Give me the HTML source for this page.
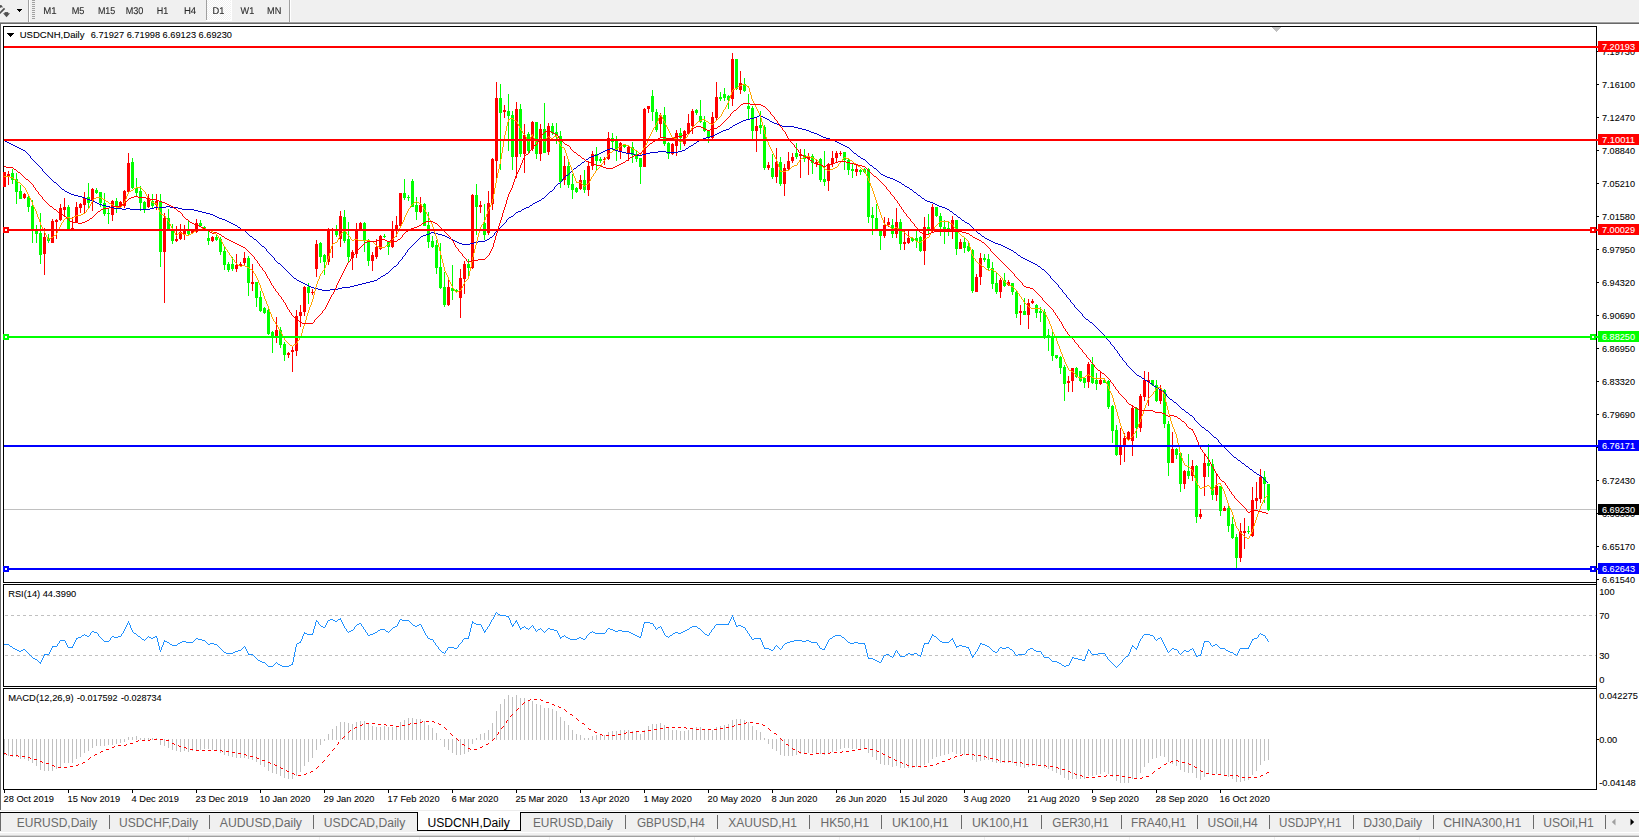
<!DOCTYPE html>
<html><head><meta charset="utf-8"><title>USDCNH,Daily</title>
<style>
html,body{margin:0;padding:0;background:#fff;}
body{width:1639px;height:840px;overflow:hidden;}
svg{display:block;font-family:"Liberation Sans",sans-serif;}
svg text{white-space:pre;}
#tbl{position:absolute;left:0;top:0;width:300px;height:22px;will-change:transform;font:9.9px/12px "Liberation Sans",sans-serif;color:#2c2c2c;-webkit-text-stroke:0.07px #2c2c2c;}
#tbl span{position:absolute;top:5.5px;margin-left:0.3px;transform-origin:0 0;white-space:pre;}
</style></head><body>
<svg width="1639" height="840" viewBox="0 0 1639 840">
<rect x="0" y="0" width="1639" height="840" fill="#ffffff"/>
<g id="toolbar">
<rect x="0" y="0" width="1639" height="22" fill="#f0f0f0"/>
<rect x="0" y="21" width="1639" height="1" fill="#f5f5f5"/>
<rect x="0" y="22" width="1639" height="1" fill="#a0a0a0"/>
<rect x="0" y="23" width="1639" height="1" fill="#696969"/>
<rect x="28" y="0" width="1" height="22" fill="#a0a0a0"/>
<rect x="29" y="0" width="1" height="22" fill="#ffffff"/>
<rect x="32" y="0" width="3" height="1" fill="#a0a0a0"/>
<rect x="32" y="2" width="3" height="1" fill="#a0a0a0"/>
<rect x="32" y="4" width="3" height="1" fill="#a0a0a0"/>
<rect x="32" y="6" width="3" height="1" fill="#a0a0a0"/>
<rect x="32" y="8" width="3" height="1" fill="#a0a0a0"/>
<rect x="32" y="10" width="3" height="1" fill="#a0a0a0"/>
<rect x="32" y="12" width="3" height="1" fill="#a0a0a0"/>
<rect x="32" y="14" width="3" height="1" fill="#a0a0a0"/>
<rect x="32" y="16" width="3" height="1" fill="#a0a0a0"/>
<rect x="32" y="18" width="3" height="1" fill="#a0a0a0"/>
<rect x="17" y="9" width="5" height="1" fill="#000"/>
<rect x="18" y="10" width="3" height="1" fill="#000"/>
<rect x="19" y="11" width="1" height="1" fill="#000"/>
<path d="M0 5 L1.6 5.2 L3 7.4 L1.5 7.2 L0 8 Z" fill="#505050"/>
<path d="M-0.5 13.4 L4.6 8.4" stroke="#505050" stroke-width="1.8" fill="none"/>
<path d="M3 13.2 L10 13.2 L6.5 17.2 Z" fill="#505050"/><path d="M4.6 12.1 L8.2 12.1 L8.2 14 L4.6 14 Z" fill="#505050"/>
<defs><pattern id="chk" x="207" y="0" width="2" height="2" patternUnits="userSpaceOnUse"><rect width="2" height="2" fill="#f0f0f0"/><rect width="1" height="1" fill="#fff"/><rect x="1" y="1" width="1" height="1" fill="#fff"/></pattern></defs>
<rect x="206" y="0" width="1" height="20" fill="#a0a0a0"/>
<rect x="207" y="0" width="24" height="20" fill="url(#chk)" shape-rendering="crispEdges"/>
<rect x="231" y="0" width="1" height="21" fill="#fff"/>
<rect x="206" y="20" width="26" height="1" fill="#fff"/>
<rect x="289" y="0" width="1" height="22" fill="#a0a0a0"/>
<rect x="290" y="0" width="1" height="22" fill="#ffffff"/>
</g>
<rect x="0" y="23" width="1" height="787" fill="#696969"/>
<g id="frames" fill="#000">
<rect x="3" y="26" width="1594" height="1" fill="#000"/>
<rect x="3" y="582" width="1594" height="1" fill="#000"/>
<rect x="3" y="26" width="1" height="557" fill="#000"/>
<rect x="3" y="584" width="1594" height="1" fill="#000"/>
<rect x="3" y="686" width="1594" height="1" fill="#000"/>
<rect x="3" y="584" width="1" height="103" fill="#000"/>
<rect x="3" y="688" width="1594" height="1" fill="#000"/>
<rect x="3" y="789" width="1594" height="1" fill="#000"/>
<rect x="3" y="688" width="1" height="102" fill="#000"/>
<rect x="1596" y="26" width="1" height="764" fill="#000"/>
</g>
<rect x="1272" y="27" width="9" height="1" fill="#c0c0c0"/>
<rect x="1273" y="28" width="7" height="1" fill="#c0c0c0"/>
<rect x="1274" y="29" width="5" height="1" fill="#c0c0c0"/>
<rect x="1275" y="30" width="3" height="1" fill="#c0c0c0"/>
<rect x="1276" y="31" width="1" height="1" fill="#c0c0c0"/>
<rect x="4" y="509" width="1592" height="1" fill="#c0c0c0"/>
<g id="candles" shape-rendering="crispEdges">
<rect x="4" y="172" width="1" height="15" fill="#ff0000"/>
<rect x="3" y="172" width="3" height="15" fill="#ff0000"/>
<rect x="8" y="171" width="1" height="14" fill="#ff0000"/>
<rect x="7" y="174" width="3" height="2" fill="#ff0000"/>
<rect x="12" y="169" width="1" height="15" fill="#00ff00"/>
<rect x="11" y="173" width="3" height="7" fill="#00ff00"/>
<rect x="16" y="173" width="1" height="31" fill="#00ff00"/>
<rect x="15" y="179" width="3" height="13" fill="#00ff00"/>
<rect x="20" y="185" width="1" height="14" fill="#00ff00"/>
<rect x="19" y="191" width="3" height="8" fill="#00ff00"/>
<rect x="24" y="193" width="1" height="6" fill="#ff0000"/>
<rect x="23" y="194" width="3" height="4" fill="#ff0000"/>
<rect x="28" y="196" width="1" height="16" fill="#00ff00"/>
<rect x="27" y="197" width="3" height="10" fill="#00ff00"/>
<rect x="32" y="200" width="1" height="43" fill="#00ff00"/>
<rect x="31" y="206" width="3" height="24" fill="#00ff00"/>
<rect x="36" y="225" width="1" height="18" fill="#00ff00"/>
<rect x="35" y="230" width="3" height="4" fill="#00ff00"/>
<rect x="40" y="213" width="1" height="51" fill="#00ff00"/>
<rect x="39" y="233" width="3" height="22" fill="#00ff00"/>
<rect x="44" y="228" width="1" height="47" fill="#ff0000"/>
<rect x="43" y="237" width="3" height="17" fill="#ff0000"/>
<rect x="48" y="234" width="1" height="9" fill="#00ff00"/>
<rect x="47" y="238" width="3" height="3" fill="#00ff00"/>
<rect x="52" y="219" width="1" height="24" fill="#ff0000"/>
<rect x="51" y="221" width="3" height="22" fill="#ff0000"/>
<rect x="56" y="219" width="1" height="20" fill="#ff0000"/>
<rect x="55" y="220" width="3" height="2" fill="#ff0000"/>
<rect x="60" y="204" width="1" height="17" fill="#ff0000"/>
<rect x="59" y="208" width="3" height="12" fill="#ff0000"/>
<rect x="64" y="198" width="1" height="19" fill="#ff0000"/>
<rect x="63" y="207" width="3" height="3" fill="#ff0000"/>
<rect x="68" y="205" width="1" height="24" fill="#00ff00"/>
<rect x="67" y="207" width="3" height="22" fill="#00ff00"/>
<rect x="72" y="217" width="1" height="12" fill="#ff0000"/>
<rect x="71" y="228" width="3" height="1" fill="#ff0000"/>
<rect x="76" y="202" width="1" height="21" fill="#ff0000"/>
<rect x="75" y="207" width="3" height="16" fill="#ff0000"/>
<rect x="80" y="203" width="1" height="10" fill="#ff0000"/>
<rect x="79" y="204" width="3" height="4" fill="#ff0000"/>
<rect x="84" y="192" width="1" height="21" fill="#ff0000"/>
<rect x="83" y="198" width="3" height="7" fill="#ff0000"/>
<rect x="88" y="183" width="1" height="25" fill="#00ff00"/>
<rect x="87" y="197" width="3" height="6" fill="#00ff00"/>
<rect x="92" y="188" width="1" height="23" fill="#ff0000"/>
<rect x="91" y="189" width="3" height="12" fill="#ff0000"/>
<rect x="96" y="188" width="1" height="6" fill="#00ff00"/>
<rect x="95" y="190" width="3" height="3" fill="#00ff00"/>
<rect x="100" y="192" width="1" height="15" fill="#00ff00"/>
<rect x="99" y="192" width="3" height="11" fill="#00ff00"/>
<rect x="104" y="193" width="1" height="23" fill="#00ff00"/>
<rect x="103" y="203" width="3" height="11" fill="#00ff00"/>
<rect x="108" y="209" width="1" height="15" fill="#00ff00"/>
<rect x="107" y="213" width="3" height="1" fill="#00ff00"/>
<rect x="112" y="200" width="1" height="21" fill="#ff0000"/>
<rect x="111" y="201" width="3" height="14" fill="#ff0000"/>
<rect x="116" y="198" width="1" height="15" fill="#00ff00"/>
<rect x="115" y="201" width="3" height="5" fill="#00ff00"/>
<rect x="120" y="201" width="1" height="6" fill="#ff0000"/>
<rect x="119" y="202" width="3" height="4" fill="#ff0000"/>
<rect x="124" y="190" width="1" height="18" fill="#ff0000"/>
<rect x="123" y="191" width="3" height="15" fill="#ff0000"/>
<rect x="128" y="153" width="1" height="39" fill="#ff0000"/>
<rect x="127" y="163" width="3" height="29" fill="#ff0000"/>
<rect x="132" y="158" width="1" height="31" fill="#00ff00"/>
<rect x="131" y="162" width="3" height="26" fill="#00ff00"/>
<rect x="136" y="178" width="1" height="19" fill="#00ff00"/>
<rect x="135" y="188" width="3" height="5" fill="#00ff00"/>
<rect x="140" y="186" width="1" height="25" fill="#00ff00"/>
<rect x="139" y="191" width="3" height="12" fill="#00ff00"/>
<rect x="144" y="201" width="1" height="12" fill="#00ff00"/>
<rect x="143" y="202" width="3" height="8" fill="#00ff00"/>
<rect x="148" y="194" width="1" height="14" fill="#ff0000"/>
<rect x="147" y="199" width="3" height="8" fill="#ff0000"/>
<rect x="152" y="194" width="1" height="14" fill="#00ff00"/>
<rect x="151" y="201" width="3" height="5" fill="#00ff00"/>
<rect x="156" y="194" width="1" height="16" fill="#ff0000"/>
<rect x="155" y="201" width="3" height="4" fill="#ff0000"/>
<rect x="160" y="194" width="1" height="73" fill="#00ff00"/>
<rect x="159" y="201" width="3" height="51" fill="#00ff00"/>
<rect x="164" y="213" width="1" height="90" fill="#ff0000"/>
<rect x="163" y="218" width="3" height="34" fill="#ff0000"/>
<rect x="168" y="209" width="1" height="21" fill="#00ff00"/>
<rect x="167" y="218" width="3" height="11" fill="#00ff00"/>
<rect x="172" y="224" width="1" height="20" fill="#00ff00"/>
<rect x="171" y="231" width="3" height="10" fill="#00ff00"/>
<rect x="176" y="226" width="1" height="16" fill="#ff0000"/>
<rect x="175" y="239" width="3" height="2" fill="#ff0000"/>
<rect x="180" y="224" width="1" height="16" fill="#ff0000"/>
<rect x="179" y="232" width="3" height="7" fill="#ff0000"/>
<rect x="184" y="225" width="1" height="15" fill="#ff0000"/>
<rect x="183" y="231" width="3" height="3" fill="#ff0000"/>
<rect x="188" y="221" width="1" height="15" fill="#00ff00"/>
<rect x="187" y="230" width="3" height="4" fill="#00ff00"/>
<rect x="192" y="230" width="1" height="4" fill="#ff0000"/>
<rect x="191" y="231" width="3" height="2" fill="#ff0000"/>
<rect x="196" y="219" width="1" height="14" fill="#ff0000"/>
<rect x="195" y="223" width="3" height="9" fill="#ff0000"/>
<rect x="200" y="220" width="1" height="7" fill="#00ff00"/>
<rect x="199" y="223" width="3" height="3" fill="#00ff00"/>
<rect x="204" y="226" width="1" height="5" fill="#00ff00"/>
<rect x="203" y="227" width="3" height="3" fill="#00ff00"/>
<rect x="208" y="231" width="1" height="14" fill="#00ff00"/>
<rect x="207" y="238" width="3" height="3" fill="#00ff00"/>
<rect x="212" y="236" width="1" height="6" fill="#ff0000"/>
<rect x="211" y="237" width="3" height="4" fill="#ff0000"/>
<rect x="216" y="235" width="1" height="6" fill="#00ff00"/>
<rect x="215" y="237" width="3" height="3" fill="#00ff00"/>
<rect x="220" y="237" width="1" height="18" fill="#00ff00"/>
<rect x="219" y="239" width="3" height="13" fill="#00ff00"/>
<rect x="224" y="246" width="1" height="24" fill="#00ff00"/>
<rect x="223" y="251" width="3" height="14" fill="#00ff00"/>
<rect x="228" y="262" width="1" height="10" fill="#00ff00"/>
<rect x="227" y="264" width="3" height="6" fill="#00ff00"/>
<rect x="232" y="257" width="1" height="14" fill="#00ff00"/>
<rect x="231" y="264" width="3" height="5" fill="#00ff00"/>
<rect x="236" y="254" width="1" height="18" fill="#ff0000"/>
<rect x="235" y="265" width="3" height="4" fill="#ff0000"/>
<rect x="240" y="262" width="1" height="5" fill="#ff0000"/>
<rect x="239" y="264" width="3" height="2" fill="#ff0000"/>
<rect x="244" y="252" width="1" height="13" fill="#ff0000"/>
<rect x="243" y="258" width="3" height="5" fill="#ff0000"/>
<rect x="248" y="256" width="1" height="40" fill="#00ff00"/>
<rect x="247" y="258" width="3" height="25" fill="#00ff00"/>
<rect x="252" y="264" width="1" height="27" fill="#ff0000"/>
<rect x="251" y="282" width="3" height="2" fill="#ff0000"/>
<rect x="256" y="282" width="1" height="25" fill="#00ff00"/>
<rect x="255" y="282" width="3" height="16" fill="#00ff00"/>
<rect x="260" y="291" width="1" height="21" fill="#00ff00"/>
<rect x="259" y="297" width="3" height="14" fill="#00ff00"/>
<rect x="264" y="307" width="1" height="7" fill="#00ff00"/>
<rect x="263" y="308" width="3" height="5" fill="#00ff00"/>
<rect x="268" y="309" width="1" height="26" fill="#00ff00"/>
<rect x="267" y="310" width="3" height="24" fill="#00ff00"/>
<rect x="272" y="331" width="1" height="22" fill="#00ff00"/>
<rect x="271" y="332" width="3" height="5" fill="#00ff00"/>
<rect x="276" y="317" width="1" height="26" fill="#ff0000"/>
<rect x="275" y="330" width="3" height="6" fill="#ff0000"/>
<rect x="280" y="327" width="1" height="21" fill="#00ff00"/>
<rect x="279" y="330" width="3" height="15" fill="#00ff00"/>
<rect x="284" y="342" width="1" height="19" fill="#00ff00"/>
<rect x="283" y="344" width="3" height="11" fill="#00ff00"/>
<rect x="288" y="352" width="1" height="6" fill="#ff0000"/>
<rect x="287" y="353" width="3" height="2" fill="#ff0000"/>
<rect x="292" y="347" width="1" height="25" fill="#ff0000"/>
<rect x="291" y="350" width="3" height="2" fill="#ff0000"/>
<rect x="296" y="310" width="1" height="46" fill="#ff0000"/>
<rect x="295" y="316" width="3" height="35" fill="#ff0000"/>
<rect x="300" y="305" width="1" height="22" fill="#ff0000"/>
<rect x="299" y="312" width="3" height="4" fill="#ff0000"/>
<rect x="304" y="286" width="1" height="30" fill="#ff0000"/>
<rect x="303" y="287" width="3" height="25" fill="#ff0000"/>
<rect x="308" y="283" width="1" height="21" fill="#00ff00"/>
<rect x="307" y="287" width="3" height="6" fill="#00ff00"/>
<rect x="312" y="289" width="1" height="6" fill="#ff0000"/>
<rect x="311" y="292" width="3" height="1" fill="#ff0000"/>
<rect x="316" y="240" width="1" height="37" fill="#ff0000"/>
<rect x="315" y="244" width="3" height="25" fill="#ff0000"/>
<rect x="320" y="242" width="1" height="21" fill="#00ff00"/>
<rect x="319" y="243" width="3" height="14" fill="#00ff00"/>
<rect x="324" y="254" width="1" height="21" fill="#00ff00"/>
<rect x="323" y="255" width="3" height="7" fill="#00ff00"/>
<rect x="328" y="228" width="1" height="37" fill="#ff0000"/>
<rect x="327" y="230" width="3" height="32" fill="#ff0000"/>
<rect x="332" y="228" width="1" height="30" fill="#ff0000"/>
<rect x="331" y="229" width="3" height="2" fill="#ff0000"/>
<rect x="336" y="225" width="1" height="12" fill="#00ff00"/>
<rect x="335" y="230" width="3" height="5" fill="#00ff00"/>
<rect x="340" y="211" width="1" height="36" fill="#ff0000"/>
<rect x="339" y="216" width="3" height="23" fill="#ff0000"/>
<rect x="344" y="210" width="1" height="33" fill="#00ff00"/>
<rect x="343" y="217" width="3" height="24" fill="#00ff00"/>
<rect x="348" y="222" width="1" height="40" fill="#00ff00"/>
<rect x="347" y="239" width="3" height="18" fill="#00ff00"/>
<rect x="352" y="250" width="1" height="20" fill="#ff0000"/>
<rect x="351" y="252" width="3" height="6" fill="#ff0000"/>
<rect x="356" y="223" width="1" height="35" fill="#ff0000"/>
<rect x="355" y="229" width="3" height="25" fill="#ff0000"/>
<rect x="360" y="222" width="1" height="8" fill="#ff0000"/>
<rect x="359" y="223" width="3" height="7" fill="#ff0000"/>
<rect x="364" y="222" width="1" height="30" fill="#00ff00"/>
<rect x="363" y="223" width="3" height="17" fill="#00ff00"/>
<rect x="368" y="239" width="1" height="27" fill="#00ff00"/>
<rect x="367" y="240" width="3" height="21" fill="#00ff00"/>
<rect x="372" y="252" width="1" height="19" fill="#ff0000"/>
<rect x="371" y="255" width="3" height="6" fill="#ff0000"/>
<rect x="376" y="239" width="1" height="20" fill="#ff0000"/>
<rect x="375" y="247" width="3" height="10" fill="#ff0000"/>
<rect x="380" y="235" width="1" height="15" fill="#ff0000"/>
<rect x="379" y="236" width="3" height="13" fill="#ff0000"/>
<rect x="384" y="234" width="1" height="4" fill="#00ff00"/>
<rect x="383" y="236" width="3" height="1" fill="#00ff00"/>
<rect x="388" y="242" width="1" height="13" fill="#00ff00"/>
<rect x="387" y="242" width="3" height="5" fill="#00ff00"/>
<rect x="392" y="221" width="1" height="27" fill="#ff0000"/>
<rect x="391" y="231" width="3" height="16" fill="#ff0000"/>
<rect x="396" y="216" width="1" height="21" fill="#ff0000"/>
<rect x="395" y="225" width="3" height="6" fill="#ff0000"/>
<rect x="400" y="193" width="1" height="33" fill="#ff0000"/>
<rect x="399" y="193" width="3" height="33" fill="#ff0000"/>
<rect x="404" y="179" width="1" height="21" fill="#00ff00"/>
<rect x="403" y="193" width="3" height="5" fill="#00ff00"/>
<rect x="408" y="195" width="1" height="6" fill="#00ff00"/>
<rect x="407" y="197" width="3" height="1" fill="#00ff00"/>
<rect x="412" y="179" width="1" height="28" fill="#00ff00"/>
<rect x="411" y="181" width="3" height="26" fill="#00ff00"/>
<rect x="416" y="197" width="1" height="23" fill="#00ff00"/>
<rect x="415" y="205" width="3" height="7" fill="#00ff00"/>
<rect x="420" y="197" width="1" height="16" fill="#ff0000"/>
<rect x="419" y="205" width="3" height="7" fill="#ff0000"/>
<rect x="424" y="203" width="1" height="23" fill="#00ff00"/>
<rect x="423" y="204" width="3" height="22" fill="#00ff00"/>
<rect x="428" y="212" width="1" height="36" fill="#00ff00"/>
<rect x="427" y="225" width="3" height="17" fill="#00ff00"/>
<rect x="432" y="236" width="1" height="12" fill="#00ff00"/>
<rect x="431" y="241" width="3" height="6" fill="#00ff00"/>
<rect x="436" y="240" width="1" height="34" fill="#00ff00"/>
<rect x="435" y="245" width="3" height="23" fill="#00ff00"/>
<rect x="440" y="243" width="1" height="46" fill="#00ff00"/>
<rect x="439" y="267" width="3" height="21" fill="#00ff00"/>
<rect x="444" y="272" width="1" height="35" fill="#00ff00"/>
<rect x="443" y="287" width="3" height="18" fill="#00ff00"/>
<rect x="448" y="280" width="1" height="26" fill="#ff0000"/>
<rect x="447" y="287" width="3" height="18" fill="#ff0000"/>
<rect x="452" y="265" width="1" height="35" fill="#00ff00"/>
<rect x="451" y="288" width="3" height="3" fill="#00ff00"/>
<rect x="456" y="289" width="1" height="3" fill="#00ff00"/>
<rect x="455" y="290" width="3" height="2" fill="#00ff00"/>
<rect x="460" y="269" width="1" height="49" fill="#ff0000"/>
<rect x="459" y="278" width="3" height="20" fill="#ff0000"/>
<rect x="464" y="261" width="1" height="33" fill="#ff0000"/>
<rect x="463" y="264" width="3" height="15" fill="#ff0000"/>
<rect x="468" y="259" width="1" height="17" fill="#00ff00"/>
<rect x="467" y="264" width="3" height="4" fill="#00ff00"/>
<rect x="472" y="194" width="1" height="75" fill="#ff0000"/>
<rect x="471" y="195" width="3" height="73" fill="#ff0000"/>
<rect x="476" y="184" width="1" height="51" fill="#00ff00"/>
<rect x="475" y="195" width="3" height="12" fill="#00ff00"/>
<rect x="480" y="201" width="1" height="12" fill="#ff0000"/>
<rect x="479" y="205" width="3" height="2" fill="#ff0000"/>
<rect x="484" y="204" width="1" height="36" fill="#00ff00"/>
<rect x="483" y="223" width="3" height="12" fill="#00ff00"/>
<rect x="488" y="191" width="1" height="44" fill="#ff0000"/>
<rect x="487" y="203" width="3" height="30" fill="#ff0000"/>
<rect x="492" y="158" width="1" height="52" fill="#ff0000"/>
<rect x="491" y="159" width="3" height="45" fill="#ff0000"/>
<rect x="496" y="82" width="1" height="96" fill="#ff0000"/>
<rect x="495" y="98" width="3" height="63" fill="#ff0000"/>
<rect x="500" y="84" width="1" height="86" fill="#00ff00"/>
<rect x="499" y="98" width="3" height="15" fill="#00ff00"/>
<rect x="504" y="105" width="1" height="13" fill="#ff0000"/>
<rect x="503" y="110" width="3" height="2" fill="#ff0000"/>
<rect x="508" y="94" width="1" height="57" fill="#00ff00"/>
<rect x="507" y="111" width="3" height="5" fill="#00ff00"/>
<rect x="512" y="111" width="1" height="59" fill="#00ff00"/>
<rect x="511" y="115" width="3" height="42" fill="#00ff00"/>
<rect x="516" y="102" width="1" height="76" fill="#ff0000"/>
<rect x="515" y="109" width="3" height="48" fill="#ff0000"/>
<rect x="520" y="104" width="1" height="53" fill="#00ff00"/>
<rect x="519" y="109" width="3" height="45" fill="#00ff00"/>
<rect x="524" y="124" width="1" height="49" fill="#ff0000"/>
<rect x="523" y="135" width="3" height="19" fill="#ff0000"/>
<rect x="528" y="132" width="1" height="22" fill="#00ff00"/>
<rect x="527" y="134" width="3" height="17" fill="#00ff00"/>
<rect x="532" y="121" width="1" height="30" fill="#ff0000"/>
<rect x="531" y="122" width="3" height="27" fill="#ff0000"/>
<rect x="536" y="122" width="1" height="37" fill="#00ff00"/>
<rect x="535" y="122" width="3" height="32" fill="#00ff00"/>
<rect x="540" y="124" width="1" height="37" fill="#ff0000"/>
<rect x="539" y="129" width="3" height="25" fill="#ff0000"/>
<rect x="544" y="103" width="1" height="50" fill="#00ff00"/>
<rect x="543" y="129" width="3" height="24" fill="#00ff00"/>
<rect x="548" y="123" width="1" height="32" fill="#ff0000"/>
<rect x="547" y="126" width="3" height="26" fill="#ff0000"/>
<rect x="552" y="123" width="1" height="12" fill="#00ff00"/>
<rect x="551" y="126" width="3" height="7" fill="#00ff00"/>
<rect x="556" y="123" width="1" height="21" fill="#00ff00"/>
<rect x="555" y="132" width="3" height="4" fill="#00ff00"/>
<rect x="560" y="131" width="1" height="57" fill="#00ff00"/>
<rect x="559" y="136" width="3" height="46" fill="#00ff00"/>
<rect x="564" y="156" width="1" height="29" fill="#ff0000"/>
<rect x="563" y="166" width="3" height="14" fill="#ff0000"/>
<rect x="568" y="162" width="1" height="26" fill="#00ff00"/>
<rect x="567" y="166" width="3" height="19" fill="#00ff00"/>
<rect x="572" y="174" width="1" height="25" fill="#00ff00"/>
<rect x="571" y="184" width="3" height="6" fill="#00ff00"/>
<rect x="576" y="187" width="1" height="6" fill="#00ff00"/>
<rect x="575" y="188" width="3" height="4" fill="#00ff00"/>
<rect x="580" y="175" width="1" height="15" fill="#ff0000"/>
<rect x="579" y="180" width="3" height="9" fill="#ff0000"/>
<rect x="584" y="170" width="1" height="23" fill="#00ff00"/>
<rect x="583" y="180" width="3" height="10" fill="#00ff00"/>
<rect x="588" y="161" width="1" height="35" fill="#ff0000"/>
<rect x="587" y="166" width="3" height="24" fill="#ff0000"/>
<rect x="592" y="151" width="1" height="19" fill="#ff0000"/>
<rect x="591" y="154" width="3" height="12" fill="#ff0000"/>
<rect x="596" y="147" width="1" height="23" fill="#00ff00"/>
<rect x="595" y="154" width="3" height="7" fill="#00ff00"/>
<rect x="600" y="157" width="1" height="6" fill="#00ff00"/>
<rect x="599" y="159" width="3" height="2" fill="#00ff00"/>
<rect x="604" y="157" width="1" height="8" fill="#ff0000"/>
<rect x="603" y="159" width="3" height="1" fill="#ff0000"/>
<rect x="608" y="132" width="1" height="28" fill="#ff0000"/>
<rect x="607" y="138" width="3" height="21" fill="#ff0000"/>
<rect x="612" y="133" width="1" height="17" fill="#00ff00"/>
<rect x="611" y="138" width="3" height="4" fill="#00ff00"/>
<rect x="616" y="136" width="1" height="25" fill="#00ff00"/>
<rect x="615" y="141" width="3" height="10" fill="#00ff00"/>
<rect x="620" y="142" width="1" height="17" fill="#ff0000"/>
<rect x="619" y="143" width="3" height="8" fill="#ff0000"/>
<rect x="624" y="144" width="1" height="4" fill="#00ff00"/>
<rect x="623" y="145" width="3" height="2" fill="#00ff00"/>
<rect x="628" y="146" width="1" height="15" fill="#ff0000"/>
<rect x="627" y="147" width="3" height="6" fill="#ff0000"/>
<rect x="632" y="142" width="1" height="21" fill="#00ff00"/>
<rect x="631" y="147" width="3" height="8" fill="#00ff00"/>
<rect x="636" y="150" width="1" height="12" fill="#00ff00"/>
<rect x="635" y="154" width="3" height="5" fill="#00ff00"/>
<rect x="640" y="158" width="1" height="26" fill="#00ff00"/>
<rect x="639" y="158" width="3" height="9" fill="#00ff00"/>
<rect x="644" y="108" width="1" height="59" fill="#ff0000"/>
<rect x="643" y="109" width="3" height="58" fill="#ff0000"/>
<rect x="648" y="106" width="1" height="7" fill="#ff0000"/>
<rect x="647" y="106" width="3" height="3" fill="#ff0000"/>
<rect x="652" y="90" width="1" height="31" fill="#00ff00"/>
<rect x="651" y="96" width="3" height="16" fill="#00ff00"/>
<rect x="656" y="109" width="1" height="23" fill="#00ff00"/>
<rect x="655" y="112" width="3" height="18" fill="#00ff00"/>
<rect x="660" y="113" width="1" height="25" fill="#ff0000"/>
<rect x="659" y="115" width="3" height="9" fill="#ff0000"/>
<rect x="664" y="107" width="1" height="39" fill="#00ff00"/>
<rect x="663" y="115" width="3" height="29" fill="#00ff00"/>
<rect x="668" y="142" width="1" height="17" fill="#00ff00"/>
<rect x="667" y="143" width="3" height="11" fill="#00ff00"/>
<rect x="672" y="143" width="1" height="12" fill="#ff0000"/>
<rect x="671" y="144" width="3" height="10" fill="#ff0000"/>
<rect x="676" y="130" width="1" height="26" fill="#ff0000"/>
<rect x="675" y="133" width="3" height="13" fill="#ff0000"/>
<rect x="680" y="128" width="1" height="22" fill="#00ff00"/>
<rect x="679" y="133" width="3" height="5" fill="#00ff00"/>
<rect x="684" y="130" width="1" height="16" fill="#ff0000"/>
<rect x="683" y="131" width="3" height="13" fill="#ff0000"/>
<rect x="688" y="114" width="1" height="21" fill="#ff0000"/>
<rect x="687" y="123" width="3" height="11" fill="#ff0000"/>
<rect x="692" y="109" width="1" height="25" fill="#ff0000"/>
<rect x="691" y="111" width="3" height="15" fill="#ff0000"/>
<rect x="696" y="109" width="1" height="6" fill="#00ff00"/>
<rect x="695" y="110" width="3" height="3" fill="#00ff00"/>
<rect x="700" y="100" width="1" height="23" fill="#00ff00"/>
<rect x="699" y="116" width="3" height="6" fill="#00ff00"/>
<rect x="704" y="116" width="1" height="16" fill="#00ff00"/>
<rect x="703" y="122" width="3" height="9" fill="#00ff00"/>
<rect x="708" y="130" width="1" height="13" fill="#00ff00"/>
<rect x="707" y="131" width="3" height="7" fill="#00ff00"/>
<rect x="712" y="112" width="1" height="29" fill="#ff0000"/>
<rect x="711" y="117" width="3" height="21" fill="#ff0000"/>
<rect x="716" y="82" width="1" height="38" fill="#ff0000"/>
<rect x="715" y="97" width="3" height="21" fill="#ff0000"/>
<rect x="720" y="92" width="1" height="9" fill="#00ff00"/>
<rect x="719" y="97" width="3" height="2" fill="#00ff00"/>
<rect x="724" y="88" width="1" height="13" fill="#00ff00"/>
<rect x="723" y="94" width="3" height="4" fill="#00ff00"/>
<rect x="728" y="95" width="1" height="14" fill="#00ff00"/>
<rect x="727" y="96" width="3" height="4" fill="#00ff00"/>
<rect x="732" y="53" width="1" height="53" fill="#ff0000"/>
<rect x="731" y="59" width="3" height="40" fill="#ff0000"/>
<rect x="736" y="59" width="1" height="31" fill="#00ff00"/>
<rect x="735" y="59" width="3" height="30" fill="#00ff00"/>
<rect x="740" y="71" width="1" height="23" fill="#ff0000"/>
<rect x="739" y="83" width="3" height="7" fill="#ff0000"/>
<rect x="744" y="78" width="1" height="14" fill="#00ff00"/>
<rect x="743" y="84" width="3" height="7" fill="#00ff00"/>
<rect x="748" y="94" width="1" height="25" fill="#00ff00"/>
<rect x="747" y="106" width="3" height="3" fill="#00ff00"/>
<rect x="752" y="106" width="1" height="33" fill="#00ff00"/>
<rect x="751" y="108" width="3" height="23" fill="#00ff00"/>
<rect x="756" y="117" width="1" height="35" fill="#ff0000"/>
<rect x="755" y="126" width="3" height="5" fill="#ff0000"/>
<rect x="760" y="111" width="1" height="23" fill="#00ff00"/>
<rect x="759" y="125" width="3" height="3" fill="#00ff00"/>
<rect x="764" y="125" width="1" height="45" fill="#00ff00"/>
<rect x="763" y="127" width="3" height="41" fill="#00ff00"/>
<rect x="768" y="162" width="1" height="8" fill="#ff0000"/>
<rect x="767" y="165" width="3" height="3" fill="#ff0000"/>
<rect x="772" y="154" width="1" height="25" fill="#00ff00"/>
<rect x="771" y="168" width="3" height="9" fill="#00ff00"/>
<rect x="776" y="148" width="1" height="35" fill="#ff0000"/>
<rect x="775" y="162" width="3" height="15" fill="#ff0000"/>
<rect x="780" y="157" width="1" height="29" fill="#00ff00"/>
<rect x="779" y="162" width="3" height="22" fill="#00ff00"/>
<rect x="784" y="164" width="1" height="32" fill="#ff0000"/>
<rect x="783" y="168" width="3" height="16" fill="#ff0000"/>
<rect x="788" y="152" width="1" height="19" fill="#ff0000"/>
<rect x="787" y="161" width="3" height="8" fill="#ff0000"/>
<rect x="792" y="153" width="1" height="10" fill="#ff0000"/>
<rect x="791" y="157" width="3" height="4" fill="#ff0000"/>
<rect x="796" y="143" width="1" height="16" fill="#00ff00"/>
<rect x="795" y="153" width="3" height="4" fill="#00ff00"/>
<rect x="800" y="149" width="1" height="29" fill="#ff0000"/>
<rect x="799" y="154" width="3" height="2" fill="#ff0000"/>
<rect x="804" y="149" width="1" height="13" fill="#00ff00"/>
<rect x="803" y="155" width="3" height="4" fill="#00ff00"/>
<rect x="808" y="153" width="1" height="22" fill="#ff0000"/>
<rect x="807" y="157" width="3" height="2" fill="#ff0000"/>
<rect x="812" y="154" width="1" height="20" fill="#00ff00"/>
<rect x="811" y="156" width="3" height="7" fill="#00ff00"/>
<rect x="816" y="160" width="1" height="7" fill="#ff0000"/>
<rect x="815" y="162" width="3" height="2" fill="#ff0000"/>
<rect x="820" y="158" width="1" height="24" fill="#00ff00"/>
<rect x="819" y="159" width="3" height="21" fill="#00ff00"/>
<rect x="824" y="151" width="1" height="35" fill="#00ff00"/>
<rect x="823" y="179" width="3" height="3" fill="#00ff00"/>
<rect x="828" y="163" width="1" height="28" fill="#ff0000"/>
<rect x="827" y="164" width="3" height="17" fill="#ff0000"/>
<rect x="832" y="151" width="1" height="16" fill="#ff0000"/>
<rect x="831" y="158" width="3" height="6" fill="#ff0000"/>
<rect x="836" y="151" width="1" height="11" fill="#ff0000"/>
<rect x="835" y="153" width="3" height="5" fill="#ff0000"/>
<rect x="840" y="151" width="1" height="5" fill="#ff0000"/>
<rect x="839" y="153" width="3" height="1" fill="#ff0000"/>
<rect x="844" y="152" width="1" height="18" fill="#00ff00"/>
<rect x="843" y="152" width="3" height="8" fill="#00ff00"/>
<rect x="848" y="159" width="1" height="16" fill="#00ff00"/>
<rect x="847" y="160" width="3" height="10" fill="#00ff00"/>
<rect x="852" y="164" width="1" height="14" fill="#00ff00"/>
<rect x="851" y="169" width="3" height="2" fill="#00ff00"/>
<rect x="856" y="164" width="1" height="12" fill="#ff0000"/>
<rect x="855" y="169" width="3" height="3" fill="#ff0000"/>
<rect x="860" y="169" width="1" height="6" fill="#00ff00"/>
<rect x="859" y="170" width="3" height="2" fill="#00ff00"/>
<rect x="864" y="168" width="1" height="5" fill="#00ff00"/>
<rect x="863" y="169" width="3" height="3" fill="#00ff00"/>
<rect x="868" y="168" width="1" height="55" fill="#00ff00"/>
<rect x="867" y="169" width="3" height="48" fill="#00ff00"/>
<rect x="872" y="207" width="1" height="28" fill="#00ff00"/>
<rect x="871" y="215" width="3" height="3" fill="#00ff00"/>
<rect x="876" y="204" width="1" height="26" fill="#00ff00"/>
<rect x="875" y="218" width="3" height="12" fill="#00ff00"/>
<rect x="880" y="229" width="1" height="21" fill="#00ff00"/>
<rect x="879" y="230" width="3" height="6" fill="#00ff00"/>
<rect x="884" y="217" width="1" height="21" fill="#ff0000"/>
<rect x="883" y="225" width="3" height="11" fill="#ff0000"/>
<rect x="888" y="218" width="1" height="9" fill="#ff0000"/>
<rect x="887" y="222" width="3" height="3" fill="#ff0000"/>
<rect x="892" y="219" width="1" height="19" fill="#00ff00"/>
<rect x="891" y="225" width="3" height="9" fill="#00ff00"/>
<rect x="896" y="208" width="1" height="30" fill="#ff0000"/>
<rect x="895" y="222" width="3" height="12" fill="#ff0000"/>
<rect x="900" y="219" width="1" height="31" fill="#00ff00"/>
<rect x="899" y="222" width="3" height="22" fill="#00ff00"/>
<rect x="904" y="231" width="1" height="19" fill="#ff0000"/>
<rect x="903" y="242" width="3" height="2" fill="#ff0000"/>
<rect x="908" y="229" width="1" height="15" fill="#ff0000"/>
<rect x="907" y="238" width="3" height="5" fill="#ff0000"/>
<rect x="912" y="237" width="1" height="5" fill="#00ff00"/>
<rect x="911" y="238" width="3" height="3" fill="#00ff00"/>
<rect x="916" y="231" width="1" height="17" fill="#00ff00"/>
<rect x="915" y="238" width="3" height="3" fill="#00ff00"/>
<rect x="920" y="236" width="1" height="16" fill="#00ff00"/>
<rect x="919" y="237" width="3" height="14" fill="#00ff00"/>
<rect x="924" y="217" width="1" height="48" fill="#ff0000"/>
<rect x="923" y="227" width="3" height="24" fill="#ff0000"/>
<rect x="928" y="214" width="1" height="21" fill="#00ff00"/>
<rect x="927" y="227" width="3" height="2" fill="#00ff00"/>
<rect x="932" y="204" width="1" height="28" fill="#ff0000"/>
<rect x="931" y="207" width="3" height="22" fill="#ff0000"/>
<rect x="936" y="207" width="1" height="10" fill="#00ff00"/>
<rect x="935" y="207" width="3" height="9" fill="#00ff00"/>
<rect x="940" y="213" width="1" height="23" fill="#00ff00"/>
<rect x="939" y="216" width="3" height="11" fill="#00ff00"/>
<rect x="944" y="220" width="1" height="24" fill="#00ff00"/>
<rect x="943" y="227" width="3" height="3" fill="#00ff00"/>
<rect x="948" y="222" width="1" height="14" fill="#00ff00"/>
<rect x="947" y="228" width="3" height="2" fill="#00ff00"/>
<rect x="952" y="216" width="1" height="23" fill="#ff0000"/>
<rect x="951" y="220" width="3" height="9" fill="#ff0000"/>
<rect x="956" y="220" width="1" height="35" fill="#00ff00"/>
<rect x="955" y="220" width="3" height="29" fill="#00ff00"/>
<rect x="960" y="239" width="1" height="10" fill="#ff0000"/>
<rect x="959" y="242" width="3" height="7" fill="#ff0000"/>
<rect x="964" y="238" width="1" height="15" fill="#00ff00"/>
<rect x="963" y="242" width="3" height="6" fill="#00ff00"/>
<rect x="968" y="242" width="1" height="10" fill="#00ff00"/>
<rect x="967" y="246" width="3" height="5" fill="#00ff00"/>
<rect x="972" y="249" width="1" height="44" fill="#00ff00"/>
<rect x="971" y="250" width="3" height="41" fill="#00ff00"/>
<rect x="976" y="274" width="1" height="18" fill="#ff0000"/>
<rect x="975" y="277" width="3" height="15" fill="#ff0000"/>
<rect x="980" y="253" width="1" height="32" fill="#ff0000"/>
<rect x="979" y="258" width="3" height="19" fill="#ff0000"/>
<rect x="984" y="254" width="1" height="8" fill="#00ff00"/>
<rect x="983" y="258" width="3" height="2" fill="#00ff00"/>
<rect x="988" y="254" width="1" height="16" fill="#00ff00"/>
<rect x="987" y="259" width="3" height="9" fill="#00ff00"/>
<rect x="992" y="262" width="1" height="27" fill="#00ff00"/>
<rect x="991" y="268" width="3" height="16" fill="#00ff00"/>
<rect x="996" y="272" width="1" height="22" fill="#00ff00"/>
<rect x="995" y="283" width="3" height="9" fill="#00ff00"/>
<rect x="1000" y="278" width="1" height="20" fill="#ff0000"/>
<rect x="999" y="280" width="3" height="12" fill="#ff0000"/>
<rect x="1004" y="273" width="1" height="14" fill="#00ff00"/>
<rect x="1003" y="280" width="3" height="6" fill="#00ff00"/>
<rect x="1008" y="280" width="1" height="6" fill="#ff0000"/>
<rect x="1007" y="282" width="3" height="3" fill="#ff0000"/>
<rect x="1012" y="283" width="1" height="12" fill="#00ff00"/>
<rect x="1011" y="283" width="3" height="9" fill="#00ff00"/>
<rect x="1016" y="291" width="1" height="27" fill="#00ff00"/>
<rect x="1015" y="292" width="3" height="22" fill="#00ff00"/>
<rect x="1020" y="305" width="1" height="20" fill="#ff0000"/>
<rect x="1019" y="311" width="3" height="2" fill="#ff0000"/>
<rect x="1024" y="298" width="1" height="17" fill="#00ff00"/>
<rect x="1023" y="311" width="3" height="4" fill="#00ff00"/>
<rect x="1028" y="299" width="1" height="30" fill="#ff0000"/>
<rect x="1027" y="303" width="3" height="12" fill="#ff0000"/>
<rect x="1032" y="299" width="1" height="5" fill="#ff0000"/>
<rect x="1031" y="301" width="3" height="2" fill="#ff0000"/>
<rect x="1036" y="304" width="1" height="14" fill="#00ff00"/>
<rect x="1035" y="305" width="3" height="8" fill="#00ff00"/>
<rect x="1040" y="307" width="1" height="15" fill="#00ff00"/>
<rect x="1039" y="311" width="3" height="2" fill="#00ff00"/>
<rect x="1044" y="309" width="1" height="30" fill="#00ff00"/>
<rect x="1043" y="312" width="3" height="24" fill="#00ff00"/>
<rect x="1048" y="329" width="1" height="22" fill="#00ff00"/>
<rect x="1047" y="335" width="3" height="3" fill="#00ff00"/>
<rect x="1052" y="331" width="1" height="30" fill="#00ff00"/>
<rect x="1051" y="337" width="3" height="19" fill="#00ff00"/>
<rect x="1056" y="355" width="1" height="4" fill="#00ff00"/>
<rect x="1055" y="355" width="3" height="3" fill="#00ff00"/>
<rect x="1060" y="356" width="1" height="18" fill="#00ff00"/>
<rect x="1059" y="357" width="3" height="11" fill="#00ff00"/>
<rect x="1064" y="365" width="1" height="36" fill="#00ff00"/>
<rect x="1063" y="367" width="3" height="17" fill="#00ff00"/>
<rect x="1068" y="376" width="1" height="16" fill="#ff0000"/>
<rect x="1067" y="381" width="3" height="2" fill="#ff0000"/>
<rect x="1072" y="368" width="1" height="24" fill="#ff0000"/>
<rect x="1071" y="368" width="3" height="13" fill="#ff0000"/>
<rect x="1076" y="367" width="1" height="11" fill="#00ff00"/>
<rect x="1075" y="368" width="3" height="9" fill="#00ff00"/>
<rect x="1080" y="371" width="1" height="11" fill="#00ff00"/>
<rect x="1079" y="371" width="3" height="10" fill="#00ff00"/>
<rect x="1084" y="377" width="1" height="11" fill="#00ff00"/>
<rect x="1083" y="378" width="3" height="5" fill="#00ff00"/>
<rect x="1088" y="362" width="1" height="26" fill="#ff0000"/>
<rect x="1087" y="364" width="3" height="18" fill="#ff0000"/>
<rect x="1092" y="357" width="1" height="27" fill="#00ff00"/>
<rect x="1091" y="364" width="3" height="19" fill="#00ff00"/>
<rect x="1096" y="373" width="1" height="17" fill="#00ff00"/>
<rect x="1095" y="380" width="3" height="4" fill="#00ff00"/>
<rect x="1100" y="371" width="1" height="14" fill="#ff0000"/>
<rect x="1099" y="380" width="3" height="4" fill="#ff0000"/>
<rect x="1104" y="380" width="1" height="3" fill="#00ff00"/>
<rect x="1103" y="380" width="3" height="3" fill="#00ff00"/>
<rect x="1108" y="380" width="1" height="29" fill="#00ff00"/>
<rect x="1107" y="381" width="3" height="26" fill="#00ff00"/>
<rect x="1112" y="405" width="1" height="38" fill="#00ff00"/>
<rect x="1111" y="406" width="3" height="25" fill="#00ff00"/>
<rect x="1116" y="425" width="1" height="31" fill="#00ff00"/>
<rect x="1115" y="430" width="3" height="25" fill="#00ff00"/>
<rect x="1120" y="428" width="1" height="37" fill="#ff0000"/>
<rect x="1119" y="447" width="3" height="8" fill="#ff0000"/>
<rect x="1124" y="433" width="1" height="29" fill="#ff0000"/>
<rect x="1123" y="438" width="3" height="9" fill="#ff0000"/>
<rect x="1128" y="431" width="1" height="10" fill="#ff0000"/>
<rect x="1127" y="432" width="3" height="7" fill="#ff0000"/>
<rect x="1132" y="406" width="1" height="50" fill="#ff0000"/>
<rect x="1131" y="408" width="3" height="33" fill="#ff0000"/>
<rect x="1136" y="407" width="1" height="31" fill="#00ff00"/>
<rect x="1135" y="408" width="3" height="20" fill="#00ff00"/>
<rect x="1140" y="394" width="1" height="38" fill="#ff0000"/>
<rect x="1139" y="396" width="3" height="32" fill="#ff0000"/>
<rect x="1144" y="371" width="1" height="30" fill="#ff0000"/>
<rect x="1143" y="380" width="3" height="17" fill="#ff0000"/>
<rect x="1148" y="372" width="1" height="34" fill="#ff0000"/>
<rect x="1147" y="380" width="3" height="2" fill="#ff0000"/>
<rect x="1152" y="380" width="1" height="6" fill="#00ff00"/>
<rect x="1151" y="380" width="3" height="5" fill="#00ff00"/>
<rect x="1156" y="380" width="1" height="22" fill="#00ff00"/>
<rect x="1155" y="385" width="3" height="16" fill="#00ff00"/>
<rect x="1160" y="385" width="1" height="19" fill="#ff0000"/>
<rect x="1159" y="390" width="3" height="11" fill="#ff0000"/>
<rect x="1164" y="389" width="1" height="39" fill="#00ff00"/>
<rect x="1163" y="390" width="3" height="34" fill="#00ff00"/>
<rect x="1168" y="421" width="1" height="55" fill="#00ff00"/>
<rect x="1167" y="424" width="3" height="39" fill="#00ff00"/>
<rect x="1172" y="432" width="1" height="31" fill="#ff0000"/>
<rect x="1171" y="449" width="3" height="14" fill="#ff0000"/>
<rect x="1176" y="448" width="1" height="11" fill="#00ff00"/>
<rect x="1175" y="449" width="3" height="6" fill="#00ff00"/>
<rect x="1180" y="452" width="1" height="40" fill="#00ff00"/>
<rect x="1179" y="453" width="3" height="31" fill="#00ff00"/>
<rect x="1184" y="470" width="1" height="19" fill="#ff0000"/>
<rect x="1183" y="471" width="3" height="13" fill="#ff0000"/>
<rect x="1188" y="454" width="1" height="25" fill="#00ff00"/>
<rect x="1187" y="471" width="3" height="5" fill="#00ff00"/>
<rect x="1192" y="460" width="1" height="21" fill="#ff0000"/>
<rect x="1191" y="466" width="3" height="10" fill="#ff0000"/>
<rect x="1196" y="465" width="1" height="58" fill="#00ff00"/>
<rect x="1195" y="466" width="3" height="51" fill="#00ff00"/>
<rect x="1200" y="509" width="1" height="10" fill="#ff0000"/>
<rect x="1199" y="514" width="3" height="3" fill="#ff0000"/>
<rect x="1204" y="453" width="1" height="43" fill="#ff0000"/>
<rect x="1203" y="463" width="3" height="14" fill="#ff0000"/>
<rect x="1208" y="444" width="1" height="33" fill="#00ff00"/>
<rect x="1207" y="463" width="3" height="3" fill="#00ff00"/>
<rect x="1212" y="459" width="1" height="41" fill="#00ff00"/>
<rect x="1211" y="464" width="3" height="31" fill="#00ff00"/>
<rect x="1216" y="474" width="1" height="27" fill="#ff0000"/>
<rect x="1215" y="486" width="3" height="9" fill="#ff0000"/>
<rect x="1220" y="486" width="1" height="30" fill="#00ff00"/>
<rect x="1219" y="486" width="3" height="25" fill="#00ff00"/>
<rect x="1224" y="506" width="1" height="5" fill="#ff0000"/>
<rect x="1223" y="508" width="3" height="3" fill="#ff0000"/>
<rect x="1228" y="503" width="1" height="29" fill="#00ff00"/>
<rect x="1227" y="508" width="3" height="18" fill="#00ff00"/>
<rect x="1232" y="517" width="1" height="22" fill="#00ff00"/>
<rect x="1231" y="524" width="3" height="14" fill="#00ff00"/>
<rect x="1236" y="534" width="1" height="34" fill="#00ff00"/>
<rect x="1235" y="537" width="3" height="21" fill="#00ff00"/>
<rect x="1240" y="523" width="1" height="39" fill="#ff0000"/>
<rect x="1239" y="531" width="3" height="27" fill="#ff0000"/>
<rect x="1244" y="518" width="1" height="31" fill="#ff0000"/>
<rect x="1243" y="531" width="3" height="2" fill="#ff0000"/>
<rect x="1248" y="526" width="1" height="8" fill="#00ff00"/>
<rect x="1247" y="531" width="3" height="1" fill="#00ff00"/>
<rect x="1252" y="487" width="1" height="50" fill="#ff0000"/>
<rect x="1251" y="500" width="3" height="36" fill="#ff0000"/>
<rect x="1256" y="482" width="1" height="27" fill="#ff0000"/>
<rect x="1255" y="498" width="3" height="3" fill="#ff0000"/>
<rect x="1260" y="469" width="1" height="34" fill="#ff0000"/>
<rect x="1259" y="477" width="3" height="22" fill="#ff0000"/>
<rect x="1264" y="471" width="1" height="32" fill="#00ff00"/>
<rect x="1263" y="477" width="3" height="7" fill="#00ff00"/>
<rect x="1268" y="484" width="1" height="27" fill="#00ff00"/>
<rect x="1267" y="484" width="3" height="26" fill="#00ff00"/>
</g>
<g id="mas" fill="none" stroke-width="1" shape-rendering="crispEdges">
<path d="M4.5 140V141M5.5 141V142M6.5 141V142M7.5 142V143M8.5 142V143M9.5 143V144M10.5 143V144M11.5 144V145M12.5 144V145M13.5 145V146M14.5 145V146M15.5 146V147M16.5 146V147M17.5 147V148M18.5 147V148M19.5 148V149M20.5 148V149M21.5 149V150M22.5 149V150M23.5 150V151M24.5 150V151M25.5 151V152M26.5 152V153M27.5 153V154M28.5 154V155M29.5 155V156M30.5 156V158M31.5 158V159M32.5 159V160M33.5 160V161M34.5 161V162M35.5 162V163M36.5 163V164M37.5 164V165M38.5 165V166M39.5 166V167M40.5 167V168M41.5 168V169M42.5 169V171M43.5 171V172M44.5 172V173M45.5 173V174M46.5 174V175M47.5 175V176M48.5 176V177M49.5 177V178M50.5 178V179M51.5 179V180M52.5 180V181M53.5 181V182M54.5 182V183M55.5 182V183M56.5 183V184M57.5 184V185M58.5 185V186M59.5 186V187M60.5 187V188M61.5 188V189M62.5 189V190M63.5 189V190M64.5 190V191M65.5 191V192M66.5 191V192M67.5 192V193M68.5 192V193M69.5 193V194M70.5 193V194M71.5 194V195M72.5 194V195M73.5 194V195M74.5 195V196M75.5 195V196M76.5 195V196M77.5 195V196M78.5 196V197M79.5 196V197M80.5 196V197M81.5 196V197M82.5 197V198M83.5 197V198M84.5 197V198M85.5 198V199M86.5 198V199M87.5 199V200M88.5 199V200M89.5 199V200M90.5 200V201M91.5 200V201M92.5 200V201M93.5 201V202M94.5 201V202M95.5 202V203M96.5 202V203M97.5 203V204M98.5 203V204M99.5 204V205M100.5 204V205M101.5 204V205M102.5 205V206M103.5 205V206M104.5 205V206M105.5 205V206M106.5 206V207M107.5 206V207M108.5 206V207M109.5 206V207M110.5 207V208M111.5 207V208M112.5 207V208M113.5 207V208M114.5 208V209M115.5 208V209M116.5 208V209M117.5 208V209M118.5 208V209M119.5 208V209M120.5 208V209M121.5 208V209M122.5 209V210M123.5 209V210M124.5 209V210M125.5 209V210M126.5 208V209M127.5 208V209M128.5 208V209M129.5 208V209M130.5 209V210M131.5 209V210M132.5 209V210M133.5 209V210M134.5 209V210M135.5 209V210M136.5 209V210M137.5 209V210M138.5 209V210M139.5 209V210M140.5 209V210M141.5 209V210M142.5 209V210M143.5 209V210M144.5 209V210M145.5 209V210M146.5 209V210M147.5 209V210M148.5 209V210M149.5 209V210M150.5 208V209M151.5 208V209M152.5 208V209M153.5 208V209M154.5 207V208M155.5 207V208M156.5 207V208M157.5 207V208M158.5 207V208M159.5 207V208M160.5 207V208M161.5 207V208M162.5 207V208M163.5 207V208M164.5 207V208M165.5 207V208M166.5 206V207M167.5 206V207M168.5 206V207M169.5 206V207M170.5 207V208M171.5 207V208M172.5 207V208M173.5 207V208M174.5 207V208M175.5 207V208M176.5 207V208M177.5 207V208M178.5 208V209M179.5 208V209M180.5 208V209M181.5 208V209M182.5 209V210M183.5 209V210M184.5 209V210M185.5 209V210M186.5 209V210M187.5 209V210M188.5 209V210M189.5 209V210M190.5 209V210M191.5 209V210M192.5 209V210M193.5 209V210M194.5 210V211M195.5 210V211M196.5 210V211M197.5 210V211M198.5 211V212M199.5 211V212M200.5 211V212M201.5 211V212M202.5 212V213M203.5 212V213M204.5 212V213M205.5 212V213M206.5 213V214M207.5 213V214M208.5 213V214M209.5 213V214M210.5 214V215M211.5 214V215M212.5 214V215M213.5 215V216M214.5 215V216M215.5 216V217M216.5 216V217M217.5 217V218M218.5 217V218M219.5 218V219M220.5 218V219M221.5 218V219M222.5 219V220M223.5 219V220M224.5 219V220M225.5 220V221M226.5 220V221M227.5 221V222M228.5 221V222M229.5 222V223M230.5 222V223M231.5 223V224M232.5 223V224M233.5 224V225M234.5 224V225M235.5 225V226M236.5 225V226M237.5 226V227M238.5 227V228M239.5 227V228M240.5 228V229M241.5 229V230M242.5 229V230M243.5 230V231M244.5 230V231M245.5 231V232M246.5 232V233M247.5 233V234M248.5 234V235M249.5 235V236M250.5 236V237M251.5 236V237M252.5 237V238M253.5 238V239M254.5 239V240M255.5 239V240M256.5 240V241M257.5 241V242M258.5 242V243M259.5 243V244M260.5 244V245M261.5 245V246M262.5 246V247M263.5 246V247M264.5 247V248M265.5 248V249M266.5 249V251M267.5 251V252M268.5 252V253M269.5 253V254M270.5 254V255M271.5 255V256M272.5 256V257M273.5 257V258M274.5 258V260M275.5 260V261M276.5 261V262M277.5 262V263M278.5 263V264M279.5 263V264M280.5 264V265M281.5 265V266M282.5 266V267M283.5 267V268M284.5 268V269M285.5 269V270M286.5 270V271M287.5 271V272M288.5 272V273M289.5 273V274M290.5 274V275M291.5 275V276M292.5 276V277M293.5 277V278M294.5 278V279M295.5 278V279M296.5 279V280M297.5 280V281M298.5 280V281M299.5 281V282M300.5 281V282M301.5 282V283M302.5 282V283M303.5 283V284M304.5 283V284M305.5 284V285M306.5 284V285M307.5 285V286M308.5 285V286M309.5 286V287M310.5 286V287M311.5 287V288M312.5 287V288M313.5 287V288M314.5 288V289M315.5 288V289M316.5 288V289M317.5 288V289M318.5 289V290M319.5 289V290M320.5 289V290M321.5 289V290M322.5 290V291M323.5 290V291M324.5 290V291M325.5 290V291M326.5 290V291M327.5 290V291M328.5 290V291M329.5 290V291M330.5 289V290M331.5 289V290M332.5 289V290M333.5 289V290M334.5 289V290M335.5 289V290M336.5 289V290M337.5 289V290M338.5 288V289M339.5 288V289M340.5 288V289M341.5 288V289M342.5 287V288M343.5 287V288M344.5 287V288M345.5 287V288M346.5 287V288M347.5 287V288M348.5 287V288M349.5 287V288M350.5 286V287M351.5 286V287M352.5 286V287M353.5 286V287M354.5 285V286M355.5 285V286M356.5 285V286M357.5 285V286M358.5 284V285M359.5 284V285M360.5 284V285M361.5 284V285M362.5 283V284M363.5 283V284M364.5 283V284M365.5 283V284M366.5 282V283M367.5 282V283M368.5 282V283M369.5 282V283M370.5 281V282M371.5 281V282M372.5 281V282M373.5 281V282M374.5 280V281M375.5 280V281M376.5 280V281M377.5 279V280M378.5 278V279M379.5 278V279M380.5 277V278M381.5 276V277M382.5 276V277M383.5 275V276M384.5 275V276M385.5 274V275M386.5 273V274M387.5 273V274M388.5 272V273M389.5 271V272M390.5 270V271M391.5 269V270M392.5 268V269M393.5 267V268M394.5 266V267M395.5 266V267M396.5 265V266M397.5 264V265M398.5 262V264M399.5 261V262M400.5 260V261M401.5 259V260M402.5 257V259M403.5 256V257M404.5 255V256M405.5 253V255M406.5 252V253M407.5 250V252M408.5 249V250M409.5 248V249M410.5 247V248M411.5 246V247M412.5 245V246M413.5 244V245M414.5 243V244M415.5 242V243M416.5 241V242M417.5 240V241M418.5 239V240M419.5 238V239M420.5 237V238M421.5 236V237M422.5 236V237M423.5 235V236M424.5 235V236M425.5 235V236M426.5 234V235M427.5 234V235M428.5 234V235M429.5 233V234M430.5 233V234M431.5 232V233M432.5 232V233M433.5 232V233M434.5 233V234M435.5 233V234M436.5 233V234M437.5 233V234M438.5 234V235M439.5 234V235M440.5 234V235M441.5 234V235M442.5 235V236M443.5 235V236M444.5 235V236M445.5 236V237M446.5 236V237M447.5 237V238M448.5 237V238M449.5 238V239M450.5 238V239M451.5 239V240M452.5 239V240M453.5 240V241M454.5 240V241M455.5 241V242M456.5 241V242M457.5 242V243M458.5 242V243M459.5 243V244M460.5 243V244M461.5 243V244M462.5 244V245M463.5 244V245M464.5 244V245M465.5 244V245M466.5 244V245M467.5 244V245M468.5 244V245M469.5 244V245M470.5 243V244M471.5 243V244M472.5 243V244M473.5 243V244M474.5 242V243M475.5 242V243M476.5 242V243M477.5 242V243M478.5 241V242M479.5 241V242M480.5 241V242M481.5 241V242M482.5 241V242M483.5 241V242M484.5 241V242M485.5 240V241M486.5 240V241M487.5 239V240M488.5 239V240M489.5 238V239M490.5 237V238M491.5 237V238M492.5 236V237M493.5 235V236M494.5 233V235M495.5 232V233M496.5 231V232M497.5 230V231M498.5 229V230M499.5 228V229M500.5 227V228M501.5 226V227M502.5 225V226M503.5 224V225M504.5 223V224M505.5 222V223M506.5 220V222M507.5 219V220M508.5 218V219M509.5 217V218M510.5 217V218M511.5 216V217M512.5 216V217M513.5 215V216M514.5 214V215M515.5 213V214M516.5 212V213M517.5 212V213M518.5 211V212M519.5 211V212M520.5 211V212M521.5 210V211M522.5 209V210M523.5 209V210M524.5 208V209M525.5 208V209M526.5 207V208M527.5 207V208M528.5 207V208M529.5 206V207M530.5 205V206M531.5 205V206M532.5 204V205M533.5 203V204M534.5 203V204M535.5 202V203M536.5 202V203M537.5 201V202M538.5 201V202M539.5 200V201M540.5 200V201M541.5 199V200M542.5 198V199M543.5 198V199M544.5 197V198M545.5 196V197M546.5 195V196M547.5 194V195M548.5 193V194M549.5 192V193M550.5 191V192M551.5 191V192M552.5 190V191M553.5 189V190M554.5 187V189M555.5 186V187M556.5 185V186M557.5 184V185M558.5 183V184M559.5 183V184M560.5 182V183M561.5 181V182M562.5 179V181M563.5 178V179M564.5 177V178M565.5 176V177M566.5 175V176M567.5 175V176M568.5 174V175M569.5 173V174M570.5 172V173M571.5 171V172M572.5 170V171M573.5 169V170M574.5 168V169M575.5 168V169M576.5 167V168M577.5 166V167M578.5 165V166M579.5 165V166M580.5 164V165M581.5 163V164M582.5 162V163M583.5 162V163M584.5 161V162M585.5 160V161M586.5 159V160M587.5 159V160M588.5 158V159M589.5 157V158M590.5 157V158M591.5 156V157M592.5 156V157M593.5 156V157M594.5 155V156M595.5 155V156M596.5 155V156M597.5 154V155M598.5 154V155M599.5 153V154M600.5 153V154M601.5 152V153M602.5 152V153M603.5 151V152M604.5 151V152M605.5 150V151M606.5 150V151M607.5 149V150M608.5 149V150M609.5 149V150M610.5 148V149M611.5 148V149M612.5 148V149M613.5 149V150M614.5 149V150M615.5 150V151M616.5 150V151M617.5 150V151M618.5 151V152M619.5 151V152M620.5 151V152M621.5 151V152M622.5 152V153M623.5 152V153M624.5 152V153M625.5 152V153M626.5 153V154M627.5 153V154M628.5 153V154M629.5 153V154M630.5 153V154M631.5 153V154M632.5 153V154M633.5 154V155M634.5 154V155M635.5 155V156M636.5 155V156M637.5 155V156M638.5 155V156M639.5 155V156M640.5 155V156M641.5 155V156M642.5 154V155M643.5 154V155M644.5 154V155M645.5 154V155M646.5 153V154M647.5 153V154M648.5 153V154M649.5 153V154M650.5 152V153M651.5 152V153M652.5 152V153M653.5 152V153M654.5 152V153M655.5 152V153M656.5 152V153M657.5 152V153M658.5 151V152M659.5 151V152M660.5 151V152M661.5 151V152M662.5 151V152M663.5 151V152M664.5 151V152M665.5 151V152M666.5 152V153M667.5 152V153M668.5 152V153M669.5 152V153M670.5 152V153M671.5 152V153M672.5 152V153M673.5 152V153M674.5 152V153M675.5 152V153M676.5 152V153M677.5 152V153M678.5 151V152M679.5 151V152M680.5 151V152M681.5 151V152M682.5 150V151M683.5 150V151M684.5 150V151M685.5 149V150M686.5 148V149M687.5 148V149M688.5 147V148M689.5 146V147M690.5 146V147M691.5 145V146M692.5 145V146M693.5 144V145M694.5 143V144M695.5 143V144M696.5 142V143M697.5 141V142M698.5 141V142M699.5 140V141M700.5 140V141M701.5 139V140M702.5 139V140M703.5 138V139M704.5 138V139M705.5 138V139M706.5 137V138M707.5 137V138M708.5 137V138M709.5 137V138M710.5 136V137M711.5 136V137M712.5 136V137M713.5 135V136M714.5 135V136M715.5 134V135M716.5 134V135M717.5 133V134M718.5 133V134M719.5 132V133M720.5 132V133M721.5 131V132M722.5 131V132M723.5 130V131M724.5 130V131M725.5 130V131M726.5 129V130M727.5 129V130M728.5 129V130M729.5 128V129M730.5 127V128M731.5 127V128M732.5 126V127M733.5 125V126M734.5 125V126M735.5 124V125M736.5 124V125M737.5 123V124M738.5 123V124M739.5 122V123M740.5 122V123M741.5 121V122M742.5 121V122M743.5 120V121M744.5 120V121M745.5 120V121M746.5 119V120M747.5 119V120M748.5 119V120M749.5 119V120M750.5 118V119M751.5 118V119M752.5 118V119M753.5 118V119M754.5 117V118M755.5 117V118M756.5 117V118M757.5 116V117M758.5 116V117M759.5 115V116M760.5 115V116M761.5 116V117M762.5 116V117M763.5 117V118M764.5 117V118M765.5 118V119M766.5 118V119M767.5 119V120M768.5 119V120M769.5 120V121M770.5 121V122M771.5 121V122M772.5 122V123M773.5 122V123M774.5 123V124M775.5 123V124M776.5 123V124M777.5 124V125M778.5 124V125M779.5 125V126M780.5 125V126M781.5 125V126M782.5 126V127M783.5 126V127M784.5 126V127M785.5 126V127M786.5 126V127M787.5 126V127M788.5 126V127M789.5 126V127M790.5 126V127M791.5 126V127M792.5 126V127M793.5 126V127M794.5 127V128M795.5 127V128M796.5 127V128M797.5 127V128M798.5 128V129M799.5 128V129M800.5 128V129M801.5 128V129M802.5 129V130M803.5 129V130M804.5 129V130M805.5 129V130M806.5 130V131M807.5 130V131M808.5 130V131M809.5 131V132M810.5 131V132M811.5 132V133M812.5 132V133M813.5 132V133M814.5 133V134M815.5 133V134M816.5 133V134M817.5 134V135M818.5 134V135M819.5 135V136M820.5 135V136M821.5 136V137M822.5 136V137M823.5 137V138M824.5 137V138M825.5 137V138M826.5 138V139M827.5 138V139M828.5 138V139M829.5 138V139M830.5 139V140M831.5 139V140M832.5 139V140M833.5 140V141M834.5 140V141M835.5 141V142M836.5 141V142M837.5 142V143M838.5 142V143M839.5 143V144M840.5 143V144M841.5 144V145M842.5 144V145M843.5 145V146M844.5 145V146M845.5 146V147M846.5 146V147M847.5 147V148M848.5 147V148M849.5 148V149M850.5 149V150M851.5 150V151M852.5 151V152M853.5 152V153M854.5 153V154M855.5 153V154M856.5 154V155M857.5 155V156M858.5 156V157M859.5 156V157M860.5 157V158M861.5 158V159M862.5 158V159M863.5 159V160M864.5 159V160M865.5 160V161M866.5 161V162M867.5 162V163M868.5 163V164M869.5 164V165M870.5 165V166M871.5 165V166M872.5 166V167M873.5 167V168M874.5 168V169M875.5 168V169M876.5 169V170M877.5 170V171M878.5 171V172M879.5 172V173M880.5 173V174M881.5 174V175M882.5 174V175M883.5 175V176M884.5 175V176M885.5 176V177M886.5 176V177M887.5 177V178M888.5 177V178M889.5 177V178M890.5 178V179M891.5 178V179M892.5 178V179M893.5 179V180M894.5 179V180M895.5 180V181M896.5 180V181M897.5 181V182M898.5 181V182M899.5 182V183M900.5 182V183M901.5 183V184M902.5 184V185M903.5 184V185M904.5 185V186M905.5 186V187M906.5 186V187M907.5 187V188M908.5 187V188M909.5 188V189M910.5 189V190M911.5 189V190M912.5 190V191M913.5 191V192M914.5 192V193M915.5 192V193M916.5 193V194M917.5 194V195M918.5 195V196M919.5 195V196M920.5 196V197M921.5 197V198M922.5 198V199M923.5 198V199M924.5 199V200M925.5 200V201M926.5 200V201M927.5 201V202M928.5 201V202M929.5 201V202M930.5 202V203M931.5 202V203M932.5 202V203M933.5 203V204M934.5 203V204M935.5 204V205M936.5 204V205M937.5 205V206M938.5 205V206M939.5 206V207M940.5 206V207M941.5 206V207M942.5 207V208M943.5 207V208M944.5 207V208M945.5 208V209M946.5 208V209M947.5 209V210M948.5 209V210M949.5 210V211M950.5 211V212M951.5 211V212M952.5 212V213M953.5 213V214M954.5 214V215M955.5 214V215M956.5 215V216M957.5 216V217M958.5 217V218M959.5 217V218M960.5 218V219M961.5 219V220M962.5 220V221M963.5 220V221M964.5 221V222M965.5 222V223M966.5 222V223M967.5 223V224M968.5 223V224M969.5 224V225M970.5 225V226M971.5 226V227M972.5 227V228M973.5 228V229M974.5 229V230M975.5 230V231M976.5 231V232M977.5 232V233M978.5 233V234M979.5 233V234M980.5 234V235M981.5 235V236M982.5 236V237M983.5 236V237M984.5 237V238M985.5 238V239M986.5 238V239M987.5 239V240M988.5 239V240M989.5 240V241M990.5 240V241M991.5 241V242M992.5 241V242M993.5 242V243M994.5 242V243M995.5 243V244M996.5 243V244M997.5 243V244M998.5 244V245M999.5 244V245M1000.5 244V245M1001.5 245V246M1002.5 245V246M1003.5 246V247M1004.5 246V247M1005.5 247V248M1006.5 247V248M1007.5 248V249M1008.5 248V249M1009.5 249V250M1010.5 249V250M1011.5 250V251M1012.5 250V251M1013.5 251V252M1014.5 252V253M1015.5 252V253M1016.5 253V254M1017.5 254V255M1018.5 255V256M1019.5 255V256M1020.5 256V257M1021.5 257V258M1022.5 257V258M1023.5 258V259M1024.5 258V259M1025.5 259V260M1026.5 259V260M1027.5 260V261M1028.5 260V261M1029.5 261V262M1030.5 261V262M1031.5 262V263M1032.5 262V263M1033.5 263V264M1034.5 263V264M1035.5 264V265M1036.5 264V265M1037.5 265V266M1038.5 266V267M1039.5 266V267M1040.5 267V268M1041.5 268V269M1042.5 269V270M1043.5 269V270M1044.5 270V271M1045.5 271V272M1046.5 272V273M1047.5 273V274M1048.5 274V275M1049.5 275V276M1050.5 276V278M1051.5 278V279M1052.5 279V280M1053.5 280V281M1054.5 281V282M1055.5 282V283M1056.5 283V284M1057.5 284V285M1058.5 285V287M1059.5 287V288M1060.5 288V289M1061.5 289V290M1062.5 290V292M1063.5 292V293M1064.5 293V294M1065.5 294V295M1066.5 295V297M1067.5 297V298M1068.5 298V299M1069.5 299V300M1070.5 300V302M1071.5 302V303M1072.5 303V304M1073.5 304V305M1074.5 305V307M1075.5 307V308M1076.5 308V309M1077.5 309V310M1078.5 310V311M1079.5 311V312M1080.5 312V313M1081.5 313V314M1082.5 314V316M1083.5 316V317M1084.5 317V318M1085.5 318V319M1086.5 319V320M1087.5 319V320M1088.5 320V321M1089.5 321V322M1090.5 322V323M1091.5 322V323M1092.5 323V324M1093.5 324V325M1094.5 325V326M1095.5 326V327M1096.5 327V328M1097.5 328V329M1098.5 329V330M1099.5 330V331M1100.5 331V332M1101.5 332V333M1102.5 333V334M1103.5 334V335M1104.5 335V336M1105.5 336V337M1106.5 337V339M1107.5 339V340M1108.5 340V341M1109.5 341V342M1110.5 342V344M1111.5 344V345M1112.5 345V346M1113.5 346V347M1114.5 347V349M1115.5 349V350M1116.5 350V351M1117.5 351V353M1118.5 353V354M1119.5 354V356M1120.5 356V357M1121.5 357V358M1122.5 358V360M1123.5 360V361M1124.5 361V362M1125.5 362V363M1126.5 363V365M1127.5 365V366M1128.5 366V367M1129.5 367V368M1130.5 368V369M1131.5 369V370M1132.5 370V371M1133.5 371V372M1134.5 372V373M1135.5 373V374M1136.5 374V375M1137.5 375V376M1138.5 375V376M1139.5 376V377M1140.5 376V377M1141.5 377V378M1142.5 378V379M1143.5 378V379M1144.5 379V380M1145.5 380V381M1146.5 380V381M1147.5 381V382M1148.5 381V382M1149.5 382V383M1150.5 383V384M1151.5 383V384M1152.5 384V385M1153.5 385V386M1154.5 386V387M1155.5 386V387M1156.5 387V388M1157.5 388V389M1158.5 388V389M1159.5 389V390M1160.5 389V390M1161.5 390V391M1162.5 391V392M1163.5 391V392M1164.5 392V393M1165.5 393V394M1166.5 394V396M1167.5 396V397M1168.5 397V398M1169.5 398V399M1170.5 399V400M1171.5 399V400M1172.5 400V401M1173.5 401V402M1174.5 402V403M1175.5 402V403M1176.5 403V404M1177.5 404V405M1178.5 405V406M1179.5 406V407M1180.5 407V408M1181.5 408V409M1182.5 409V410M1183.5 409V410M1184.5 410V411M1185.5 411V412M1186.5 412V413M1187.5 412V413M1188.5 413V414M1189.5 414V415M1190.5 415V416M1191.5 415V416M1192.5 416V417M1193.5 417V418M1194.5 418V420M1195.5 420V421M1196.5 421V422M1197.5 422V423M1198.5 423V424M1199.5 424V425M1200.5 425V426M1201.5 426V427M1202.5 427V428M1203.5 427V428M1204.5 428V429M1205.5 429V430M1206.5 430V431M1207.5 430V431M1208.5 431V432M1209.5 432V433M1210.5 433V434M1211.5 434V435M1212.5 435V436M1213.5 436V437M1214.5 437V438M1215.5 437V438M1216.5 438V439M1217.5 439V440M1218.5 440V442M1219.5 442V443M1220.5 443V444M1221.5 444V445M1222.5 445V446M1223.5 446V447M1224.5 447V448M1225.5 448V449M1226.5 449V450M1227.5 450V451M1228.5 451V452M1229.5 452V453M1230.5 453V454M1231.5 454V455M1232.5 455V456M1233.5 456V457M1234.5 457V458M1235.5 457V458M1236.5 458V459M1237.5 459V460M1238.5 460V461M1239.5 460V461M1240.5 461V462M1241.5 462V463M1242.5 463V464M1243.5 463V464M1244.5 464V465M1245.5 465V466M1246.5 466V467M1247.5 466V467M1248.5 467V468M1249.5 468V469M1250.5 469V470M1251.5 469V470M1252.5 470V471M1253.5 471V472M1254.5 472V473M1255.5 472V473M1256.5 473V474M1257.5 474V475M1258.5 474V475M1259.5 475V476M1260.5 475V476M1261.5 476V477M1262.5 477V478M1263.5 478V479M1264.5 479V480M1265.5 480V481M1266.5 481V482M1267.5 482V483" stroke="#0000cd"/>
<path d="M4.5 176V177M5.5 176V177M6.5 176V177M7.5 176V177M8.5 176V177M9.5 176V177M10.5 177V178M11.5 177V178M12.5 177V178M13.5 178V179M14.5 179V180M15.5 179V180M16.5 180V181M17.5 181V182M18.5 182V183M19.5 182V183M20.5 183V184M21.5 184V185M22.5 185V186M23.5 186V187M24.5 187V188M25.5 188V190M26.5 190V192M27.5 192V194M28.5 194V196M29.5 196V198M30.5 198V200M31.5 200V202M32.5 202V205M33.5 205V207M34.5 207V209M35.5 209V211M36.5 211V214M37.5 214V217M38.5 217V219M39.5 219V222M40.5 222V225M41.5 225V227M42.5 227V229M43.5 229V231M44.5 231V233M45.5 233V235M46.5 235V237M47.5 237V239M48.5 239V240M49.5 238V239M50.5 238V239M51.5 237V238M52.5 237V238M53.5 236V237M54.5 235V236M55.5 235V236M56.5 233V235M57.5 231V233M58.5 229V231M59.5 227V229M60.5 225V227M61.5 223V225M62.5 222V223M63.5 220V222M64.5 219V220M65.5 218V219M66.5 218V219M67.5 217V218M68.5 217V218M69.5 217V218M70.5 218V219M71.5 218V219M72.5 218V219M73.5 217V218M74.5 216V217M75.5 216V217M76.5 215V216M77.5 215V216M78.5 215V216M79.5 215V216M80.5 215V216M81.5 214V215M82.5 214V215M83.5 213V214M84.5 213V214M85.5 212V213M86.5 210V212M87.5 209V210M88.5 208V209M89.5 206V208M90.5 204V206M91.5 202V204M92.5 200V202M93.5 199V200M94.5 198V199M95.5 198V199M96.5 197V198M97.5 197V198M98.5 197V198M99.5 197V198M100.5 197V198M101.5 198V199M102.5 198V199M103.5 199V200M104.5 199V200M105.5 200V201M106.5 201V202M107.5 201V202M108.5 202V203M109.5 203V204M110.5 203V204M111.5 204V205M112.5 204V205M113.5 205V206M114.5 206V207M115.5 206V207M116.5 207V208M117.5 207V208M118.5 207V208M119.5 207V208M120.5 207V208M121.5 206V207M122.5 204V206M123.5 203V204M124.5 201V203M125.5 199V201M126.5 196V199M127.5 194V196M128.5 192V194M129.5 191V192M130.5 191V192M131.5 190V191M132.5 190V191M133.5 189V190M134.5 188V189M135.5 188V189M136.5 187V188M137.5 187V188M138.5 187V188M139.5 187V188M140.5 187V188M141.5 188V189M142.5 189V190M143.5 190V191M144.5 191V192M145.5 192V194M146.5 194V196M147.5 196V198M148.5 198V199M149.5 199V200M150.5 200V201M151.5 201V202M152.5 202V203M153.5 202V203M154.5 203V204M155.5 203V204M156.5 203V205M157.5 205V207M158.5 207V210M159.5 210V212M160.5 212V214M161.5 214V215M162.5 214V215M163.5 215V216M164.5 215V216M165.5 216V218M166.5 218V219M167.5 219V221M168.5 221V222M169.5 222V224M170.5 224V226M171.5 226V228M172.5 228V229M173.5 229V231M174.5 231V233M175.5 233V235M176.5 235V236M177.5 234V235M178.5 233V234M179.5 233V234M180.5 232V233M181.5 233V234M182.5 233V234M183.5 234V235M184.5 234V235M185.5 234V235M186.5 235V236M187.5 235V236M188.5 235V236M189.5 234V235M190.5 234V235M191.5 233V234M192.5 233V234M193.5 232V233M194.5 231V232M195.5 231V232M196.5 230V231M197.5 230V231M198.5 229V230M199.5 229V230M200.5 229V230M201.5 229V230M202.5 228V229M203.5 228V229M204.5 228V229M205.5 228V229M206.5 229V230M207.5 229V230M208.5 229V230M209.5 230V231M210.5 230V231M211.5 231V232M212.5 231V232M213.5 232V233M214.5 233V234M215.5 233V234M216.5 234V235M217.5 235V236M218.5 236V238M219.5 238V239M220.5 239V240M221.5 240V242M222.5 242V244M223.5 244V246M224.5 246V247M225.5 247V249M226.5 249V250M227.5 250V252M228.5 252V253M229.5 253V255M230.5 255V256M231.5 256V258M232.5 258V259M233.5 259V260M234.5 260V262M235.5 262V263M236.5 263V264M237.5 264V265M238.5 265V266M239.5 265V266M240.5 266V267M241.5 266V267M242.5 265V266M243.5 265V266M244.5 265V266M245.5 266V267M246.5 266V267M247.5 267V268M248.5 267V268M249.5 268V269M250.5 269V270M251.5 269V270M252.5 270V271M253.5 271V273M254.5 273V274M255.5 274V276M256.5 276V278M257.5 278V280M258.5 280V283M259.5 283V285M260.5 285V288M261.5 288V291M262.5 291V293M263.5 293V296M264.5 296V299M265.5 299V301M266.5 301V304M267.5 304V306M268.5 306V309M269.5 309V312M270.5 312V314M271.5 314V317M272.5 317V319M273.5 319V321M274.5 321V322M275.5 322V324M276.5 324V325M277.5 325V327M278.5 327V329M279.5 329V331M280.5 331V332M281.5 332V334M282.5 334V336M283.5 336V338M284.5 338V340M285.5 340V341M286.5 341V342M287.5 342V343M288.5 343V344M289.5 344V345M290.5 345V346M291.5 345V346M292.5 346V347M293.5 345V346M294.5 344V345M295.5 344V345M296.5 343V344M297.5 341V343M298.5 340V341M299.5 338V340M300.5 336V338M301.5 333V336M302.5 329V333M303.5 326V329M304.5 323V326M305.5 320V323M306.5 316V320M307.5 313V316M308.5 310V313M309.5 307V310M310.5 305V307M311.5 302V305M312.5 299V302M313.5 295V299M314.5 291V295M315.5 287V291M316.5 284V287M317.5 281V284M318.5 279V281M319.5 276V279M320.5 274V276M321.5 273V274M322.5 271V273M323.5 270V271M324.5 268V270M325.5 265V268M326.5 262V265M327.5 259V262M328.5 256V259M329.5 253V256M330.5 249V253M331.5 246V249M332.5 244V246M333.5 243V244M334.5 243V244M335.5 242V243M336.5 242V243M337.5 240V242M338.5 238V240M339.5 236V238M340.5 234V236M341.5 233V234M342.5 232V233M343.5 231V232M344.5 230V231M345.5 231V232M346.5 232V234M347.5 234V235M348.5 235V236M349.5 236V237M350.5 237V239M351.5 239V240M352.5 240V241M353.5 240V241M354.5 239V240M355.5 239V240M356.5 239V240M357.5 239V240M358.5 240V241M359.5 240V241M360.5 240V241M361.5 240V241M362.5 240V241M363.5 240V241M364.5 240V241M365.5 240V241M366.5 240V241M367.5 240V241M368.5 240V241M369.5 240V241M370.5 241V242M371.5 241V242M372.5 241V242M373.5 242V243M374.5 243V244M375.5 244V245M376.5 245V246M377.5 246V247M378.5 246V247M379.5 247V248M380.5 247V248M381.5 247V248M382.5 247V248M383.5 247V248M384.5 247V248M385.5 246V247M386.5 245V246M387.5 245V246M388.5 244V245M389.5 243V244M390.5 241V243M391.5 240V241M392.5 239V240M393.5 238V239M394.5 237V238M395.5 236V237M396.5 234V236M397.5 232V234M398.5 230V232M399.5 228V230M400.5 226V228M401.5 224V226M402.5 222V224M403.5 220V222M404.5 217V220M405.5 215V217M406.5 213V215M407.5 211V213M408.5 209V211M409.5 208V209M410.5 206V208M411.5 205V206M412.5 204V205M413.5 203V204M414.5 202V203M415.5 202V203M416.5 201V202M417.5 202V203M418.5 202V203M419.5 203V204M420.5 203V204M421.5 204V206M422.5 206V207M423.5 207V209M424.5 209V210M425.5 210V212M426.5 212V214M427.5 214V216M428.5 216V218M429.5 218V220M430.5 220V222M431.5 222V224M432.5 224V227M433.5 227V230M434.5 230V233M435.5 233V236M436.5 236V239M437.5 239V243M438.5 243V247M439.5 247V251M440.5 251V255M441.5 255V259M442.5 259V263M443.5 263V267M444.5 267V271M445.5 271V273M446.5 273V275M447.5 275V277M448.5 277V280M449.5 280V282M450.5 282V284M451.5 284V286M452.5 286V288M453.5 288V289M454.5 289V291M455.5 291V292M456.5 292V293M457.5 291V292M458.5 291V292M459.5 290V291M460.5 290V291M461.5 288V290M462.5 286V288M463.5 284V286M464.5 282V284M465.5 281V282M466.5 280V281M467.5 279V280M468.5 276V279M469.5 271V276M470.5 267V271M471.5 262V267M472.5 257V262M473.5 253V257M474.5 249V253M475.5 245V249M476.5 241V245M477.5 237V241M478.5 233V237M479.5 229V233M480.5 227V229M481.5 225V227M482.5 224V225M483.5 222V224M484.5 220V222M485.5 217V220M486.5 214V217M487.5 211V214M488.5 209V211M489.5 207V209M490.5 205V207M491.5 203V205M492.5 199V203M493.5 194V199M494.5 188V194M495.5 183V188M496.5 178V183M497.5 173V178M498.5 169V173M499.5 164V169M500.5 159V164M501.5 153V159M502.5 147V153M503.5 141V147M504.5 135V141M505.5 131V135M506.5 126V131M507.5 122V126M508.5 119V122M509.5 119V120M510.5 118V119M511.5 118V119M512.5 118V119M513.5 119V120M514.5 120V121M515.5 120V121M516.5 121V122M517.5 122V124M518.5 124V126M519.5 126V128M520.5 128V130M521.5 130V131M522.5 131V133M523.5 133V134M524.5 134V135M525.5 135V137M526.5 137V139M527.5 139V141M528.5 141V142M529.5 139V141M530.5 137V139M531.5 135V137M532.5 134V136M533.5 136V138M534.5 138V140M535.5 140V142M536.5 142V144M537.5 142V143M538.5 140V142M539.5 139V140M540.5 138V139M541.5 139V140M542.5 140V141M543.5 140V141M544.5 141V142M545.5 140V141M546.5 138V140M547.5 137V138M548.5 136V137M549.5 137V138M550.5 137V138M551.5 138V139M552.5 138V139M553.5 137V138M554.5 136V137M555.5 136V137M556.5 135V137M557.5 137V139M558.5 139V142M559.5 142V144M560.5 144V146M561.5 146V147M562.5 147V148M563.5 147V148M564.5 148V150M565.5 150V153M566.5 153V156M567.5 156V159M568.5 159V162M569.5 162V165M570.5 165V167M571.5 167V170M572.5 170V173M573.5 173V176M574.5 176V178M575.5 178V181M576.5 181V183M577.5 182V183M578.5 182V183M579.5 182V183M580.5 182V183M581.5 183V184M582.5 184V185M583.5 185V186M584.5 186V187M585.5 185V186M586.5 184V185M587.5 184V185M588.5 183V184M589.5 181V183M590.5 179V181M591.5 177V179M592.5 176V177M593.5 174V176M594.5 173V174M595.5 171V173M596.5 170V171M597.5 169V170M598.5 168V169M599.5 167V168M600.5 166V167M601.5 164V166M602.5 163V164M603.5 161V163M604.5 160V161M605.5 158V160M606.5 157V158M607.5 155V157M608.5 154V155M609.5 153V154M610.5 152V153M611.5 152V153M612.5 151V152M613.5 150V151M614.5 150V151M615.5 149V150M616.5 149V150M617.5 148V149M618.5 147V148M619.5 147V148M620.5 146V147M621.5 145V146M622.5 145V146M623.5 144V145M624.5 144V145M625.5 144V145M626.5 145V146M627.5 145V146M628.5 145V146M629.5 146V147M630.5 147V148M631.5 147V148M632.5 148V149M633.5 149V150M634.5 149V150M635.5 150V151M636.5 150V151M637.5 151V152M638.5 152V153M639.5 153V154M640.5 154V155M641.5 152V154M642.5 150V152M643.5 148V150M644.5 147V148M645.5 145V147M646.5 143V145M647.5 141V143M648.5 138V141M649.5 136V138M650.5 134V136M651.5 132V134M652.5 130V132M653.5 128V130M654.5 127V128M655.5 125V127M656.5 123V125M657.5 121V123M658.5 118V121M659.5 116V118M660.5 114V116M661.5 115V117M662.5 117V119M663.5 119V121M664.5 121V123M665.5 123V125M666.5 125V127M667.5 127V129M668.5 129V131M669.5 131V133M670.5 133V135M671.5 135V137M672.5 137V138M673.5 137V138M674.5 138V139M675.5 138V139M676.5 138V139M677.5 139V140M678.5 140V141M679.5 141V142M680.5 142V143M681.5 141V142M682.5 141V142M683.5 140V141M684.5 140V141M685.5 138V140M686.5 137V138M687.5 135V137M688.5 134V135M689.5 132V134M690.5 130V132M691.5 128V130M692.5 127V128M693.5 126V127M694.5 125V126M695.5 124V125M696.5 123V124M697.5 122V123M698.5 121V122M699.5 121V122M700.5 120V121M701.5 120V121M702.5 119V120M703.5 119V120M704.5 119V120M705.5 120V121M706.5 121V122M707.5 121V122M708.5 122V123M709.5 123V124M710.5 123V124M711.5 124V125M712.5 124V125M713.5 123V124M714.5 122V123M715.5 121V122M716.5 120V121M717.5 119V120M718.5 118V119M719.5 117V118M720.5 116V117M721.5 114V116M722.5 112V114M723.5 110V112M724.5 109V110M725.5 107V109M726.5 105V107M727.5 103V105M728.5 101V103M729.5 98V101M730.5 95V98M731.5 92V95M732.5 90V92M733.5 89V90M734.5 89V90M735.5 88V89M736.5 88V89M737.5 87V88M738.5 86V87M739.5 86V87M740.5 85V86M741.5 85V86M742.5 84V85M743.5 84V85M744.5 84V85M745.5 85V86M746.5 85V86M747.5 86V87M748.5 86V88M749.5 88V92M750.5 92V95M751.5 95V99M752.5 99V101M753.5 101V103M754.5 103V105M755.5 105V107M756.5 107V109M757.5 109V111M758.5 111V113M759.5 113V115M760.5 115V118M761.5 118V122M762.5 122V126M763.5 126V130M764.5 130V134M765.5 134V137M766.5 137V139M767.5 139V142M768.5 142V145M769.5 145V147M770.5 147V149M771.5 149V151M772.5 151V153M773.5 153V155M774.5 155V157M775.5 157V159M776.5 159V161M777.5 161V164M778.5 164V167M779.5 167V170M780.5 170V172M781.5 171V172M782.5 171V172M783.5 171V172M784.5 171V172M785.5 171V172M786.5 170V171M787.5 170V171M788.5 170V171M789.5 169V170M790.5 168V169M791.5 167V168M792.5 166V167M793.5 166V167M794.5 165V166M795.5 165V166M796.5 165V166M797.5 163V165M798.5 162V163M799.5 160V162M800.5 159V160M801.5 158V159M802.5 158V159M803.5 157V158M804.5 157V158M805.5 157V158M806.5 156V157M807.5 156V157M808.5 156V157M809.5 156V157M810.5 157V158M811.5 157V158M812.5 157V158M813.5 158V159M814.5 158V159M815.5 159V160M816.5 159V160M817.5 160V161M818.5 161V163M819.5 163V164M820.5 164V165M821.5 165V166M822.5 166V167M823.5 167V168M824.5 168V169M825.5 169V170M826.5 169V170M827.5 170V171M828.5 170V171M829.5 170V171M830.5 169V170M831.5 169V170M832.5 169V170M833.5 168V169M834.5 168V169M835.5 167V168M836.5 167V168M837.5 166V167M838.5 164V166M839.5 163V164M840.5 162V163M841.5 161V162M842.5 159V161M843.5 158V159M844.5 157V158M845.5 157V158M846.5 158V159M847.5 158V159M848.5 158V159M849.5 159V160M850.5 160V161M851.5 160V161M852.5 161V162M853.5 162V163M854.5 163V164M855.5 163V164M856.5 164V165M857.5 165V166M858.5 166V167M859.5 166V167M860.5 167V168M861.5 168V169M862.5 169V170M863.5 169V170M864.5 170V172M865.5 172V174M866.5 174V176M867.5 176V178M868.5 178V181M869.5 181V183M870.5 183V186M871.5 186V188M872.5 188V191M873.5 191V194M874.5 194V197M875.5 197V200M876.5 200V203M877.5 203V206M878.5 206V209M879.5 209V212M880.5 212V215M881.5 215V218M882.5 218V220M883.5 220V223M884.5 223V225M885.5 224V225M886.5 225V226M887.5 225V226M888.5 225V226M889.5 226V227M890.5 227V228M891.5 228V229M892.5 229V230M893.5 228V229M894.5 228V229M895.5 227V228M896.5 227V228M897.5 228V229M898.5 228V229M899.5 229V230M900.5 229V230M901.5 230V231M902.5 231V232M903.5 231V232M904.5 232V233M905.5 233V234M906.5 234V235M907.5 235V236M908.5 236V237M909.5 236V237M910.5 237V238M911.5 237V238M912.5 237V238M913.5 238V239M914.5 239V240M915.5 240V241M916.5 241V242M917.5 241V242M918.5 242V243M919.5 242V243M920.5 242V243M921.5 241V242M922.5 240V241M923.5 240V241M924.5 239V240M925.5 238V239M926.5 238V239M927.5 237V238M928.5 237V238M929.5 235V237M930.5 233V235M931.5 231V233M932.5 230V231M933.5 229V230M934.5 227V229M935.5 226V227M936.5 225V226M937.5 224V225M938.5 223V224M939.5 222V223M940.5 221V222M941.5 221V222M942.5 221V222M943.5 221V222M944.5 221V222M945.5 221V222M946.5 221V222M947.5 221V222M948.5 221V222M949.5 222V223M950.5 223V224M951.5 223V224M952.5 224V225M953.5 225V227M954.5 227V228M955.5 228V230M956.5 230V231M957.5 231V232M958.5 232V233M959.5 233V234M960.5 234V235M961.5 235V236M962.5 236V237M963.5 236V237M964.5 237V238M965.5 238V239M966.5 239V240M967.5 240V241M968.5 241V243M969.5 243V247M970.5 247V250M971.5 250V254M972.5 254V256M973.5 256V258M974.5 258V259M975.5 259V261M976.5 261V262M977.5 262V263M978.5 263V264M979.5 263V264M980.5 264V265M981.5 265V266M982.5 266V267M983.5 266V267M984.5 267V268M985.5 268V269M986.5 269V270M987.5 269V270M988.5 270V271M989.5 270V271M990.5 269V270M991.5 269V270M992.5 269V270M993.5 270V271M994.5 271V272M995.5 271V272M996.5 272V273M997.5 273V274M998.5 274V275M999.5 275V276M1000.5 276V277M1001.5 277V278M1002.5 278V280M1003.5 280V281M1004.5 281V282M1005.5 282V283M1006.5 283V284M1007.5 283V284M1008.5 284V285M1009.5 285V286M1010.5 285V286M1011.5 286V287M1012.5 286V287M1013.5 287V288M1014.5 288V289M1015.5 289V290M1016.5 290V291M1017.5 291V293M1018.5 293V294M1019.5 294V296M1020.5 296V297M1021.5 297V299M1022.5 299V300M1023.5 300V302M1024.5 302V303M1025.5 303V304M1026.5 304V305M1027.5 305V306M1028.5 306V307M1029.5 307V308M1030.5 307V308M1031.5 308V309M1032.5 308V309M1033.5 308V309M1034.5 308V309M1035.5 308V309M1036.5 308V309M1037.5 308V309M1038.5 308V309M1039.5 308V309M1040.5 308V309M1041.5 309V310M1042.5 310V311M1043.5 311V312M1044.5 312V313M1045.5 313V315M1046.5 315V317M1047.5 317V319M1048.5 319V321M1049.5 321V324M1050.5 324V326M1051.5 326V329M1052.5 329V332M1053.5 332V334M1054.5 334V336M1055.5 336V338M1056.5 338V341M1057.5 341V344M1058.5 344V346M1059.5 346V349M1060.5 349V352M1061.5 352V354M1062.5 354V357M1063.5 357V359M1064.5 359V362M1065.5 362V364M1066.5 364V366M1067.5 366V368M1068.5 368V370M1069.5 370V371M1070.5 370V371M1071.5 371V372M1072.5 371V372M1073.5 372V373M1074.5 373V374M1075.5 374V375M1076.5 375V376M1077.5 376V377M1078.5 377V378M1079.5 377V378M1080.5 378V379M1081.5 378V379M1082.5 377V378M1083.5 377V378M1084.5 377V378M1085.5 376V377M1086.5 375V376M1087.5 375V376M1088.5 374V375M1089.5 375V376M1090.5 376V377M1091.5 376V377M1092.5 377V378M1093.5 377V378M1094.5 378V379M1095.5 378V379M1096.5 378V379M1097.5 378V379M1098.5 378V379M1099.5 378V379M1100.5 378V379M1101.5 378V379M1102.5 378V379M1103.5 378V379M1104.5 378V380M1105.5 380V382M1106.5 382V384M1107.5 384V386M1108.5 386V389M1109.5 389V391M1110.5 391V393M1111.5 393V395M1112.5 395V398M1113.5 398V402M1114.5 402V405M1115.5 405V409M1116.5 409V412M1117.5 412V416M1118.5 416V419M1119.5 419V423M1120.5 423V426M1121.5 426V429M1122.5 429V431M1123.5 431V434M1124.5 434V436M1125.5 436V437M1126.5 437V439M1127.5 439V440M1128.5 440V441M1129.5 439V440M1130.5 438V439M1131.5 437V438M1132.5 436V437M1133.5 434V436M1134.5 433V434M1135.5 431V433M1136.5 429V431M1137.5 427V429M1138.5 424V427M1139.5 422V424M1140.5 419V422M1141.5 416V419M1142.5 414V416M1143.5 411V414M1144.5 408V411M1145.5 405V408M1146.5 403V405M1147.5 400V403M1148.5 398V400M1149.5 397V398M1150.5 396V397M1151.5 395V396M1152.5 394V395M1153.5 392V394M1154.5 391V392M1155.5 389V391M1156.5 388V389M1157.5 388V389M1158.5 387V388M1159.5 387V388M1160.5 387V388M1161.5 388V390M1162.5 390V392M1163.5 392V394M1164.5 394V398M1165.5 398V402M1166.5 402V406M1167.5 406V410M1168.5 410V414M1169.5 414V417M1170.5 417V421M1171.5 421V424M1172.5 424V427M1173.5 427V429M1174.5 429V432M1175.5 432V434M1176.5 434V438M1177.5 438V443M1178.5 443V447M1179.5 447V452M1180.5 452V456M1181.5 456V458M1182.5 458V461M1183.5 461V463M1184.5 463V465M1185.5 465V466M1186.5 465V466M1187.5 466V467M1188.5 466V467M1189.5 467V468M1190.5 468V469M1191.5 469V470M1192.5 470V472M1193.5 472V475M1194.5 475V478M1195.5 478V481M1196.5 481V483M1197.5 483V485M1198.5 485V486M1199.5 486V488M1200.5 488V489M1201.5 488V489M1202.5 487V488M1203.5 487V488M1204.5 487V488M1205.5 486V487M1206.5 486V487M1207.5 485V486M1208.5 485V486M1209.5 486V487M1210.5 487V489M1211.5 489V490M1212.5 490V491M1213.5 488V490M1214.5 487V488M1215.5 485V487M1216.5 484V485M1217.5 484V485M1218.5 483V484M1219.5 483V484M1220.5 483V485M1221.5 485V487M1222.5 487V489M1223.5 489V491M1224.5 491V494M1225.5 494V497M1226.5 497V500M1227.5 500V503M1228.5 503V506M1229.5 506V508M1230.5 508V510M1231.5 510V512M1232.5 512V515M1233.5 515V519M1234.5 519V522M1235.5 522V526M1236.5 526V528M1237.5 528V529M1238.5 529V531M1239.5 531V532M1240.5 532V533M1241.5 533V534M1242.5 534V535M1243.5 535V536M1244.5 536V537M1245.5 537V538M1246.5 537V538M1247.5 538V539M1248.5 538V539M1249.5 536V538M1250.5 534V536M1251.5 532V534M1252.5 529V532M1253.5 526V529M1254.5 523V526M1255.5 520V523M1256.5 517V520M1257.5 514V517M1258.5 512V514M1259.5 509V512M1260.5 506V509M1261.5 504V506M1262.5 502V504M1263.5 500V502M1264.5 498V500M1265.5 497V498M1266.5 496V497M1267.5 495V496" stroke="#ffa500"/>
<path d="M4.5 166V167M5.5 166V167M6.5 167V168M7.5 167V168M8.5 167V168M9.5 167V168M10.5 167V168M11.5 167V168M12.5 167V168M13.5 168V169M14.5 169V170M15.5 169V170M16.5 170V171M17.5 171V172M18.5 172V173M19.5 172V173M20.5 173V174M21.5 174V175M22.5 175V176M23.5 176V177M24.5 177V178M25.5 178V179M26.5 179V180M27.5 179V180M28.5 180V181M29.5 181V182M30.5 182V183M31.5 183V184M32.5 184V185M33.5 185V187M34.5 187V188M35.5 188V190M36.5 190V191M37.5 191V192M38.5 192V194M39.5 194V195M40.5 195V196M41.5 196V197M42.5 197V199M43.5 199V200M44.5 200V201M45.5 201V202M46.5 202V203M47.5 203V204M48.5 204V205M49.5 205V206M50.5 206V207M51.5 206V207M52.5 207V208M53.5 208V209M54.5 209V210M55.5 209V210M56.5 210V211M57.5 211V212M58.5 212V213M59.5 212V213M60.5 213V214M61.5 214V215M62.5 214V215M63.5 215V216M64.5 215V216M65.5 216V217M66.5 217V218M67.5 218V219M68.5 219V220M69.5 220V221M70.5 221V222M71.5 221V222M72.5 222V223M73.5 222V223M74.5 222V223M75.5 222V223M76.5 222V223M77.5 222V223M78.5 223V224M79.5 223V224M80.5 223V224M81.5 223V224M82.5 222V223M83.5 222V223M84.5 222V223M85.5 221V222M86.5 221V222M87.5 220V221M88.5 220V221M89.5 219V220M90.5 218V219M91.5 218V219M92.5 217V218M93.5 216V217M94.5 215V216M95.5 214V215M96.5 213V214M97.5 212V213M98.5 211V212M99.5 211V212M100.5 210V211M101.5 209V210M102.5 209V210M103.5 208V209M104.5 208V209M105.5 208V209M106.5 208V209M107.5 208V209M108.5 208V209M109.5 207V208M110.5 207V208M111.5 206V207M112.5 206V207M113.5 206V207M114.5 206V207M115.5 206V207M116.5 206V207M117.5 206V207M118.5 206V207M119.5 206V207M120.5 206V207M121.5 205V206M122.5 204V205M123.5 204V205M124.5 203V204M125.5 202V203M126.5 201V202M127.5 200V201M128.5 199V200M129.5 198V199M130.5 198V199M131.5 197V198M132.5 197V198M133.5 197V198M134.5 196V197M135.5 196V197M136.5 196V197M137.5 196V197M138.5 197V198M139.5 197V198M140.5 197V198M141.5 197V198M142.5 197V198M143.5 197V198M144.5 197V198M145.5 197V198M146.5 198V199M147.5 198V199M148.5 198V199M149.5 198V199M150.5 199V200M151.5 199V200M152.5 199V200M153.5 199V200M154.5 199V200M155.5 199V200M156.5 199V200M157.5 200V201M158.5 200V201M159.5 201V202M160.5 201V202M161.5 201V202M162.5 202V203M163.5 202V203M164.5 202V203M165.5 203V204M166.5 203V204M167.5 204V205M168.5 204V205M169.5 205V206M170.5 205V206M171.5 206V207M172.5 206V207M173.5 207V208M174.5 208V209M175.5 208V209M176.5 209V210M177.5 210V211M178.5 211V212M179.5 211V212M180.5 212V213M181.5 213V214M182.5 214V216M183.5 216V217M184.5 217V218M185.5 218V219M186.5 219V220M187.5 219V220M188.5 220V221M189.5 221V222M190.5 222V223M191.5 222V223M192.5 223V224M193.5 223V224M194.5 224V225M195.5 224V225M196.5 224V225M197.5 225V226M198.5 225V226M199.5 226V227M200.5 226V227M201.5 227V228M202.5 227V228M203.5 228V229M204.5 228V229M205.5 229V230M206.5 229V230M207.5 230V231M208.5 230V231M209.5 231V232M210.5 232V233M211.5 232V233M212.5 233V234M213.5 233V234M214.5 232V233M215.5 232V233M216.5 232V233M217.5 233V234M218.5 233V234M219.5 234V235M220.5 234V235M221.5 235V236M222.5 236V237M223.5 236V237M224.5 237V238M225.5 238V239M226.5 238V239M227.5 239V240M228.5 239V240M229.5 240V241M230.5 240V241M231.5 241V242M232.5 241V242M233.5 242V243M234.5 242V243M235.5 243V244M236.5 243V244M237.5 244V245M238.5 244V245M239.5 245V246M240.5 245V246M241.5 246V247M242.5 246V247M243.5 247V248M244.5 247V248M245.5 248V249M246.5 249V250M247.5 250V251M248.5 251V252M249.5 252V253M250.5 253V254M251.5 254V255M252.5 255V256M253.5 256V257M254.5 257V259M255.5 259V260M256.5 260V261M257.5 261V263M258.5 263V264M259.5 264V266M260.5 266V267M261.5 267V268M262.5 268V270M263.5 270V271M264.5 271V272M265.5 272V274M266.5 274V276M267.5 276V278M268.5 278V279M269.5 279V281M270.5 281V283M271.5 283V285M272.5 285V286M273.5 286V288M274.5 288V289M275.5 289V291M276.5 291V292M277.5 292V293M278.5 293V295M279.5 295V296M280.5 296V297M281.5 297V299M282.5 299V300M283.5 300V302M284.5 302V303M285.5 303V305M286.5 305V307M287.5 307V309M288.5 309V310M289.5 310V312M290.5 312V313M291.5 313V315M292.5 315V316M293.5 316V317M294.5 317V318M295.5 317V318M296.5 318V319M297.5 319V320M298.5 320V321M299.5 321V322M300.5 322V323M301.5 322V323M302.5 323V324M303.5 323V324M304.5 323V324M305.5 323V324M306.5 323V324M307.5 323V324M308.5 323V324M309.5 323V324M310.5 323V324M311.5 323V324M312.5 323V324M313.5 322V323M314.5 320V322M315.5 319V320M316.5 318V319M317.5 317V318M318.5 316V317M319.5 315V316M320.5 314V315M321.5 313V314M322.5 311V313M323.5 310V311M324.5 309V310M325.5 307V309M326.5 305V307M327.5 303V305M328.5 301V303M329.5 299V301M330.5 297V299M331.5 295V297M332.5 294V295M333.5 292V294M334.5 290V292M335.5 288V290M336.5 285V288M337.5 283V285M338.5 281V283M339.5 279V281M340.5 277V279M341.5 275V277M342.5 273V275M343.5 271V273M344.5 269V271M345.5 267V269M346.5 265V267M347.5 263V265M348.5 262V263M349.5 261V262M350.5 259V261M351.5 258V259M352.5 257V258M353.5 255V257M354.5 254V255M355.5 252V254M356.5 251V252M357.5 250V251M358.5 249V250M359.5 248V249M360.5 247V248M361.5 246V247M362.5 245V246M363.5 244V245M364.5 243V244M365.5 242V243M366.5 242V243M367.5 241V242M368.5 241V242M369.5 241V242M370.5 241V242M371.5 241V242M372.5 241V242M373.5 241V242M374.5 241V242M375.5 241V242M376.5 241V242M377.5 240V241M378.5 240V241M379.5 239V240M380.5 239V240M381.5 239V240M382.5 239V240M383.5 239V240M384.5 239V240M385.5 240V241M386.5 240V241M387.5 241V242M388.5 241V242M389.5 241V242M390.5 240V241M391.5 240V241M392.5 240V241M393.5 240V241M394.5 241V242M395.5 241V242M396.5 241V242M397.5 240V241M398.5 239V240M399.5 239V240M400.5 238V239M401.5 237V238M402.5 235V237M403.5 234V235M404.5 233V234M405.5 232V233M406.5 231V232M407.5 231V232M408.5 230V231M409.5 229V230M410.5 229V230M411.5 228V229M412.5 228V229M413.5 228V229M414.5 227V228M415.5 227V228M416.5 227V228M417.5 226V227M418.5 226V227M419.5 225V226M420.5 225V226M421.5 224V225M422.5 223V224M423.5 223V224M424.5 222V223M425.5 222V223M426.5 221V222M427.5 221V222M428.5 221V222M429.5 221V222M430.5 221V222M431.5 221V222M432.5 221V222M433.5 222V223M434.5 222V223M435.5 223V224M436.5 223V224M437.5 224V225M438.5 225V226M439.5 226V227M440.5 227V228M441.5 228V229M442.5 229V230M443.5 230V231M444.5 231V232M445.5 232V233M446.5 233V234M447.5 234V235M448.5 235V236M449.5 236V237M450.5 237V239M451.5 239V240M452.5 240V241M453.5 241V243M454.5 243V245M455.5 245V247M456.5 247V248M457.5 248V249M458.5 249V251M459.5 251V252M460.5 252V253M461.5 253V254M462.5 254V256M463.5 256V257M464.5 257V258M465.5 258V259M466.5 259V261M467.5 261V262M468.5 262V263M469.5 261V262M470.5 261V262M471.5 260V261M472.5 260V261M473.5 260V261M474.5 260V261M475.5 260V261M476.5 260V261M477.5 260V261M478.5 259V260M479.5 259V260M480.5 259V260M481.5 259V260M482.5 259V260M483.5 259V260M484.5 259V260M485.5 258V259M486.5 257V258M487.5 256V257M488.5 255V256M489.5 253V255M490.5 251V253M491.5 249V251M492.5 247V249M493.5 243V247M494.5 240V243M495.5 236V240M496.5 233V236M497.5 230V233M498.5 226V230M499.5 223V226M500.5 220V223M501.5 217V220M502.5 213V217M503.5 210V213M504.5 207V210M505.5 204V207M506.5 200V204M507.5 197V200M508.5 194V197M509.5 192V194M510.5 190V192M511.5 188V190M512.5 185V188M513.5 182V185M514.5 179V182M515.5 176V179M516.5 174V176M517.5 172V174M518.5 170V172M519.5 168V170M520.5 165V168M521.5 163V165M522.5 160V163M523.5 158V160M524.5 156V158M525.5 155V156M526.5 154V155M527.5 154V155M528.5 153V154M529.5 151V153M530.5 150V151M531.5 148V150M532.5 147V148M533.5 146V147M534.5 145V146M535.5 145V146M536.5 144V145M537.5 142V144M538.5 140V142M539.5 138V140M540.5 136V138M541.5 135V136M542.5 134V135M543.5 133V134M544.5 132V133M545.5 131V132M546.5 131V132M547.5 130V131M548.5 130V131M549.5 131V132M550.5 131V132M551.5 132V133M552.5 132V133M553.5 133V134M554.5 133V134M555.5 134V135M556.5 134V135M557.5 135V136M558.5 136V138M559.5 138V139M560.5 139V140M561.5 140V141M562.5 141V142M563.5 142V143M564.5 143V144M565.5 144V145M566.5 144V145M567.5 145V146M568.5 145V146M569.5 146V147M570.5 147V149M571.5 149V150M572.5 150V151M573.5 151V152M574.5 152V153M575.5 152V153M576.5 153V154M577.5 154V155M578.5 155V156M579.5 155V156M580.5 156V157M581.5 157V158M582.5 158V159M583.5 158V159M584.5 159V160M585.5 160V161M586.5 161V162M587.5 161V162M588.5 162V163M589.5 162V163M590.5 162V163M591.5 162V163M592.5 162V163M593.5 163V164M594.5 164V165M595.5 164V165M596.5 165V166M597.5 165V166M598.5 165V166M599.5 165V166M600.5 165V166M601.5 166V167M602.5 166V167M603.5 167V168M604.5 167V168M605.5 167V168M606.5 168V169M607.5 168V169M608.5 168V169M609.5 168V169M610.5 168V169M611.5 168V169M612.5 168V169M613.5 167V168M614.5 167V168M615.5 166V167M616.5 166V167M617.5 165V166M618.5 165V166M619.5 164V165M620.5 164V165M621.5 163V164M622.5 163V164M623.5 162V163M624.5 162V163M625.5 161V162M626.5 160V161M627.5 160V161M628.5 159V160M629.5 158V159M630.5 157V158M631.5 157V158M632.5 156V157M633.5 156V157M634.5 155V156M635.5 155V156M636.5 155V156M637.5 154V155M638.5 154V155M639.5 153V154M640.5 153V154M641.5 152V153M642.5 151V152M643.5 150V151M644.5 149V150M645.5 148V149M646.5 147V148M647.5 146V147M648.5 145V146M649.5 144V145M650.5 143V144M651.5 143V144M652.5 142V143M653.5 141V142M654.5 141V142M655.5 140V141M656.5 140V141M657.5 139V140M658.5 138V139M659.5 138V139M660.5 137V138M661.5 137V138M662.5 137V138M663.5 137V138M664.5 137V138M665.5 137V138M666.5 138V139M667.5 138V139M668.5 138V139M669.5 138V139M670.5 138V139M671.5 138V139M672.5 138V139M673.5 138V139M674.5 137V138M675.5 137V138M676.5 137V138M677.5 137V138M678.5 136V137M679.5 136V137M680.5 136V137M681.5 136V137M682.5 135V136M683.5 135V136M684.5 135V136M685.5 134V135M686.5 134V135M687.5 133V134M688.5 133V134M689.5 132V133M690.5 131V132M691.5 130V131M692.5 129V130M693.5 128V129M694.5 127V128M695.5 127V128M696.5 126V127M697.5 126V127M698.5 126V127M699.5 126V127M700.5 126V127M701.5 127V128M702.5 127V128M703.5 128V129M704.5 128V129M705.5 129V130M706.5 129V130M707.5 130V131M708.5 130V131M709.5 130V131M710.5 129V130M711.5 129V130M712.5 129V130M713.5 129V130M714.5 128V129M715.5 128V129M716.5 128V129M717.5 127V128M718.5 126V127M719.5 126V127M720.5 125V126M721.5 124V125M722.5 123V124M723.5 122V123M724.5 121V122M725.5 120V121M726.5 119V120M727.5 118V119M728.5 117V118M729.5 116V117M730.5 114V116M731.5 113V114M732.5 112V113M733.5 111V112M734.5 110V111M735.5 110V111M736.5 109V110M737.5 108V109M738.5 107V108M739.5 106V107M740.5 105V106M741.5 104V105M742.5 104V105M743.5 103V104M744.5 103V104M745.5 103V104M746.5 103V104M747.5 103V104M748.5 103V104M749.5 103V104M750.5 104V105M751.5 104V105M752.5 104V105M753.5 104V105M754.5 104V105M755.5 104V105M756.5 104V105M757.5 104V105M758.5 104V105M759.5 104V105M760.5 104V105M761.5 105V106M762.5 105V106M763.5 106V107M764.5 106V107M765.5 107V108M766.5 108V109M767.5 109V110M768.5 110V111M769.5 111V112M770.5 112V114M771.5 114V115M772.5 115V116M773.5 116V117M774.5 117V119M775.5 119V120M776.5 120V121M777.5 121V123M778.5 123V124M779.5 124V126M780.5 126V127M781.5 127V128M782.5 128V130M783.5 130V131M784.5 131V132M785.5 132V134M786.5 134V136M787.5 136V138M788.5 138V139M789.5 139V140M790.5 140V142M791.5 142V143M792.5 143V144M793.5 144V145M794.5 145V147M795.5 147V148M796.5 148V149M797.5 149V150M798.5 150V152M799.5 152V153M800.5 153V154M801.5 154V155M802.5 155V156M803.5 155V156M804.5 156V157M805.5 157V158M806.5 157V158M807.5 158V159M808.5 158V159M809.5 159V160M810.5 160V161M811.5 160V161M812.5 161V162M813.5 162V163M814.5 163V164M815.5 163V164M816.5 164V165M817.5 164V165M818.5 164V165M819.5 164V165M820.5 164V165M821.5 165V166M822.5 165V166M823.5 166V167M824.5 166V167M825.5 166V167M826.5 165V166M827.5 165V166M828.5 165V166M829.5 165V166M830.5 164V165M831.5 164V165M832.5 164V165M833.5 163V164M834.5 163V164M835.5 162V163M836.5 162V163M837.5 162V163M838.5 161V162M839.5 161V162M840.5 161V162M841.5 161V162M842.5 161V162M843.5 161V162M844.5 161V162M845.5 161V162M846.5 162V163M847.5 162V163M848.5 162V163M849.5 162V163M850.5 163V164M851.5 163V164M852.5 163V164M853.5 163V164M854.5 164V165M855.5 164V165M856.5 164V165M857.5 164V165M858.5 165V166M859.5 165V166M860.5 165V166M861.5 165V166M862.5 166V167M863.5 166V167M864.5 166V167M865.5 167V168M866.5 168V169M867.5 169V170M868.5 170V171M869.5 171V172M870.5 172V173M871.5 173V174M872.5 174V175M873.5 175V176M874.5 176V177M875.5 176V177M876.5 177V178M877.5 178V179M878.5 179V180M879.5 180V181M880.5 181V182M881.5 182V183M882.5 183V184M883.5 184V185M884.5 185V186M885.5 186V187M886.5 187V189M887.5 189V190M888.5 190V191M889.5 191V192M890.5 192V194M891.5 194V195M892.5 195V196M893.5 196V197M894.5 197V199M895.5 199V200M896.5 200V201M897.5 201V203M898.5 203V204M899.5 204V206M900.5 206V207M901.5 207V209M902.5 209V210M903.5 210V212M904.5 212V213M905.5 213V214M906.5 214V216M907.5 216V217M908.5 217V218M909.5 218V219M910.5 219V221M911.5 221V222M912.5 222V223M913.5 223V224M914.5 224V226M915.5 226V227M916.5 227V228M917.5 228V229M918.5 229V231M919.5 231V232M920.5 232V233M921.5 232V233M922.5 233V234M923.5 233V234M924.5 233V234M925.5 233V234M926.5 234V235M927.5 234V235M928.5 234V235M929.5 233V234M930.5 233V234M931.5 232V233M932.5 232V233M933.5 232V233M934.5 231V232M935.5 231V232M936.5 231V232M937.5 231V232M938.5 231V232M939.5 231V232M940.5 231V232M941.5 231V232M942.5 231V232M943.5 231V232M944.5 231V232M945.5 231V232M946.5 231V232M947.5 231V232M948.5 231V232M949.5 231V232M950.5 231V232M951.5 231V232M952.5 231V232M953.5 231V232M954.5 231V232M955.5 231V232M956.5 231V232M957.5 231V232M958.5 231V232M959.5 231V232M960.5 231V232M961.5 231V232M962.5 232V233M963.5 232V233M964.5 232V233M965.5 232V233M966.5 233V234M967.5 233V234M968.5 233V234M969.5 234V235M970.5 235V236M971.5 235V236M972.5 236V237M973.5 237V238M974.5 237V238M975.5 238V239M976.5 238V239M977.5 239V240M978.5 239V240M979.5 240V241M980.5 240V241M981.5 241V242M982.5 242V243M983.5 242V243M984.5 243V244M985.5 244V245M986.5 245V246M987.5 246V247M988.5 247V248M989.5 248V249M990.5 249V251M991.5 251V252M992.5 252V253M993.5 253V254M994.5 254V255M995.5 255V256M996.5 256V257M997.5 257V258M998.5 258V259M999.5 259V260M1000.5 260V261M1001.5 261V262M1002.5 262V263M1003.5 263V264M1004.5 264V265M1005.5 265V266M1006.5 266V267M1007.5 267V268M1008.5 268V269M1009.5 269V270M1010.5 270V271M1011.5 271V272M1012.5 272V273M1013.5 273V274M1014.5 274V276M1015.5 276V277M1016.5 277V278M1017.5 278V279M1018.5 279V280M1019.5 280V281M1020.5 281V282M1021.5 282V283M1022.5 283V285M1023.5 285V286M1024.5 286V287M1025.5 286V287M1026.5 287V288M1027.5 287V288M1028.5 287V288M1029.5 287V288M1030.5 288V289M1031.5 288V289M1032.5 288V289M1033.5 289V290M1034.5 290V291M1035.5 291V292M1036.5 292V293M1037.5 293V294M1038.5 294V295M1039.5 295V296M1040.5 296V297M1041.5 297V298M1042.5 298V300M1043.5 300V301M1044.5 301V302M1045.5 302V303M1046.5 303V304M1047.5 304V305M1048.5 305V306M1049.5 306V307M1050.5 307V308M1051.5 308V309M1052.5 309V310M1053.5 310V312M1054.5 312V313M1055.5 313V315M1056.5 315V316M1057.5 316V318M1058.5 318V319M1059.5 319V321M1060.5 321V322M1061.5 322V324M1062.5 324V326M1063.5 326V328M1064.5 328V329M1065.5 329V331M1066.5 331V332M1067.5 332V334M1068.5 334V335M1069.5 335V336M1070.5 336V337M1071.5 337V338M1072.5 338V339M1073.5 339V340M1074.5 340V342M1075.5 342V343M1076.5 343V344M1077.5 344V345M1078.5 345V347M1079.5 347V348M1080.5 348V349M1081.5 349V350M1082.5 350V352M1083.5 352V353M1084.5 353V354M1085.5 354V355M1086.5 355V357M1087.5 357V358M1088.5 358V359M1089.5 359V360M1090.5 360V362M1091.5 362V363M1092.5 363V364M1093.5 364V365M1094.5 365V367M1095.5 367V368M1096.5 368V369M1097.5 369V370M1098.5 370V371M1099.5 370V371M1100.5 371V372M1101.5 372V373M1102.5 373V374M1103.5 373V374M1104.5 374V375M1105.5 375V376M1106.5 376V377M1107.5 377V378M1108.5 378V379M1109.5 379V380M1110.5 380V382M1111.5 382V383M1112.5 383V384M1113.5 384V386M1114.5 386V387M1115.5 387V389M1116.5 389V390M1117.5 390V391M1118.5 391V393M1119.5 393V394M1120.5 394V395M1121.5 395V396M1122.5 396V397M1123.5 397V398M1124.5 398V399M1125.5 399V400M1126.5 400V402M1127.5 402V403M1128.5 403V404M1129.5 404V405M1130.5 404V405M1131.5 405V406M1132.5 405V406M1133.5 406V407M1134.5 407V408M1135.5 407V408M1136.5 408V409M1137.5 408V409M1138.5 409V410M1139.5 409V410M1140.5 409V410M1141.5 409V410M1142.5 410V411M1143.5 410V411M1144.5 410V411M1145.5 410V411M1146.5 410V411M1147.5 410V411M1148.5 410V411M1149.5 410V411M1150.5 410V411M1151.5 410V411M1152.5 410V411M1153.5 411V412M1154.5 411V412M1155.5 412V413M1156.5 412V413M1157.5 412V413M1158.5 412V413M1159.5 412V413M1160.5 412V413M1161.5 412V413M1162.5 413V414M1163.5 413V414M1164.5 413V414M1165.5 414V415M1166.5 415V416M1167.5 415V416M1168.5 416V417M1169.5 416V417M1170.5 415V416M1171.5 415V416M1172.5 415V416M1173.5 415V416M1174.5 416V417M1175.5 416V417M1176.5 416V417M1177.5 417V418M1178.5 418V419M1179.5 418V419M1180.5 419V420M1181.5 420V421M1182.5 421V422M1183.5 421V422M1184.5 422V423M1185.5 423V424M1186.5 424V426M1187.5 426V427M1188.5 427V428M1189.5 428V429M1190.5 428V429M1191.5 429V430M1192.5 429V431M1193.5 431V433M1194.5 433V435M1195.5 435V437M1196.5 437V440M1197.5 440V442M1198.5 442V445M1199.5 445V447M1200.5 447V449M1201.5 449V450M1202.5 450V452M1203.5 452V453M1204.5 453V454M1205.5 454V456M1206.5 456V457M1207.5 457V459M1208.5 459V460M1209.5 460V462M1210.5 462V464M1211.5 464V466M1212.5 466V467M1213.5 467V469M1214.5 469V471M1215.5 471V473M1216.5 473V474M1217.5 474V476M1218.5 476V477M1219.5 477V479M1220.5 479V480M1221.5 480V481M1222.5 481V482M1223.5 481V482M1224.5 482V483M1225.5 483V485M1226.5 485V486M1227.5 486V488M1228.5 488V489M1229.5 489V491M1230.5 491V492M1231.5 492V494M1232.5 494V495M1233.5 495V496M1234.5 496V498M1235.5 498V499M1236.5 499V500M1237.5 500V501M1238.5 501V502M1239.5 502V503M1240.5 503V504M1241.5 504V505M1242.5 505V506M1243.5 506V507M1244.5 507V508M1245.5 508V509M1246.5 509V511M1247.5 511V512M1248.5 512V513M1249.5 512V513M1250.5 511V512M1251.5 511V512M1252.5 511V512M1253.5 511V512M1254.5 510V511M1255.5 510V511M1256.5 510V511M1257.5 510V511M1258.5 511V512M1259.5 511V512M1260.5 511V512M1261.5 511V512M1262.5 512V513M1263.5 512V513M1264.5 512V513M1265.5 512V513M1266.5 513V514M1267.5 513V514" stroke="#ff0000"/>
</g>
<g id="hlines" shape-rendering="crispEdges">
<rect x="4" y="46" width="1594" height="2" fill="#ff0000"/>
<rect x="4" y="139" width="1594" height="2" fill="#ff0000"/>
<rect x="4" y="229" width="1594" height="2" fill="#ff0000"/>
<rect x="3" y="227" width="6" height="6" fill="#ff0000"/>
<rect x="5" y="229" width="2" height="2" fill="#fff"/>
<rect x="1590" y="227" width="6" height="6" fill="#ff0000"/>
<rect x="1592" y="229" width="2" height="2" fill="#fff"/>
<rect x="4" y="336" width="1594" height="2" fill="#00ff00"/>
<rect x="3" y="334" width="6" height="6" fill="#00ff00"/>
<rect x="5" y="336" width="2" height="2" fill="#fff"/>
<rect x="1590" y="334" width="6" height="6" fill="#00ff00"/>
<rect x="1592" y="336" width="2" height="2" fill="#fff"/>
<rect x="4" y="445" width="1594" height="2" fill="#0000ff"/>
<rect x="4" y="568" width="1594" height="2" fill="#0000ff"/>
<rect x="3" y="566" width="6" height="6" fill="#0000ff"/>
<rect x="5" y="568" width="2" height="2" fill="#fff"/>
<rect x="1590" y="566" width="6" height="6" fill="#0000ff"/>
<rect x="1592" y="568" width="2" height="2" fill="#fff"/>
</g>
<g id="axis">
<rect x="1597" y="51" width="2" height="1" fill="#000"/>
<text x="1602" y="55" font-size="9.8" fill="#000" stroke="#000" stroke-width="0.08" textLength="33" lengthAdjust="spacingAndGlyphs">7.19730</text>
<rect x="1597" y="84" width="2" height="1" fill="#000"/>
<text x="1602" y="88" font-size="9.8" fill="#000" stroke="#000" stroke-width="0.08" textLength="33" lengthAdjust="spacingAndGlyphs">7.16100</text>
<rect x="1597" y="117" width="2" height="1" fill="#000"/>
<text x="1602" y="121" font-size="9.8" fill="#000" stroke="#000" stroke-width="0.08" textLength="33" lengthAdjust="spacingAndGlyphs">7.12470</text>
<rect x="1597" y="150" width="2" height="1" fill="#000"/>
<text x="1602" y="154" font-size="9.8" fill="#000" stroke="#000" stroke-width="0.08" textLength="33" lengthAdjust="spacingAndGlyphs">7.08840</text>
<rect x="1597" y="183" width="2" height="1" fill="#000"/>
<text x="1602" y="187" font-size="9.8" fill="#000" stroke="#000" stroke-width="0.08" textLength="33" lengthAdjust="spacingAndGlyphs">7.05210</text>
<rect x="1597" y="216" width="2" height="1" fill="#000"/>
<text x="1602" y="220" font-size="9.8" fill="#000" stroke="#000" stroke-width="0.08" textLength="33" lengthAdjust="spacingAndGlyphs">7.01580</text>
<rect x="1597" y="249" width="2" height="1" fill="#000"/>
<text x="1602" y="253" font-size="9.8" fill="#000" stroke="#000" stroke-width="0.08" textLength="33" lengthAdjust="spacingAndGlyphs">6.97950</text>
<rect x="1597" y="282" width="2" height="1" fill="#000"/>
<text x="1602" y="286" font-size="9.8" fill="#000" stroke="#000" stroke-width="0.08" textLength="33" lengthAdjust="spacingAndGlyphs">6.94320</text>
<rect x="1597" y="315" width="2" height="1" fill="#000"/>
<text x="1602" y="319" font-size="9.8" fill="#000" stroke="#000" stroke-width="0.08" textLength="33" lengthAdjust="spacingAndGlyphs">6.90690</text>
<rect x="1597" y="348" width="2" height="1" fill="#000"/>
<text x="1602" y="352" font-size="9.8" fill="#000" stroke="#000" stroke-width="0.08" textLength="33" lengthAdjust="spacingAndGlyphs">6.86950</text>
<rect x="1597" y="381" width="2" height="1" fill="#000"/>
<text x="1602" y="385" font-size="9.8" fill="#000" stroke="#000" stroke-width="0.08" textLength="33" lengthAdjust="spacingAndGlyphs">6.83320</text>
<rect x="1597" y="414" width="2" height="1" fill="#000"/>
<text x="1602" y="418" font-size="9.8" fill="#000" stroke="#000" stroke-width="0.08" textLength="33" lengthAdjust="spacingAndGlyphs">6.79690</text>
<rect x="1597" y="447" width="2" height="1" fill="#000"/>
<text x="1602" y="451" font-size="9.8" fill="#000" stroke="#000" stroke-width="0.08" textLength="33" lengthAdjust="spacingAndGlyphs">6.76060</text>
<rect x="1597" y="480" width="2" height="1" fill="#000"/>
<text x="1602" y="484" font-size="9.8" fill="#000" stroke="#000" stroke-width="0.08" textLength="33" lengthAdjust="spacingAndGlyphs">6.72430</text>
<rect x="1597" y="513" width="2" height="1" fill="#000"/>
<text x="1602" y="517" font-size="9.8" fill="#000" stroke="#000" stroke-width="0.08" textLength="33" lengthAdjust="spacingAndGlyphs">6.68800</text>
<rect x="1597" y="546" width="2" height="1" fill="#000"/>
<text x="1602" y="550" font-size="9.8" fill="#000" stroke="#000" stroke-width="0.08" textLength="33" lengthAdjust="spacingAndGlyphs">6.65170</text>
<rect x="1597" y="579" width="2" height="1" fill="#000"/>
<text x="1602" y="583" font-size="9.8" fill="#000" stroke="#000" stroke-width="0.08" textLength="33" lengthAdjust="spacingAndGlyphs">6.61540</text>
<rect x="1598" y="41" width="41" height="11" fill="#ff0000"/>
<text x="1602" y="50" font-size="9.8" fill="#fff" stroke="#fff" stroke-width="0.08" textLength="33" lengthAdjust="spacingAndGlyphs">7.20193</text>
<rect x="1598" y="134" width="41" height="11" fill="#ff0000"/>
<text x="1602" y="143" font-size="9.8" fill="#fff" stroke="#fff" stroke-width="0.08" textLength="33" lengthAdjust="spacingAndGlyphs">7.10011</text>
<rect x="1598" y="224" width="41" height="11" fill="#ff0000"/>
<text x="1602" y="233" font-size="9.8" fill="#fff" stroke="#fff" stroke-width="0.08" textLength="33" lengthAdjust="spacingAndGlyphs">7.00029</text>
<rect x="1598" y="331" width="41" height="11" fill="#00ff00"/>
<text x="1602" y="340" font-size="9.8" fill="#fff" stroke="#fff" stroke-width="0.08" textLength="33" lengthAdjust="spacingAndGlyphs">6.88250</text>
<rect x="1598" y="440" width="41" height="11" fill="#0000ff"/>
<text x="1602" y="449" font-size="9.8" fill="#fff" stroke="#fff" stroke-width="0.08" textLength="33" lengthAdjust="spacingAndGlyphs">6.76171</text>
<rect x="1598" y="563" width="41" height="11" fill="#0000ff"/>
<text x="1602" y="572" font-size="9.8" fill="#fff" stroke="#fff" stroke-width="0.08" textLength="33" lengthAdjust="spacingAndGlyphs">6.62643</text>
<rect x="1598" y="504" width="41" height="11" fill="#000"/>
<text x="1602" y="513" font-size="9.8" fill="#fff" stroke="#fff" stroke-width="0.08" textLength="33" lengthAdjust="spacingAndGlyphs">6.69230</text>
<text x="1599.2" y="595" font-size="9.8" fill="#000" stroke="#000" stroke-width="0.08" textLength="15.5" lengthAdjust="spacingAndGlyphs">100</text>
<text x="1599.2" y="619" font-size="9.8" fill="#000" stroke="#000" stroke-width="0.08" textLength="10.3" lengthAdjust="spacingAndGlyphs">70</text>
<text x="1599.2" y="659" font-size="9.8" fill="#000" stroke="#000" stroke-width="0.08" textLength="10.3" lengthAdjust="spacingAndGlyphs">30</text>
<text x="1599.2" y="683" font-size="9.8" fill="#000" stroke="#000" stroke-width="0.08" textLength="5.2" lengthAdjust="spacingAndGlyphs">0</text>
<text x="1599.2" y="699" font-size="9.8" fill="#000" stroke="#000" stroke-width="0.08" textLength="38.7" lengthAdjust="spacingAndGlyphs">0.042275</text>
<text x="1599.2" y="743" font-size="9.8" fill="#000" stroke="#000" stroke-width="0.08" textLength="18.0" lengthAdjust="spacingAndGlyphs">0.00</text>
<text x="1599.2" y="786" font-size="9.8" fill="#000" stroke="#000" stroke-width="0.08" textLength="36.6" lengthAdjust="spacingAndGlyphs">-0.04148</text>
<rect x="1597" y="739" width="2" height="1" fill="#000"/>
</g>
<rect x="7" y="33" width="7" height="1" fill="#000"/>
<rect x="8" y="34" width="5" height="1" fill="#000"/>
<rect x="9" y="35" width="3" height="1" fill="#000"/>
<rect x="10" y="36" width="1" height="1" fill="#000"/>
<text x="19.7" y="38" font-size="9.8" fill="#000" stroke="#000" stroke-width="0.08" textLength="64.8" lengthAdjust="spacingAndGlyphs">USDCNH,Daily</text>
<text x="90.7" y="38" font-size="9.8" fill="#000" stroke="#000" stroke-width="0.08" textLength="141.3" lengthAdjust="spacingAndGlyphs">6.71927 6.71998 6.69123 6.69230</text>
<text x="8.2" y="597" font-size="9.8" fill="#000" stroke="#000" stroke-width="0.08" textLength="68" lengthAdjust="spacingAndGlyphs">RSI(14) 44.3990</text>
<text x="8.2" y="700.8" font-size="9.8" fill="#000" stroke="#000" stroke-width="0.08" textLength="65.4" lengthAdjust="spacingAndGlyphs">MACD(12,26,9)</text>
<text x="76.9" y="700.8" font-size="9.8" fill="#000" stroke="#000" stroke-width="0.08" textLength="40.7" lengthAdjust="spacingAndGlyphs">-0.017592</text>
<text x="120.9" y="700.8" font-size="9.8" fill="#000" stroke="#000" stroke-width="0.08" textLength="40.6" lengthAdjust="spacingAndGlyphs">-0.028734</text>
<g id="rsi">
<path d="M5 615.5h3M11 615.5h3M17 615.5h3M23 615.5h3M29 615.5h3M35 615.5h3M41 615.5h3M47 615.5h3M53 615.5h3M59 615.5h3M65 615.5h3M71 615.5h3M77 615.5h3M83 615.5h3M89 615.5h3M95 615.5h3M101 615.5h3M107 615.5h3M113 615.5h3M119 615.5h3M125 615.5h3M131 615.5h3M137 615.5h3M143 615.5h3M149 615.5h3M155 615.5h3M161 615.5h3M167 615.5h3M173 615.5h3M179 615.5h3M185 615.5h3M191 615.5h3M197 615.5h3M203 615.5h3M209 615.5h3M215 615.5h3M221 615.5h3M227 615.5h3M233 615.5h3M239 615.5h3M245 615.5h3M251 615.5h3M257 615.5h3M263 615.5h3M269 615.5h3M275 615.5h3M281 615.5h3M287 615.5h3M293 615.5h3M299 615.5h3M305 615.5h3M311 615.5h3M317 615.5h3M323 615.5h3M329 615.5h3M335 615.5h3M341 615.5h3M347 615.5h3M353 615.5h3M359 615.5h3M365 615.5h3M371 615.5h3M377 615.5h3M383 615.5h3M389 615.5h3M395 615.5h3M401 615.5h3M407 615.5h3M413 615.5h3M419 615.5h3M425 615.5h3M431 615.5h3M437 615.5h3M443 615.5h3M449 615.5h3M455 615.5h3M461 615.5h3M467 615.5h3M473 615.5h3M479 615.5h3M485 615.5h3M491 615.5h3M497 615.5h3M503 615.5h3M509 615.5h3M515 615.5h3M521 615.5h3M527 615.5h3M533 615.5h3M539 615.5h3M545 615.5h3M551 615.5h3M557 615.5h3M563 615.5h3M569 615.5h3M575 615.5h3M581 615.5h3M587 615.5h3M593 615.5h3M599 615.5h3M605 615.5h3M611 615.5h3M617 615.5h3M623 615.5h3M629 615.5h3M635 615.5h3M641 615.5h3M647 615.5h3M653 615.5h3M659 615.5h3M665 615.5h3M671 615.5h3M677 615.5h3M683 615.5h3M689 615.5h3M695 615.5h3M701 615.5h3M707 615.5h3M713 615.5h3M719 615.5h3M725 615.5h3M731 615.5h3M737 615.5h3M743 615.5h3M749 615.5h3M755 615.5h3M761 615.5h3M767 615.5h3M773 615.5h3M779 615.5h3M785 615.5h3M791 615.5h3M797 615.5h3M803 615.5h3M809 615.5h3M815 615.5h3M821 615.5h3M827 615.5h3M833 615.5h3M839 615.5h3M845 615.5h3M851 615.5h3M857 615.5h3M863 615.5h3M869 615.5h3M875 615.5h3M881 615.5h3M887 615.5h3M893 615.5h3M899 615.5h3M905 615.5h3M911 615.5h3M917 615.5h3M923 615.5h3M929 615.5h3M935 615.5h3M941 615.5h3M947 615.5h3M953 615.5h3M959 615.5h3M965 615.5h3M971 615.5h3M977 615.5h3M983 615.5h3M989 615.5h3M995 615.5h3M1001 615.5h3M1007 615.5h3M1013 615.5h3M1019 615.5h3M1025 615.5h3M1031 615.5h3M1037 615.5h3M1043 615.5h3M1049 615.5h3M1055 615.5h3M1061 615.5h3M1067 615.5h3M1073 615.5h3M1079 615.5h3M1085 615.5h3M1091 615.5h3M1097 615.5h3M1103 615.5h3M1109 615.5h3M1115 615.5h3M1121 615.5h3M1127 615.5h3M1133 615.5h3M1139 615.5h3M1145 615.5h3M1151 615.5h3M1157 615.5h3M1163 615.5h3M1169 615.5h3M1175 615.5h3M1181 615.5h3M1187 615.5h3M1193 615.5h3M1199 615.5h3M1205 615.5h3M1211 615.5h3M1217 615.5h3M1223 615.5h3M1229 615.5h3M1235 615.5h3M1241 615.5h3M1247 615.5h3M1253 615.5h3M1259 615.5h3M1265 615.5h3M1271 615.5h3M1277 615.5h3M1283 615.5h3M1289 615.5h3M1295 615.5h3M1301 615.5h3M1307 615.5h3M1313 615.5h3M1319 615.5h3M1325 615.5h3M1331 615.5h3M1337 615.5h3M1343 615.5h3M1349 615.5h3M1355 615.5h3M1361 615.5h3M1367 615.5h3M1373 615.5h3M1379 615.5h3M1385 615.5h3M1391 615.5h3M1397 615.5h3M1403 615.5h3M1409 615.5h3M1415 615.5h3M1421 615.5h3M1427 615.5h3M1433 615.5h3M1439 615.5h3M1445 615.5h3M1451 615.5h3M1457 615.5h3M1463 615.5h3M1469 615.5h3M1475 615.5h3M1481 615.5h3M1487 615.5h3M1493 615.5h3M1499 615.5h3M1505 615.5h3M1511 615.5h3M1517 615.5h3M1523 615.5h3M1529 615.5h3M1535 615.5h3M1541 615.5h3M1547 615.5h3M1553 615.5h3M1559 615.5h3M1565 615.5h3M1571 615.5h3M1577 615.5h3M1583 615.5h3M1589 615.5h3M1595 615.5h1M5 655.5h3M11 655.5h3M17 655.5h3M23 655.5h3M29 655.5h3M35 655.5h3M41 655.5h3M47 655.5h3M53 655.5h3M59 655.5h3M65 655.5h3M71 655.5h3M77 655.5h3M83 655.5h3M89 655.5h3M95 655.5h3M101 655.5h3M107 655.5h3M113 655.5h3M119 655.5h3M125 655.5h3M131 655.5h3M137 655.5h3M143 655.5h3M149 655.5h3M155 655.5h3M161 655.5h3M167 655.5h3M173 655.5h3M179 655.5h3M185 655.5h3M191 655.5h3M197 655.5h3M203 655.5h3M209 655.5h3M215 655.5h3M221 655.5h3M227 655.5h3M233 655.5h3M239 655.5h3M245 655.5h3M251 655.5h3M257 655.5h3M263 655.5h3M269 655.5h3M275 655.5h3M281 655.5h3M287 655.5h3M293 655.5h3M299 655.5h3M305 655.5h3M311 655.5h3M317 655.5h3M323 655.5h3M329 655.5h3M335 655.5h3M341 655.5h3M347 655.5h3M353 655.5h3M359 655.5h3M365 655.5h3M371 655.5h3M377 655.5h3M383 655.5h3M389 655.5h3M395 655.5h3M401 655.5h3M407 655.5h3M413 655.5h3M419 655.5h3M425 655.5h3M431 655.5h3M437 655.5h3M443 655.5h3M449 655.5h3M455 655.5h3M461 655.5h3M467 655.5h3M473 655.5h3M479 655.5h3M485 655.5h3M491 655.5h3M497 655.5h3M503 655.5h3M509 655.5h3M515 655.5h3M521 655.5h3M527 655.5h3M533 655.5h3M539 655.5h3M545 655.5h3M551 655.5h3M557 655.5h3M563 655.5h3M569 655.5h3M575 655.5h3M581 655.5h3M587 655.5h3M593 655.5h3M599 655.5h3M605 655.5h3M611 655.5h3M617 655.5h3M623 655.5h3M629 655.5h3M635 655.5h3M641 655.5h3M647 655.5h3M653 655.5h3M659 655.5h3M665 655.5h3M671 655.5h3M677 655.5h3M683 655.5h3M689 655.5h3M695 655.5h3M701 655.5h3M707 655.5h3M713 655.5h3M719 655.5h3M725 655.5h3M731 655.5h3M737 655.5h3M743 655.5h3M749 655.5h3M755 655.5h3M761 655.5h3M767 655.5h3M773 655.5h3M779 655.5h3M785 655.5h3M791 655.5h3M797 655.5h3M803 655.5h3M809 655.5h3M815 655.5h3M821 655.5h3M827 655.5h3M833 655.5h3M839 655.5h3M845 655.5h3M851 655.5h3M857 655.5h3M863 655.5h3M869 655.5h3M875 655.5h3M881 655.5h3M887 655.5h3M893 655.5h3M899 655.5h3M905 655.5h3M911 655.5h3M917 655.5h3M923 655.5h3M929 655.5h3M935 655.5h3M941 655.5h3M947 655.5h3M953 655.5h3M959 655.5h3M965 655.5h3M971 655.5h3M977 655.5h3M983 655.5h3M989 655.5h3M995 655.5h3M1001 655.5h3M1007 655.5h3M1013 655.5h3M1019 655.5h3M1025 655.5h3M1031 655.5h3M1037 655.5h3M1043 655.5h3M1049 655.5h3M1055 655.5h3M1061 655.5h3M1067 655.5h3M1073 655.5h3M1079 655.5h3M1085 655.5h3M1091 655.5h3M1097 655.5h3M1103 655.5h3M1109 655.5h3M1115 655.5h3M1121 655.5h3M1127 655.5h3M1133 655.5h3M1139 655.5h3M1145 655.5h3M1151 655.5h3M1157 655.5h3M1163 655.5h3M1169 655.5h3M1175 655.5h3M1181 655.5h3M1187 655.5h3M1193 655.5h3M1199 655.5h3M1205 655.5h3M1211 655.5h3M1217 655.5h3M1223 655.5h3M1229 655.5h3M1235 655.5h3M1241 655.5h3M1247 655.5h3M1253 655.5h3M1259 655.5h3M1265 655.5h3M1271 655.5h3M1277 655.5h3M1283 655.5h3M1289 655.5h3M1295 655.5h3M1301 655.5h3M1307 655.5h3M1313 655.5h3M1319 655.5h3M1325 655.5h3M1331 655.5h3M1337 655.5h3M1343 655.5h3M1349 655.5h3M1355 655.5h3M1361 655.5h3M1367 655.5h3M1373 655.5h3M1379 655.5h3M1385 655.5h3M1391 655.5h3M1397 655.5h3M1403 655.5h3M1409 655.5h3M1415 655.5h3M1421 655.5h3M1427 655.5h3M1433 655.5h3M1439 655.5h3M1445 655.5h3M1451 655.5h3M1457 655.5h3M1463 655.5h3M1469 655.5h3M1475 655.5h3M1481 655.5h3M1487 655.5h3M1493 655.5h3M1499 655.5h3M1505 655.5h3M1511 655.5h3M1517 655.5h3M1523 655.5h3M1529 655.5h3M1535 655.5h3M1541 655.5h3M1547 655.5h3M1553 655.5h3M1559 655.5h3M1565 655.5h3M1571 655.5h3M1577 655.5h3M1583 655.5h3M1589 655.5h3M1595 655.5h1" stroke="#c0c0c0" stroke-width="1" fill="none" shape-rendering="crispEdges"/>
<path d="M4.5 644V645M5.5 644V645M6.5 644V645M7.5 644V645M8.5 644V645M9.5 645V646M10.5 646V647M11.5 646V647M12.5 647V648M13.5 648V649M14.5 648V649M15.5 649V650M16.5 649V650M17.5 650V651M18.5 650V651M19.5 651V652M20.5 651V652M21.5 650V651M22.5 650V651M23.5 649V650M24.5 649V650M25.5 650V651M26.5 651V652M27.5 652V653M28.5 653V654M29.5 654V655M30.5 655V656M31.5 656V657M32.5 657V658M33.5 658V659M34.5 658V659M35.5 659V660M36.5 659V660M37.5 660V661M38.5 661V662M39.5 662V663M40.5 662V664M41.5 660V662M42.5 658V660M43.5 656V658M44.5 654V656M45.5 654V655M46.5 654V655M47.5 654V655M48.5 654V655M49.5 652V654M50.5 650V652M51.5 648V650M52.5 646V648M53.5 646V647M54.5 646V647M55.5 646V647M56.5 646V647M57.5 644V646M58.5 643V644M59.5 641V643M60.5 640V641M61.5 640V641M62.5 640V641M63.5 640V641M64.5 640V641M65.5 641V643M66.5 643V645M67.5 645V647M68.5 647V648M69.5 647V648M70.5 647V648M71.5 647V648M72.5 646V648M73.5 644V646M74.5 642V644M75.5 640V642M76.5 638V640M77.5 638V639M78.5 637V638M79.5 637V638M80.5 637V638M81.5 636V637M82.5 635V636M83.5 635V636M84.5 634V635M85.5 635V636M86.5 635V636M87.5 636V637M88.5 636V637M89.5 635V636M90.5 633V635M91.5 632V633M92.5 631V632M93.5 631V632M94.5 632V633M95.5 632V633M96.5 632V633M97.5 633V634M98.5 634V636M99.5 636V637M100.5 637V638M101.5 638V639M102.5 639V640M103.5 640V641M104.5 641V642M105.5 641V642M106.5 641V642M107.5 641V642M108.5 641V642M109.5 640V641M110.5 638V640M111.5 637V638M112.5 636V637M113.5 636V637M114.5 637V638M115.5 637V638M116.5 637V638M117.5 637V638M118.5 636V637M119.5 636V637M120.5 636V637M121.5 634V636M122.5 633V634M123.5 631V633M124.5 629V631M125.5 627V629M126.5 625V627M127.5 623V625M128.5 621V623M129.5 623V625M130.5 625V628M131.5 628V630M132.5 630V632M133.5 632V633M134.5 633V634M135.5 633V634M136.5 634V635M137.5 635V636M138.5 636V637M139.5 636V637M140.5 637V638M141.5 638V639M142.5 639V640M143.5 639V640M144.5 640V641M145.5 639V640M146.5 638V639M147.5 637V638M148.5 636V637M149.5 637V638M150.5 637V638M151.5 638V639M152.5 638V639M153.5 637V638M154.5 637V638M155.5 636V637M156.5 636V638M157.5 638V642M158.5 642V646M159.5 646V650M160.5 650V652M161.5 647V650M162.5 645V647M163.5 642V645M164.5 640V642M165.5 641V642M166.5 641V642M167.5 642V643M168.5 642V643M169.5 643V644M170.5 644V645M171.5 644V645M172.5 645V646M173.5 645V646M174.5 645V646M175.5 645V646M176.5 645V646M177.5 644V645M178.5 643V644M179.5 643V644M180.5 642V643M181.5 642V643M182.5 641V642M183.5 641V642M184.5 641V642M185.5 641V642M186.5 642V643M187.5 642V643M188.5 642V643M189.5 642V643M190.5 642V643M191.5 642V643M192.5 642V643M193.5 641V642M194.5 640V641M195.5 639V640M196.5 638V639M197.5 638V639M198.5 639V640M199.5 639V640M200.5 639V640M201.5 639V640M202.5 640V641M203.5 640V641M204.5 640V641M205.5 641V642M206.5 642V643M207.5 643V644M208.5 644V645M209.5 644V645M210.5 643V644M211.5 643V644M212.5 643V644M213.5 643V644M214.5 644V645M215.5 644V645M216.5 644V645M217.5 645V646M218.5 646V647M219.5 647V648M220.5 648V649M221.5 649V650M222.5 650V651M223.5 651V652M224.5 652V653M225.5 652V653M226.5 653V654M227.5 653V654M228.5 653V654M229.5 653V654M230.5 653V654M231.5 653V654M232.5 653V654M233.5 652V653M234.5 652V653M235.5 651V652M236.5 651V652M237.5 651V652M238.5 650V651M239.5 650V651M240.5 650V651M241.5 649V650M242.5 648V649M243.5 647V648M244.5 646V647M245.5 647V649M246.5 649V651M247.5 651V653M248.5 653V655M249.5 654V655M250.5 654V655M251.5 654V655M252.5 654V655M253.5 655V656M254.5 656V657M255.5 657V658M256.5 658V659M257.5 659V660M258.5 660V661M259.5 660V661M260.5 661V662M261.5 661V662M262.5 662V663M263.5 662V663M264.5 662V663M265.5 663V664M266.5 664V665M267.5 665V666M268.5 666V667M269.5 666V667M270.5 666V667M271.5 666V667M272.5 666V667M273.5 665V666M274.5 664V665M275.5 663V664M276.5 662V663M277.5 663V664M278.5 664V665M279.5 664V665M280.5 665V666M281.5 665V666M282.5 666V667M283.5 666V667M284.5 666V667M285.5 666V667M286.5 666V667M287.5 666V667M288.5 666V667M289.5 665V666M290.5 665V666M291.5 664V665M292.5 662V665M293.5 657V662M294.5 652V657M295.5 647V652M296.5 644V647M297.5 643V644M298.5 643V644M299.5 642V643M300.5 641V643M301.5 639V641M302.5 636V639M303.5 634V636M304.5 632V634M305.5 633V634M306.5 633V634M307.5 634V635M308.5 634V635M309.5 634V635M310.5 634V635M311.5 634V635M312.5 633V635M313.5 629V633M314.5 626V629M315.5 622V626M316.5 620V622M317.5 621V622M318.5 622V624M319.5 624V625M320.5 625V626M321.5 626V627M322.5 626V627M323.5 627V628M324.5 627V628M325.5 625V627M326.5 623V625M327.5 621V623M328.5 620V621M329.5 620V621M330.5 619V620M331.5 619V620M332.5 619V620M333.5 620V621M334.5 620V621M335.5 621V622M336.5 621V622M337.5 620V621M338.5 619V620M339.5 619V620M340.5 618V620M341.5 620V622M342.5 622V624M343.5 624V626M344.5 626V628M345.5 628V629M346.5 629V631M347.5 631V632M348.5 632V633M349.5 631V632M350.5 631V632M351.5 630V631M352.5 630V631M353.5 629V630M354.5 627V629M355.5 626V627M356.5 625V626M357.5 624V625M358.5 624V625M359.5 623V624M360.5 623V624M361.5 624V626M362.5 626V627M363.5 627V629M364.5 629V630M365.5 630V632M366.5 632V633M367.5 633V635M368.5 635V636M369.5 635V636M370.5 634V635M371.5 634V635M372.5 634V635M373.5 633V634M374.5 633V634M375.5 632V633M376.5 632V633M377.5 631V632M378.5 630V631M379.5 630V631M380.5 629V630M381.5 629V630M382.5 629V630M383.5 629V630M384.5 629V630M385.5 630V631M386.5 631V632M387.5 631V632M388.5 632V633M389.5 631V632M390.5 630V631M391.5 629V630M392.5 628V629M393.5 627V628M394.5 627V628M395.5 626V627M396.5 626V627M397.5 624V626M398.5 622V624M399.5 620V622M400.5 619V620M401.5 619V620M402.5 620V621M403.5 620V621M404.5 620V621M405.5 620V621M406.5 620V621M407.5 620V621M408.5 620V621M409.5 621V622M410.5 622V623M411.5 623V624M412.5 624V625M413.5 625V626M414.5 625V626M415.5 626V627M416.5 626V627M417.5 625V626M418.5 625V626M419.5 624V625M420.5 624V625M421.5 625V627M422.5 627V629M423.5 629V631M424.5 631V633M425.5 633V635M426.5 635V636M427.5 636V638M428.5 638V639M429.5 638V639M430.5 639V640M431.5 639V640M432.5 639V640M433.5 640V642M434.5 642V643M435.5 643V645M436.5 645V646M437.5 646V647M438.5 647V649M439.5 649V650M440.5 650V651M441.5 651V652M442.5 652V653M443.5 652V653M444.5 653V654M445.5 651V653M446.5 650V651M447.5 648V650M448.5 647V648M449.5 647V648M450.5 647V648M451.5 647V648M452.5 647V648M453.5 647V648M454.5 648V649M455.5 648V649M456.5 648V649M457.5 647V648M458.5 645V647M459.5 644V645M460.5 643V644M461.5 642V643M462.5 640V642M463.5 639V640M464.5 638V639M465.5 638V639M466.5 638V639M467.5 638V639M468.5 636V639M469.5 632V636M470.5 628V632M471.5 624V628M472.5 621V624M473.5 622V623M474.5 623V624M475.5 623V624M476.5 624V625M477.5 624V625M478.5 624V625M479.5 624V625M480.5 624V625M481.5 625V627M482.5 627V629M483.5 629V631M484.5 631V633M485.5 630V632M486.5 629V630M487.5 627V629M488.5 626V627M489.5 624V626M490.5 622V624M491.5 620V622M492.5 619V620M493.5 617V619M494.5 615V617M495.5 613V615M496.5 612V613M497.5 613V614M498.5 614V615M499.5 614V615M500.5 615V616M501.5 615V616M502.5 615V616M503.5 615V616M504.5 615V616M505.5 615V616M506.5 616V617M507.5 616V617M508.5 616V618M509.5 618V620M510.5 620V623M511.5 623V625M512.5 625V627M513.5 624V626M514.5 623V624M515.5 621V623M516.5 620V622M517.5 622V624M518.5 624V626M519.5 626V628M520.5 628V630M521.5 628V629M522.5 627V628M523.5 627V628M524.5 626V627M525.5 627V628M526.5 628V629M527.5 628V629M528.5 629V630M529.5 628V629M530.5 627V628M531.5 626V627M532.5 625V626M533.5 626V628M534.5 628V629M535.5 629V631M536.5 631V632M537.5 630V631M538.5 629V630M539.5 629V630M540.5 628V629M541.5 629V630M542.5 630V631M543.5 631V632M544.5 632V633M545.5 631V632M546.5 630V631M547.5 629V630M548.5 628V629M549.5 628V629M550.5 629V630M551.5 629V630M552.5 629V630M553.5 629V630M554.5 630V631M555.5 630V631M556.5 630V631M557.5 631V633M558.5 633V635M559.5 635V637M560.5 637V639M561.5 637V638M562.5 636V637M563.5 636V637M564.5 635V636M565.5 636V637M566.5 637V638M567.5 637V638M568.5 638V639M569.5 638V639M570.5 639V640M571.5 639V640M572.5 639V640M573.5 639V640M574.5 639V640M575.5 639V640M576.5 639V640M577.5 638V639M578.5 638V639M579.5 637V638M580.5 637V638M581.5 638V639M582.5 638V639M583.5 639V640M584.5 639V640M585.5 638V639M586.5 636V638M587.5 635V636M588.5 634V635M589.5 633V634M590.5 632V633M591.5 632V633M592.5 631V632M593.5 632V633M594.5 632V633M595.5 633V634M596.5 633V634M597.5 633V634M598.5 633V634M599.5 633V634M600.5 633V634M601.5 633V634M602.5 633V634M603.5 633V634M604.5 633V634M605.5 632V633M606.5 630V632M607.5 629V630M608.5 628V629M609.5 628V629M610.5 629V630M611.5 629V630M612.5 629V630M613.5 630V631M614.5 630V631M615.5 631V632M616.5 631V632M617.5 631V632M618.5 630V631M619.5 630V631M620.5 630V631M621.5 630V631M622.5 631V632M623.5 631V632M624.5 631V632M625.5 631V632M626.5 631V632M627.5 631V632M628.5 631V632M629.5 632V633M630.5 632V633M631.5 633V634M632.5 633V634M633.5 634V635M634.5 634V635M635.5 635V636M636.5 635V636M637.5 636V637M638.5 636V637M639.5 637V638M640.5 636V638M641.5 632V636M642.5 628V632M643.5 624V628M644.5 622V624M645.5 622V623M646.5 622V623M647.5 622V623M648.5 622V623M649.5 622V623M650.5 623V624M651.5 623V624M652.5 623V624M653.5 624V626M654.5 626V627M655.5 627V629M656.5 629V630M657.5 628V629M658.5 627V628M659.5 627V628M660.5 626V627M661.5 627V629M662.5 629V631M663.5 631V633M664.5 633V635M665.5 635V636M666.5 636V637M667.5 636V637M668.5 637V638M669.5 636V637M670.5 635V636M671.5 635V636M672.5 634V635M673.5 633V634M674.5 633V634M675.5 632V633M676.5 632V633M677.5 632V633M678.5 633V634M679.5 633V634M680.5 633V634M681.5 632V633M682.5 632V633M683.5 631V632M684.5 631V632M685.5 630V631M686.5 630V631M687.5 629V630M688.5 629V630M689.5 628V629M690.5 627V628M691.5 627V628M692.5 626V627M693.5 626V627M694.5 626V627M695.5 626V627M696.5 626V627M697.5 627V628M698.5 628V629M699.5 628V629M700.5 629V630M701.5 630V631M702.5 631V632M703.5 632V633M704.5 633V634M705.5 634V635M706.5 634V635M707.5 635V636M708.5 635V636M709.5 633V635M710.5 632V633M711.5 630V632M712.5 629V630M713.5 628V629M714.5 626V628M715.5 625V626M716.5 624V625M717.5 624V625M718.5 624V625M719.5 624V625M720.5 624V625M721.5 624V625M722.5 624V625M723.5 624V625M724.5 624V625M725.5 624V625M726.5 624V625M727.5 624V625M728.5 623V625M729.5 621V623M730.5 619V621M731.5 617V619M732.5 615V617M733.5 617V620M734.5 620V622M735.5 622V625M736.5 625V627M737.5 626V627M738.5 625V626M739.5 625V626M740.5 625V626M741.5 626V627M742.5 626V627M743.5 627V628M744.5 627V628M745.5 628V630M746.5 630V631M747.5 631V633M748.5 633V634M749.5 634V636M750.5 636V637M751.5 637V639M752.5 639V640M753.5 639V640M754.5 638V639M755.5 638V639M756.5 638V639M757.5 638V639M758.5 638V639M759.5 638V639M760.5 638V640M761.5 640V642M762.5 642V645M763.5 645V647M764.5 647V649M765.5 648V649M766.5 648V649M767.5 648V649M768.5 648V649M769.5 649V650M770.5 649V650M771.5 650V651M772.5 650V651M773.5 649V650M774.5 647V649M775.5 646V647M776.5 645V646M777.5 646V647M778.5 647V648M779.5 648V649M780.5 649V650M781.5 648V649M782.5 646V648M783.5 645V646M784.5 644V645M785.5 643V644M786.5 643V644M787.5 642V643M788.5 642V643M789.5 642V643M790.5 641V642M791.5 641V642M792.5 641V642M793.5 641V642M794.5 640V641M795.5 640V641M796.5 640V641M797.5 640V641M798.5 640V641M799.5 640V641M800.5 640V641M801.5 640V641M802.5 641V642M803.5 641V642M804.5 641V642M805.5 641V642M806.5 640V641M807.5 640V641M808.5 640V641M809.5 641V642M810.5 641V642M811.5 642V643M812.5 642V643M813.5 642V643M814.5 642V643M815.5 642V643M816.5 642V643M817.5 643V645M818.5 645V646M819.5 646V648M820.5 648V649M821.5 648V649M822.5 649V650M823.5 649V650M824.5 648V650M825.5 646V648M826.5 644V646M827.5 642V644M828.5 640V642M829.5 639V640M830.5 638V639M831.5 638V639M832.5 637V638M833.5 636V637M834.5 636V637M835.5 635V636M836.5 635V636M837.5 635V636M838.5 635V636M839.5 635V636M840.5 635V636M841.5 636V637M842.5 637V638M843.5 637V638M844.5 638V639M845.5 639V640M846.5 640V641M847.5 641V642M848.5 642V643M849.5 642V643M850.5 643V644M851.5 643V644M852.5 643V644M853.5 643V644M854.5 642V643M855.5 642V643M856.5 642V643M857.5 642V643M858.5 643V644M859.5 643V644M860.5 643V644M861.5 643V644M862.5 643V644M863.5 643V644M864.5 643V645M865.5 645V649M866.5 649V653M867.5 653V657M868.5 657V659M869.5 658V659M870.5 658V659M871.5 658V659M872.5 658V659M873.5 659V660M874.5 659V660M875.5 660V661M876.5 660V661M877.5 661V662M878.5 661V662M879.5 662V663M880.5 662V663M881.5 660V662M882.5 658V660M883.5 656V658M884.5 655V656M885.5 655V656M886.5 654V655M887.5 654V655M888.5 654V655M889.5 655V656M890.5 656V657M891.5 656V657M892.5 657V658M893.5 655V657M894.5 653V655M895.5 651V653M896.5 650V651M897.5 651V653M898.5 653V654M899.5 654V656M900.5 656V657M901.5 656V657M902.5 656V657M903.5 656V657M904.5 656V657M905.5 655V656M906.5 654V655M907.5 654V655M908.5 653V654M909.5 653V654M910.5 654V655M911.5 654V655M912.5 654V655M913.5 654V655M914.5 653V654M915.5 653V654M916.5 653V654M917.5 654V655M918.5 655V656M919.5 655V656M920.5 655V657M921.5 652V655M922.5 648V652M923.5 645V648M924.5 643V645M925.5 643V644M926.5 643V644M927.5 643V644M928.5 642V644M929.5 640V642M930.5 638V640M931.5 636V638M932.5 634V636M933.5 635V636M934.5 636V637M935.5 636V637M936.5 637V638M937.5 638V639M938.5 639V640M939.5 640V641M940.5 641V642M941.5 641V642M942.5 642V643M943.5 642V643M944.5 642V643M945.5 642V643M946.5 642V643M947.5 642V643M948.5 642V643M949.5 641V642M950.5 640V641M951.5 639V640M952.5 638V640M953.5 640V642M954.5 642V644M955.5 644V646M956.5 646V648M957.5 646V647M958.5 646V647M959.5 645V646M960.5 645V646M961.5 645V646M962.5 646V647M963.5 646V647M964.5 646V647M965.5 646V647M966.5 647V648M967.5 647V648M968.5 647V649M969.5 649V651M970.5 651V654M971.5 654V656M972.5 656V658M973.5 655V657M974.5 654V655M975.5 652V654M976.5 651V652M977.5 649V651M978.5 647V649M979.5 645V647M980.5 643V645M981.5 643V644M982.5 644V645M983.5 644V645M984.5 644V645M985.5 645V646M986.5 645V646M987.5 646V647M988.5 646V647M989.5 647V648M990.5 648V649M991.5 649V650M992.5 650V651M993.5 651V652M994.5 651V652M995.5 652V653M996.5 652V653M997.5 651V652M998.5 649V651M999.5 648V649M1000.5 647V648M1001.5 647V648M1002.5 648V649M1003.5 648V649M1004.5 648V649M1005.5 648V649M1006.5 647V648M1007.5 647V648M1008.5 647V648M1009.5 648V649M1010.5 649V650M1011.5 649V650M1012.5 650V651M1013.5 651V652M1014.5 652V654M1015.5 654V655M1016.5 655V656M1017.5 655V656M1018.5 654V655M1019.5 654V655M1020.5 654V655M1021.5 654V655M1022.5 654V655M1023.5 654V655M1024.5 654V655M1025.5 653V654M1026.5 651V653M1027.5 650V651M1028.5 649V650M1029.5 649V650M1030.5 648V649M1031.5 648V649M1032.5 648V649M1033.5 649V650M1034.5 650V651M1035.5 650V651M1036.5 651V652M1037.5 651V652M1038.5 651V652M1039.5 651V652M1040.5 651V652M1041.5 652V654M1042.5 654V655M1043.5 655V657M1044.5 657V658M1045.5 657V658M1046.5 657V658M1047.5 657V658M1048.5 657V658M1049.5 658V659M1050.5 659V660M1051.5 660V661M1052.5 661V662M1053.5 661V662M1054.5 661V662M1055.5 661V662M1056.5 661V662M1057.5 662V663M1058.5 662V663M1059.5 663V664M1060.5 663V664M1061.5 664V665M1062.5 665V666M1063.5 665V666M1064.5 666V667M1065.5 666V667M1066.5 665V666M1067.5 665V666M1068.5 665V666M1069.5 663V665M1070.5 661V663M1071.5 659V661M1072.5 657V659M1073.5 657V658M1074.5 658V659M1075.5 658V659M1076.5 658V659M1077.5 658V659M1078.5 659V660M1079.5 659V660M1080.5 659V660M1081.5 659V660M1082.5 660V661M1083.5 660V661M1084.5 659V661M1085.5 656V659M1086.5 654V656M1087.5 651V654M1088.5 649V651M1089.5 650V651M1090.5 651V653M1091.5 653V654M1092.5 654V655M1093.5 654V655M1094.5 654V655M1095.5 654V655M1096.5 654V655M1097.5 654V655M1098.5 653V654M1099.5 653V654M1100.5 653V654M1101.5 653V654M1102.5 653V654M1103.5 653V654M1104.5 653V654M1105.5 654V656M1106.5 656V657M1107.5 657V659M1108.5 659V660M1109.5 660V661M1110.5 661V662M1111.5 662V663M1112.5 663V664M1113.5 664V665M1114.5 665V666M1115.5 666V667M1116.5 667V668M1117.5 666V667M1118.5 665V666M1119.5 664V665M1120.5 663V664M1121.5 662V663M1122.5 660V662M1123.5 659V660M1124.5 658V659M1125.5 657V658M1126.5 656V657M1127.5 656V657M1128.5 654V656M1129.5 652V654M1130.5 649V652M1131.5 647V649M1132.5 645V647M1133.5 646V647M1134.5 647V648M1135.5 648V649M1136.5 648V650M1137.5 646V648M1138.5 643V646M1139.5 641V643M1140.5 639V641M1141.5 638V639M1142.5 636V638M1143.5 635V636M1144.5 634V635M1145.5 634V635M1146.5 634V635M1147.5 634V635M1148.5 634V635M1149.5 634V635M1150.5 635V636M1151.5 635V636M1152.5 635V636M1153.5 636V637M1154.5 637V639M1155.5 639V640M1156.5 640V641M1157.5 639V640M1158.5 638V639M1159.5 638V639M1160.5 637V638M1161.5 638V640M1162.5 640V642M1163.5 642V644M1164.5 644V646M1165.5 646V648M1166.5 648V650M1167.5 650V652M1168.5 652V653M1169.5 651V652M1170.5 650V651M1171.5 649V650M1172.5 648V649M1173.5 648V649M1174.5 649V650M1175.5 649V650M1176.5 649V650M1177.5 650V651M1178.5 651V653M1179.5 653V654M1180.5 654V655M1181.5 653V654M1182.5 652V653M1183.5 651V652M1184.5 650V651M1185.5 650V651M1186.5 651V652M1187.5 651V652M1188.5 651V652M1189.5 650V651M1190.5 649V650M1191.5 649V650M1192.5 648V649M1193.5 649V651M1194.5 651V653M1195.5 653V655M1196.5 655V657M1197.5 656V657M1198.5 655V656M1199.5 655V656M1200.5 654V656M1201.5 650V654M1202.5 647V650M1203.5 643V647M1204.5 641V643M1205.5 641V642M1206.5 641V642M1207.5 641V642M1208.5 641V642M1209.5 642V643M1210.5 643V645M1211.5 645V646M1212.5 646V647M1213.5 645V646M1214.5 645V646M1215.5 644V645M1216.5 644V645M1217.5 645V646M1218.5 646V647M1219.5 647V648M1220.5 648V649M1221.5 648V649M1222.5 648V649M1223.5 648V649M1224.5 648V649M1225.5 649V650M1226.5 650V651M1227.5 650V651M1228.5 651V652M1229.5 651V652M1230.5 652V653M1231.5 652V653M1232.5 652V653M1233.5 653V654M1234.5 654V655M1235.5 654V655M1236.5 655V656M1237.5 653V655M1238.5 651V653M1239.5 649V651M1240.5 648V649M1241.5 648V649M1242.5 648V649M1243.5 648V649M1244.5 648V649M1245.5 648V649M1246.5 648V649M1247.5 648V649M1248.5 647V649M1249.5 645V647M1250.5 643V645M1251.5 641V643M1252.5 639V641M1253.5 639V640M1254.5 638V639M1255.5 638V639M1256.5 638V639M1257.5 637V638M1258.5 635V637M1259.5 634V635M1260.5 633V634M1261.5 634V635M1262.5 634V635M1263.5 635V636M1264.5 635V636M1265.5 636V638M1266.5 638V639M1267.5 639V641M1268.5 641V642" fill="none" stroke="#1e90ff" stroke-width="1" shape-rendering="crispEdges"/>
</g>
<g id="macd">
<g shape-rendering="crispEdges">
<rect x="4" y="739" width="1" height="16" fill="#c0c0c0"/>
<rect x="8" y="739" width="1" height="17" fill="#c0c0c0"/>
<rect x="12" y="739" width="1" height="18" fill="#c0c0c0"/>
<rect x="16" y="739" width="1" height="18" fill="#c0c0c0"/>
<rect x="20" y="739" width="1" height="20" fill="#c0c0c0"/>
<rect x="24" y="739" width="1" height="20" fill="#c0c0c0"/>
<rect x="28" y="739" width="1" height="22" fill="#c0c0c0"/>
<rect x="32" y="739" width="1" height="24" fill="#c0c0c0"/>
<rect x="36" y="739" width="1" height="27" fill="#c0c0c0"/>
<rect x="40" y="739" width="1" height="31" fill="#c0c0c0"/>
<rect x="44" y="739" width="1" height="32" fill="#c0c0c0"/>
<rect x="48" y="739" width="1" height="32" fill="#c0c0c0"/>
<rect x="52" y="739" width="1" height="32" fill="#c0c0c0"/>
<rect x="56" y="739" width="1" height="30" fill="#c0c0c0"/>
<rect x="60" y="739" width="1" height="28" fill="#c0c0c0"/>
<rect x="64" y="739" width="1" height="24" fill="#c0c0c0"/>
<rect x="68" y="739" width="1" height="24" fill="#c0c0c0"/>
<rect x="72" y="739" width="1" height="24" fill="#c0c0c0"/>
<rect x="76" y="739" width="1" height="20" fill="#c0c0c0"/>
<rect x="80" y="739" width="1" height="18" fill="#c0c0c0"/>
<rect x="84" y="739" width="1" height="14" fill="#c0c0c0"/>
<rect x="88" y="739" width="1" height="12" fill="#c0c0c0"/>
<rect x="92" y="739" width="1" height="9" fill="#c0c0c0"/>
<rect x="96" y="739" width="1" height="7" fill="#c0c0c0"/>
<rect x="100" y="739" width="1" height="7" fill="#c0c0c0"/>
<rect x="104" y="739" width="1" height="7" fill="#c0c0c0"/>
<rect x="108" y="739" width="1" height="6" fill="#c0c0c0"/>
<rect x="112" y="739" width="1" height="6" fill="#c0c0c0"/>
<rect x="116" y="739" width="1" height="5" fill="#c0c0c0"/>
<rect x="120" y="739" width="1" height="4" fill="#c0c0c0"/>
<rect x="124" y="739" width="1" height="3" fill="#c0c0c0"/>
<rect x="128" y="737" width="1" height="3" fill="#c0c0c0"/>
<rect x="132" y="737" width="1" height="3" fill="#c0c0c0"/>
<rect x="136" y="736" width="1" height="4" fill="#c0c0c0"/>
<rect x="140" y="738" width="1" height="2" fill="#c0c0c0"/>
<rect x="144" y="738" width="1" height="2" fill="#c0c0c0"/>
<rect x="148" y="738" width="1" height="2" fill="#c0c0c0"/>
<rect x="152" y="738" width="1" height="2" fill="#c0c0c0"/>
<rect x="156" y="738" width="1" height="2" fill="#c0c0c0"/>
<rect x="160" y="739" width="1" height="6" fill="#c0c0c0"/>
<rect x="164" y="739" width="1" height="7" fill="#c0c0c0"/>
<rect x="168" y="739" width="1" height="9" fill="#c0c0c0"/>
<rect x="172" y="739" width="1" height="11" fill="#c0c0c0"/>
<rect x="176" y="739" width="1" height="12" fill="#c0c0c0"/>
<rect x="180" y="739" width="1" height="13" fill="#c0c0c0"/>
<rect x="184" y="739" width="1" height="12" fill="#c0c0c0"/>
<rect x="188" y="739" width="1" height="13" fill="#c0c0c0"/>
<rect x="192" y="739" width="1" height="12" fill="#c0c0c0"/>
<rect x="196" y="739" width="1" height="11" fill="#c0c0c0"/>
<rect x="200" y="739" width="1" height="11" fill="#c0c0c0"/>
<rect x="204" y="739" width="1" height="10" fill="#c0c0c0"/>
<rect x="208" y="739" width="1" height="10" fill="#c0c0c0"/>
<rect x="212" y="739" width="1" height="11" fill="#c0c0c0"/>
<rect x="216" y="739" width="1" height="12" fill="#c0c0c0"/>
<rect x="220" y="739" width="1" height="14" fill="#c0c0c0"/>
<rect x="224" y="739" width="1" height="16" fill="#c0c0c0"/>
<rect x="228" y="739" width="1" height="17" fill="#c0c0c0"/>
<rect x="232" y="739" width="1" height="18" fill="#c0c0c0"/>
<rect x="236" y="739" width="1" height="19" fill="#c0c0c0"/>
<rect x="240" y="739" width="1" height="19" fill="#c0c0c0"/>
<rect x="244" y="739" width="1" height="19" fill="#c0c0c0"/>
<rect x="248" y="739" width="1" height="20" fill="#c0c0c0"/>
<rect x="252" y="739" width="1" height="21" fill="#c0c0c0"/>
<rect x="256" y="739" width="1" height="23" fill="#c0c0c0"/>
<rect x="260" y="739" width="1" height="26" fill="#c0c0c0"/>
<rect x="264" y="739" width="1" height="28" fill="#c0c0c0"/>
<rect x="268" y="739" width="1" height="32" fill="#c0c0c0"/>
<rect x="272" y="739" width="1" height="34" fill="#c0c0c0"/>
<rect x="276" y="739" width="1" height="35" fill="#c0c0c0"/>
<rect x="280" y="739" width="1" height="37" fill="#c0c0c0"/>
<rect x="284" y="739" width="1" height="39" fill="#c0c0c0"/>
<rect x="288" y="739" width="1" height="40" fill="#c0c0c0"/>
<rect x="292" y="739" width="1" height="40" fill="#c0c0c0"/>
<rect x="296" y="739" width="1" height="37" fill="#c0c0c0"/>
<rect x="300" y="739" width="1" height="33" fill="#c0c0c0"/>
<rect x="304" y="739" width="1" height="27" fill="#c0c0c0"/>
<rect x="308" y="739" width="1" height="23" fill="#c0c0c0"/>
<rect x="312" y="739" width="1" height="19" fill="#c0c0c0"/>
<rect x="316" y="739" width="1" height="11" fill="#c0c0c0"/>
<rect x="320" y="739" width="1" height="6" fill="#c0c0c0"/>
<rect x="324" y="739" width="1" height="2" fill="#c0c0c0"/>
<rect x="328" y="734" width="1" height="6" fill="#c0c0c0"/>
<rect x="332" y="729" width="1" height="11" fill="#c0c0c0"/>
<rect x="336" y="726" width="1" height="14" fill="#c0c0c0"/>
<rect x="340" y="722" width="1" height="18" fill="#c0c0c0"/>
<rect x="344" y="722" width="1" height="18" fill="#c0c0c0"/>
<rect x="348" y="723" width="1" height="17" fill="#c0c0c0"/>
<rect x="352" y="724" width="1" height="16" fill="#c0c0c0"/>
<rect x="356" y="722" width="1" height="18" fill="#c0c0c0"/>
<rect x="360" y="721" width="1" height="19" fill="#c0c0c0"/>
<rect x="364" y="721" width="1" height="19" fill="#c0c0c0"/>
<rect x="368" y="724" width="1" height="16" fill="#c0c0c0"/>
<rect x="372" y="726" width="1" height="14" fill="#c0c0c0"/>
<rect x="376" y="727" width="1" height="13" fill="#c0c0c0"/>
<rect x="380" y="727" width="1" height="13" fill="#c0c0c0"/>
<rect x="384" y="726" width="1" height="14" fill="#c0c0c0"/>
<rect x="388" y="727" width="1" height="13" fill="#c0c0c0"/>
<rect x="392" y="727" width="1" height="13" fill="#c0c0c0"/>
<rect x="396" y="726" width="1" height="14" fill="#c0c0c0"/>
<rect x="400" y="722" width="1" height="18" fill="#c0c0c0"/>
<rect x="404" y="720" width="1" height="20" fill="#c0c0c0"/>
<rect x="408" y="718" width="1" height="22" fill="#c0c0c0"/>
<rect x="412" y="718" width="1" height="22" fill="#c0c0c0"/>
<rect x="416" y="719" width="1" height="21" fill="#c0c0c0"/>
<rect x="420" y="719" width="1" height="21" fill="#c0c0c0"/>
<rect x="424" y="721" width="1" height="19" fill="#c0c0c0"/>
<rect x="428" y="725" width="1" height="15" fill="#c0c0c0"/>
<rect x="432" y="728" width="1" height="12" fill="#c0c0c0"/>
<rect x="436" y="733" width="1" height="7" fill="#c0c0c0"/>
<rect x="440" y="739" width="1" height="1" fill="#c0c0c0"/>
<rect x="444" y="739" width="1" height="8" fill="#c0c0c0"/>
<rect x="448" y="739" width="1" height="11" fill="#c0c0c0"/>
<rect x="452" y="739" width="1" height="14" fill="#c0c0c0"/>
<rect x="456" y="739" width="1" height="16" fill="#c0c0c0"/>
<rect x="460" y="739" width="1" height="16" fill="#c0c0c0"/>
<rect x="464" y="739" width="1" height="15" fill="#c0c0c0"/>
<rect x="468" y="739" width="1" height="13" fill="#c0c0c0"/>
<rect x="472" y="739" width="1" height="5" fill="#c0c0c0"/>
<rect x="476" y="738" width="1" height="2" fill="#c0c0c0"/>
<rect x="480" y="734" width="1" height="6" fill="#c0c0c0"/>
<rect x="484" y="733" width="1" height="7" fill="#c0c0c0"/>
<rect x="488" y="730" width="1" height="10" fill="#c0c0c0"/>
<rect x="492" y="723" width="1" height="17" fill="#c0c0c0"/>
<rect x="496" y="711" width="1" height="29" fill="#c0c0c0"/>
<rect x="500" y="704" width="1" height="36" fill="#c0c0c0"/>
<rect x="504" y="699" width="1" height="41" fill="#c0c0c0"/>
<rect x="508" y="695" width="1" height="45" fill="#c0c0c0"/>
<rect x="512" y="697" width="1" height="43" fill="#c0c0c0"/>
<rect x="516" y="695" width="1" height="45" fill="#c0c0c0"/>
<rect x="520" y="698" width="1" height="42" fill="#c0c0c0"/>
<rect x="524" y="698" width="1" height="42" fill="#c0c0c0"/>
<rect x="528" y="701" width="1" height="39" fill="#c0c0c0"/>
<rect x="532" y="701" width="1" height="39" fill="#c0c0c0"/>
<rect x="536" y="704" width="1" height="36" fill="#c0c0c0"/>
<rect x="540" y="705" width="1" height="35" fill="#c0c0c0"/>
<rect x="544" y="708" width="1" height="32" fill="#c0c0c0"/>
<rect x="548" y="708" width="1" height="32" fill="#c0c0c0"/>
<rect x="552" y="709" width="1" height="31" fill="#c0c0c0"/>
<rect x="556" y="711" width="1" height="29" fill="#c0c0c0"/>
<rect x="560" y="717" width="1" height="23" fill="#c0c0c0"/>
<rect x="564" y="721" width="1" height="19" fill="#c0c0c0"/>
<rect x="568" y="725" width="1" height="15" fill="#c0c0c0"/>
<rect x="572" y="730" width="1" height="10" fill="#c0c0c0"/>
<rect x="576" y="734" width="1" height="6" fill="#c0c0c0"/>
<rect x="580" y="735" width="1" height="5" fill="#c0c0c0"/>
<rect x="584" y="738" width="1" height="2" fill="#c0c0c0"/>
<rect x="588" y="738" width="1" height="2" fill="#c0c0c0"/>
<rect x="592" y="736" width="1" height="4" fill="#c0c0c0"/>
<rect x="596" y="735" width="1" height="5" fill="#c0c0c0"/>
<rect x="600" y="735" width="1" height="5" fill="#c0c0c0"/>
<rect x="604" y="735" width="1" height="5" fill="#c0c0c0"/>
<rect x="608" y="732" width="1" height="8" fill="#c0c0c0"/>
<rect x="612" y="731" width="1" height="9" fill="#c0c0c0"/>
<rect x="616" y="731" width="1" height="9" fill="#c0c0c0"/>
<rect x="620" y="730" width="1" height="10" fill="#c0c0c0"/>
<rect x="624" y="730" width="1" height="10" fill="#c0c0c0"/>
<rect x="628" y="730" width="1" height="10" fill="#c0c0c0"/>
<rect x="632" y="731" width="1" height="9" fill="#c0c0c0"/>
<rect x="636" y="732" width="1" height="8" fill="#c0c0c0"/>
<rect x="640" y="734" width="1" height="6" fill="#c0c0c0"/>
<rect x="644" y="730" width="1" height="10" fill="#c0c0c0"/>
<rect x="648" y="726" width="1" height="14" fill="#c0c0c0"/>
<rect x="652" y="724" width="1" height="16" fill="#c0c0c0"/>
<rect x="656" y="724" width="1" height="16" fill="#c0c0c0"/>
<rect x="660" y="723" width="1" height="17" fill="#c0c0c0"/>
<rect x="664" y="725" width="1" height="15" fill="#c0c0c0"/>
<rect x="668" y="728" width="1" height="12" fill="#c0c0c0"/>
<rect x="672" y="730" width="1" height="10" fill="#c0c0c0"/>
<rect x="676" y="730" width="1" height="10" fill="#c0c0c0"/>
<rect x="680" y="731" width="1" height="9" fill="#c0c0c0"/>
<rect x="684" y="731" width="1" height="9" fill="#c0c0c0"/>
<rect x="688" y="730" width="1" height="10" fill="#c0c0c0"/>
<rect x="692" y="728" width="1" height="12" fill="#c0c0c0"/>
<rect x="696" y="727" width="1" height="13" fill="#c0c0c0"/>
<rect x="700" y="727" width="1" height="13" fill="#c0c0c0"/>
<rect x="704" y="729" width="1" height="11" fill="#c0c0c0"/>
<rect x="708" y="730" width="1" height="10" fill="#c0c0c0"/>
<rect x="712" y="730" width="1" height="10" fill="#c0c0c0"/>
<rect x="716" y="727" width="1" height="13" fill="#c0c0c0"/>
<rect x="720" y="726" width="1" height="14" fill="#c0c0c0"/>
<rect x="724" y="725" width="1" height="15" fill="#c0c0c0"/>
<rect x="728" y="724" width="1" height="16" fill="#c0c0c0"/>
<rect x="732" y="720" width="1" height="20" fill="#c0c0c0"/>
<rect x="736" y="719" width="1" height="21" fill="#c0c0c0"/>
<rect x="740" y="719" width="1" height="21" fill="#c0c0c0"/>
<rect x="744" y="720" width="1" height="20" fill="#c0c0c0"/>
<rect x="748" y="722" width="1" height="18" fill="#c0c0c0"/>
<rect x="752" y="726" width="1" height="14" fill="#c0c0c0"/>
<rect x="756" y="730" width="1" height="10" fill="#c0c0c0"/>
<rect x="760" y="732" width="1" height="8" fill="#c0c0c0"/>
<rect x="764" y="738" width="1" height="2" fill="#c0c0c0"/>
<rect x="768" y="739" width="1" height="5" fill="#c0c0c0"/>
<rect x="772" y="739" width="1" height="10" fill="#c0c0c0"/>
<rect x="776" y="739" width="1" height="12" fill="#c0c0c0"/>
<rect x="780" y="739" width="1" height="16" fill="#c0c0c0"/>
<rect x="784" y="739" width="1" height="17" fill="#c0c0c0"/>
<rect x="788" y="739" width="1" height="17" fill="#c0c0c0"/>
<rect x="792" y="739" width="1" height="17" fill="#c0c0c0"/>
<rect x="796" y="739" width="1" height="16" fill="#c0c0c0"/>
<rect x="800" y="739" width="1" height="15" fill="#c0c0c0"/>
<rect x="804" y="739" width="1" height="14" fill="#c0c0c0"/>
<rect x="808" y="739" width="1" height="14" fill="#c0c0c0"/>
<rect x="812" y="739" width="1" height="14" fill="#c0c0c0"/>
<rect x="816" y="739" width="1" height="14" fill="#c0c0c0"/>
<rect x="820" y="739" width="1" height="15" fill="#c0c0c0"/>
<rect x="824" y="739" width="1" height="16" fill="#c0c0c0"/>
<rect x="828" y="739" width="1" height="15" fill="#c0c0c0"/>
<rect x="832" y="739" width="1" height="13" fill="#c0c0c0"/>
<rect x="836" y="739" width="1" height="12" fill="#c0c0c0"/>
<rect x="840" y="739" width="1" height="10" fill="#c0c0c0"/>
<rect x="844" y="739" width="1" height="9" fill="#c0c0c0"/>
<rect x="848" y="739" width="1" height="9" fill="#c0c0c0"/>
<rect x="852" y="739" width="1" height="10" fill="#c0c0c0"/>
<rect x="856" y="739" width="1" height="10" fill="#c0c0c0"/>
<rect x="860" y="739" width="1" height="10" fill="#c0c0c0"/>
<rect x="864" y="739" width="1" height="10" fill="#c0c0c0"/>
<rect x="868" y="739" width="1" height="14" fill="#c0c0c0"/>
<rect x="872" y="739" width="1" height="18" fill="#c0c0c0"/>
<rect x="876" y="739" width="1" height="21" fill="#c0c0c0"/>
<rect x="880" y="739" width="1" height="25" fill="#c0c0c0"/>
<rect x="884" y="739" width="1" height="26" fill="#c0c0c0"/>
<rect x="888" y="739" width="1" height="26" fill="#c0c0c0"/>
<rect x="892" y="739" width="1" height="28" fill="#c0c0c0"/>
<rect x="896" y="739" width="1" height="27" fill="#c0c0c0"/>
<rect x="900" y="739" width="1" height="29" fill="#c0c0c0"/>
<rect x="904" y="739" width="1" height="29" fill="#c0c0c0"/>
<rect x="908" y="739" width="1" height="29" fill="#c0c0c0"/>
<rect x="912" y="739" width="1" height="29" fill="#c0c0c0"/>
<rect x="916" y="739" width="1" height="28" fill="#c0c0c0"/>
<rect x="920" y="739" width="1" height="29" fill="#c0c0c0"/>
<rect x="924" y="739" width="1" height="26" fill="#c0c0c0"/>
<rect x="928" y="739" width="1" height="24" fill="#c0c0c0"/>
<rect x="932" y="739" width="1" height="20" fill="#c0c0c0"/>
<rect x="936" y="739" width="1" height="18" fill="#c0c0c0"/>
<rect x="940" y="739" width="1" height="17" fill="#c0c0c0"/>
<rect x="944" y="739" width="1" height="16" fill="#c0c0c0"/>
<rect x="948" y="739" width="1" height="15" fill="#c0c0c0"/>
<rect x="952" y="739" width="1" height="13" fill="#c0c0c0"/>
<rect x="956" y="739" width="1" height="15" fill="#c0c0c0"/>
<rect x="960" y="739" width="1" height="15" fill="#c0c0c0"/>
<rect x="964" y="739" width="1" height="16" fill="#c0c0c0"/>
<rect x="968" y="739" width="1" height="16" fill="#c0c0c0"/>
<rect x="972" y="739" width="1" height="21" fill="#c0c0c0"/>
<rect x="976" y="739" width="1" height="23" fill="#c0c0c0"/>
<rect x="980" y="739" width="1" height="22" fill="#c0c0c0"/>
<rect x="984" y="739" width="1" height="21" fill="#c0c0c0"/>
<rect x="988" y="739" width="1" height="21" fill="#c0c0c0"/>
<rect x="992" y="739" width="1" height="23" fill="#c0c0c0"/>
<rect x="996" y="739" width="1" height="24" fill="#c0c0c0"/>
<rect x="1000" y="739" width="1" height="24" fill="#c0c0c0"/>
<rect x="1004" y="739" width="1" height="24" fill="#c0c0c0"/>
<rect x="1008" y="739" width="1" height="24" fill="#c0c0c0"/>
<rect x="1012" y="739" width="1" height="24" fill="#c0c0c0"/>
<rect x="1016" y="739" width="1" height="27" fill="#c0c0c0"/>
<rect x="1020" y="739" width="1" height="28" fill="#c0c0c0"/>
<rect x="1024" y="739" width="1" height="29" fill="#c0c0c0"/>
<rect x="1028" y="739" width="1" height="28" fill="#c0c0c0"/>
<rect x="1032" y="739" width="1" height="27" fill="#c0c0c0"/>
<rect x="1036" y="739" width="1" height="27" fill="#c0c0c0"/>
<rect x="1040" y="739" width="1" height="27" fill="#c0c0c0"/>
<rect x="1044" y="739" width="1" height="29" fill="#c0c0c0"/>
<rect x="1048" y="739" width="1" height="30" fill="#c0c0c0"/>
<rect x="1052" y="739" width="1" height="32" fill="#c0c0c0"/>
<rect x="1056" y="739" width="1" height="34" fill="#c0c0c0"/>
<rect x="1060" y="739" width="1" height="36" fill="#c0c0c0"/>
<rect x="1064" y="739" width="1" height="39" fill="#c0c0c0"/>
<rect x="1068" y="739" width="1" height="41" fill="#c0c0c0"/>
<rect x="1072" y="739" width="1" height="40" fill="#c0c0c0"/>
<rect x="1076" y="739" width="1" height="40" fill="#c0c0c0"/>
<rect x="1080" y="739" width="1" height="40" fill="#c0c0c0"/>
<rect x="1084" y="739" width="1" height="40" fill="#c0c0c0"/>
<rect x="1088" y="739" width="1" height="37" fill="#c0c0c0"/>
<rect x="1092" y="739" width="1" height="37" fill="#c0c0c0"/>
<rect x="1096" y="739" width="1" height="36" fill="#c0c0c0"/>
<rect x="1100" y="739" width="1" height="35" fill="#c0c0c0"/>
<rect x="1104" y="739" width="1" height="33" fill="#c0c0c0"/>
<rect x="1108" y="739" width="1" height="35" fill="#c0c0c0"/>
<rect x="1112" y="739" width="1" height="38" fill="#c0c0c0"/>
<rect x="1116" y="739" width="1" height="42" fill="#c0c0c0"/>
<rect x="1120" y="739" width="1" height="44" fill="#c0c0c0"/>
<rect x="1124" y="739" width="1" height="44" fill="#c0c0c0"/>
<rect x="1128" y="739" width="1" height="44" fill="#c0c0c0"/>
<rect x="1132" y="739" width="1" height="40" fill="#c0c0c0"/>
<rect x="1136" y="739" width="1" height="39" fill="#c0c0c0"/>
<rect x="1140" y="739" width="1" height="34" fill="#c0c0c0"/>
<rect x="1144" y="739" width="1" height="28" fill="#c0c0c0"/>
<rect x="1148" y="739" width="1" height="24" fill="#c0c0c0"/>
<rect x="1152" y="739" width="1" height="20" fill="#c0c0c0"/>
<rect x="1156" y="739" width="1" height="19" fill="#c0c0c0"/>
<rect x="1160" y="739" width="1" height="17" fill="#c0c0c0"/>
<rect x="1164" y="739" width="1" height="18" fill="#c0c0c0"/>
<rect x="1168" y="739" width="1" height="23" fill="#c0c0c0"/>
<rect x="1172" y="739" width="1" height="25" fill="#c0c0c0"/>
<rect x="1176" y="739" width="1" height="27" fill="#c0c0c0"/>
<rect x="1180" y="739" width="1" height="31" fill="#c0c0c0"/>
<rect x="1184" y="739" width="1" height="33" fill="#c0c0c0"/>
<rect x="1188" y="739" width="1" height="34" fill="#c0c0c0"/>
<rect x="1192" y="739" width="1" height="34" fill="#c0c0c0"/>
<rect x="1196" y="739" width="1" height="39" fill="#c0c0c0"/>
<rect x="1200" y="739" width="1" height="41" fill="#c0c0c0"/>
<rect x="1204" y="739" width="1" height="38" fill="#c0c0c0"/>
<rect x="1208" y="739" width="1" height="35" fill="#c0c0c0"/>
<rect x="1212" y="739" width="1" height="36" fill="#c0c0c0"/>
<rect x="1216" y="739" width="1" height="35" fill="#c0c0c0"/>
<rect x="1220" y="739" width="1" height="36" fill="#c0c0c0"/>
<rect x="1224" y="739" width="1" height="36" fill="#c0c0c0"/>
<rect x="1228" y="739" width="1" height="38" fill="#c0c0c0"/>
<rect x="1232" y="739" width="1" height="40" fill="#c0c0c0"/>
<rect x="1236" y="739" width="1" height="43" fill="#c0c0c0"/>
<rect x="1240" y="739" width="1" height="43" fill="#c0c0c0"/>
<rect x="1244" y="739" width="1" height="42" fill="#c0c0c0"/>
<rect x="1248" y="739" width="1" height="41" fill="#c0c0c0"/>
<rect x="1252" y="739" width="1" height="36" fill="#c0c0c0"/>
<rect x="1256" y="739" width="1" height="32" fill="#c0c0c0"/>
<rect x="1260" y="739" width="1" height="26" fill="#c0c0c0"/>
<rect x="1264" y="739" width="1" height="22" fill="#c0c0c0"/>
<rect x="1268" y="739" width="1" height="21" fill="#c0c0c0"/>
</g>
<path d="M4.5 753V754M5.5 753V754M6.5 754V755M10.5 755V756M11.5 755V756M12.5 755V756M16.5 755V756M17.5 755V756M18.5 756V757M22.5 756V757M23.5 756V757M24.5 756V757M28.5 757V758M29.5 757V758M30.5 758V759M34.5 759V760M35.5 759V760M36.5 759V760M40.5 761V762M41.5 761V762M42.5 762V763M46.5 763V764M47.5 763V764M48.5 763V764M52.5 765V766M53.5 765V766M54.5 766V767M58.5 767V768M59.5 767V768M60.5 767V768M64.5 767V768M65.5 767V768M66.5 767V768M70.5 766V767M71.5 766V767M72.5 766V767M76.5 765V766M77.5 765V766M78.5 764V765M82.5 763V764M83.5 762V763M84.5 762V763M88.5 759V760M89.5 758V759M90.5 757V758M94.5 755V756M95.5 754V755M96.5 754V755M100.5 752V753M101.5 751V752M102.5 751V752M106.5 749V750M107.5 749V750M108.5 749V750M112.5 747V748M113.5 747V748M114.5 746V747M118.5 745V746M119.5 745V746M120.5 745V746M124.5 745V746M125.5 745V746M126.5 744V745M130.5 743V744M131.5 743V744M132.5 743V744M136.5 741V742M137.5 741V742M138.5 740V741M142.5 740V741M143.5 740V741M144.5 740V741M148.5 740V741M149.5 740V741M150.5 739V740M154.5 739V740M155.5 739V740M156.5 739V740M160.5 739V740M161.5 739V740M162.5 739V740M166.5 740V741M167.5 740V741M168.5 740V741M172.5 743V744M173.5 743V744M174.5 744V745M178.5 745V746M179.5 746V747M180.5 746V747M184.5 747V748M185.5 747V748M186.5 748V749M190.5 749V750M191.5 749V750M192.5 749V750M196.5 750V751M197.5 750V751M198.5 750V751M202.5 750V751M203.5 750V751M204.5 750V751M208.5 750V751M209.5 750V751M210.5 750V751M214.5 750V751M215.5 750V751M216.5 750V751M220.5 750V751M221.5 750V751M222.5 751V752M226.5 751V752M227.5 751V752M228.5 751V752M232.5 752V753M233.5 752V753M234.5 752V753M238.5 753V754M239.5 753V754M240.5 753V754M244.5 754V755M245.5 754V755M246.5 755V756M250.5 756V757M251.5 756V757M252.5 756V757M256.5 757V758M257.5 758V759M258.5 758V759M262.5 760V761M263.5 760V761M264.5 760V761M268.5 762V763M269.5 762V763M270.5 763V764M274.5 764V765M275.5 765V766M276.5 765V766M280.5 767V768M281.5 768V769M282.5 768V769M286.5 770V771M287.5 771V772M288.5 771V772M292.5 773V774M293.5 773V774M294.5 774V775M298.5 775V776M299.5 775V776M300.5 775V776M304.5 774V775M305.5 774V775M306.5 773V774M310.5 772V773M311.5 771V772M312.5 771V772M316.5 768V769M317.5 767V768M318.5 766V767M322.5 762V763M323.5 761V762M324.5 760V761M327.5 756V757M328.5 755V756M329.5 754V755M332.5 750V751M333.5 749V750M334.5 748V749M337.5 744V745M338.5 742V744M342.5 738V739M343.5 737V738M344.5 736V737M348.5 732V733M349.5 731V732M350.5 730V731M354.5 728V729M355.5 727V728M356.5 727V728M360.5 725V726M361.5 725V726M362.5 724V725M366.5 723V724M367.5 723V724M368.5 723V724M372.5 723V724M373.5 723V724M374.5 723V724M378.5 724V725M379.5 724V725M380.5 724V725M384.5 724V725M385.5 724V725M386.5 725V726M390.5 725V726M391.5 725V726M392.5 725V726M396.5 726V727M397.5 726V727M398.5 726V727M402.5 725V726M403.5 725V726M404.5 725V726M408.5 724V725M409.5 724V725M410.5 723V724M414.5 723V724M415.5 723V724M416.5 723V724M420.5 722V723M421.5 722V723M422.5 721V722M426.5 721V722M427.5 721V722M428.5 721V722M432.5 721V722M433.5 721V722M434.5 722V723M438.5 723V724M439.5 724V725M440.5 724V725M444.5 727V728M445.5 728V729M446.5 729V730M450.5 733V734M451.5 734V735M452.5 735V736M456.5 738V739M457.5 739V740M458.5 740V741M462.5 744V745M463.5 744V745M464.5 745V746M468.5 748V749M469.5 748V749M470.5 749V750M474.5 749V750M475.5 749V750M476.5 749V750M480.5 747V748M481.5 747V748M482.5 746V747M486.5 744V745M487.5 744V745M488.5 743V744M492.5 740V741M493.5 739V740M494.5 738V739M497.5 734V735M498.5 732V734M501.5 728V729M502.5 727V728M503.5 726V727M506.5 721V723M507.5 720V721M510.5 716V717M511.5 715V716M512.5 714V715M516.5 710V711M517.5 709V710M518.5 708V709M522.5 704V705M523.5 703V704M524.5 702V703M528.5 700V701M529.5 700V701M530.5 699V700M534.5 699V700M535.5 699V700M536.5 699V700M540.5 699V700M541.5 700V701M542.5 700V701M546.5 702V703M547.5 702V703M548.5 702V703M552.5 704V705M553.5 704V705M554.5 705V706M558.5 706V707M559.5 707V708M560.5 707V708M564.5 709V710M565.5 710V711M566.5 711V712M570.5 714V715M571.5 714V715M572.5 715V716M576.5 718V719M577.5 719V720M578.5 720V721M582.5 723V724M583.5 723V724M584.5 724V725M588.5 728V729M589.5 729V730M590.5 729V730M594.5 731V732M595.5 732V733M596.5 732V733M600.5 734V735M601.5 734V735M602.5 735V736M606.5 735V736M607.5 735V736M608.5 735V736M612.5 735V736M613.5 735V736M614.5 735V736M618.5 734V735M619.5 734V735M620.5 734V735M624.5 733V734M625.5 733V734M626.5 732V733M630.5 732V733M631.5 732V733M632.5 732V733M636.5 731V732M637.5 731V732M638.5 731V732M642.5 731V732M643.5 731V732M644.5 731V732M648.5 730V731M649.5 730V731M650.5 730V731M654.5 729V730M655.5 729V730M656.5 729V730M660.5 728V729M661.5 728V729M662.5 728V729M666.5 727V728M667.5 727V728M668.5 727V728M672.5 727V728M673.5 727V728M674.5 727V728M678.5 727V728M679.5 727V728M680.5 727V728M684.5 727V728M685.5 727V728M686.5 728V729M690.5 728V729M691.5 728V729M692.5 728V729M696.5 729V730M697.5 729V730M698.5 729V730M702.5 729V730M703.5 729V730M704.5 729V730M708.5 729V730M709.5 729V730M710.5 729V730M714.5 729V730M715.5 729V730M716.5 729V730M720.5 728V729M721.5 728V729M722.5 728V729M726.5 727V728M727.5 727V728M728.5 727V728M732.5 726V727M733.5 726V727M734.5 725V726M738.5 724V725M739.5 724V725M740.5 724V725M744.5 723V724M745.5 723V724M746.5 722V723M750.5 722V723M751.5 722V723M752.5 722V723M756.5 723V724M757.5 723V724M758.5 723V724M762.5 724V725M763.5 725V726M764.5 725V726M768.5 728V729M769.5 729V730M770.5 730V731M774.5 733V734M775.5 733V734M776.5 734V735M780.5 738V739M781.5 739V740M782.5 740V741M786.5 744V745M787.5 744V745M788.5 745V746M792.5 748V749M793.5 749V750M794.5 749V750M798.5 751V752M799.5 752V753M800.5 752V753M804.5 753V754M805.5 753V754M806.5 753V754M810.5 754V755M811.5 754V755M812.5 754V755M816.5 753V754M817.5 753V754M818.5 753V754M822.5 753V754M823.5 753V754M824.5 753V754M828.5 753V754M829.5 753V754M830.5 752V753M834.5 752V753M835.5 752V753M836.5 752V753M840.5 752V753M841.5 752V753M842.5 751V752M846.5 751V752M847.5 751V752M848.5 751V752M852.5 750V751M853.5 750V751M854.5 750V751M858.5 749V750M859.5 749V750M860.5 749V750M864.5 748V749M865.5 748V749M866.5 748V749M870.5 749V750M871.5 749V750M872.5 749V750M876.5 750V751M877.5 751V752M878.5 751V752M882.5 753V754M883.5 754V755M884.5 754V755M888.5 756V757M889.5 757V758M890.5 757V758M894.5 759V760M895.5 760V761M896.5 760V761M900.5 762V763M901.5 762V763M902.5 763V764M906.5 764V765M907.5 765V766M908.5 765V766M912.5 766V767M913.5 766V767M914.5 766V767M918.5 766V767M919.5 766V767M920.5 766V767M924.5 766V767M925.5 766V767M926.5 766V767M930.5 765V766M931.5 765V766M932.5 765V766M936.5 764V765M937.5 763V764M938.5 763V764M942.5 761V762M943.5 761V762M944.5 761V762M948.5 759V760M949.5 759V760M950.5 758V759M954.5 757V758M955.5 756V757M956.5 756V757M960.5 755V756M961.5 755V756M962.5 754V755M966.5 754V755M967.5 754V755M968.5 754V755M972.5 754V755M973.5 754V755M974.5 755V756M978.5 755V756M979.5 755V756M980.5 755V756M984.5 756V757M985.5 756V757M986.5 757V758M990.5 758V759M991.5 758V759M992.5 758V759M996.5 759V760M997.5 759V760M998.5 760V761M1002.5 761V762M1003.5 761V762M1004.5 761V762M1008.5 761V762M1009.5 761V762M1010.5 761V762M1014.5 762V763M1015.5 762V763M1016.5 762V763M1020.5 762V763M1021.5 762V763M1022.5 763V764M1026.5 764V765M1027.5 764V765M1028.5 764V765M1032.5 764V765M1033.5 764V765M1034.5 764V765M1038.5 765V766M1039.5 765V766M1040.5 765V766M1044.5 765V766M1045.5 765V766M1046.5 766V767M1050.5 766V767M1051.5 766V767M1052.5 766V767M1056.5 767V768M1057.5 767V768M1058.5 768V769M1062.5 769V770M1063.5 769V770M1064.5 769V770M1068.5 771V772M1069.5 771V772M1070.5 772V773M1074.5 773V774M1075.5 774V775M1076.5 774V775M1080.5 775V776M1081.5 775V776M1082.5 776V777M1086.5 777V778M1087.5 777V778M1088.5 777V778M1092.5 777V778M1093.5 777V778M1094.5 777V778M1098.5 776V777M1099.5 776V777M1100.5 776V777M1104.5 776V777M1105.5 776V777M1106.5 775V776M1110.5 775V776M1111.5 775V776M1112.5 775V776M1116.5 775V776M1117.5 775V776M1118.5 775V776M1122.5 776V777M1123.5 776V777M1124.5 776V777M1128.5 777V778M1129.5 777V778M1130.5 777V778M1134.5 778V779M1135.5 778V779M1136.5 778V779M1140.5 778V779M1141.5 778V779M1142.5 777V778M1146.5 776V777M1147.5 776V777M1148.5 776V777M1152.5 773V774M1153.5 772V773M1154.5 771V772M1158.5 768V769M1159.5 768V769M1160.5 767V768M1164.5 764V765M1165.5 764V765M1166.5 763V764M1170.5 762V763M1171.5 761V762M1172.5 761V762M1176.5 760V761M1177.5 760V761M1178.5 761V762M1182.5 762V763M1183.5 762V763M1184.5 762V763M1188.5 763V764M1189.5 764V765M1190.5 764V765M1194.5 766V767M1195.5 767V768M1196.5 767V768M1200.5 770V771M1201.5 771V772M1202.5 771V772M1206.5 773V774M1207.5 773V774M1208.5 773V774M1212.5 774V775M1213.5 774V775M1214.5 774V775M1218.5 774V775M1219.5 774V775M1220.5 774V775M1224.5 775V776M1225.5 775V776M1226.5 775V776M1230.5 775V776M1231.5 775V776M1232.5 775V776M1236.5 775V776M1237.5 775V776M1238.5 776V777M1242.5 777V778M1243.5 777V778M1244.5 777V778M1248.5 777V778M1249.5 777V778M1250.5 777V778M1254.5 777V778M1255.5 777V778M1256.5 777V778M1260.5 776V777M1261.5 775V776M1262.5 775V776M1266.5 773V774M1267.5 772V773M1268.5 772V773" fill="none" stroke="#ff0000" stroke-width="1" shape-rendering="crispEdges"/>
</g>
<g id="dates">
<rect x="4" y="790" width="1" height="3" fill="#000"/>
<text x="3.5" y="802" font-size="9.8" fill="#000" stroke="#000" stroke-width="0.08" textLength="50.5" lengthAdjust="spacingAndGlyphs">28 Oct 2019</text>
<rect x="68" y="790" width="1" height="3" fill="#000"/>
<text x="67.5" y="802" font-size="9.8" fill="#000" stroke="#000" stroke-width="0.08" textLength="52.6" lengthAdjust="spacingAndGlyphs">15 Nov 2019</text>
<rect x="132" y="790" width="1" height="3" fill="#000"/>
<text x="131.5" y="802" font-size="9.8" fill="#000" stroke="#000" stroke-width="0.08" textLength="47.4" lengthAdjust="spacingAndGlyphs">4 Dec 2019</text>
<rect x="196" y="790" width="1" height="3" fill="#000"/>
<text x="195.5" y="802" font-size="9.8" fill="#000" stroke="#000" stroke-width="0.08" textLength="52.6" lengthAdjust="spacingAndGlyphs">23 Dec 2019</text>
<rect x="260" y="790" width="1" height="3" fill="#000"/>
<text x="259.5" y="802" font-size="9.8" fill="#000" stroke="#000" stroke-width="0.08" textLength="51.0" lengthAdjust="spacingAndGlyphs">10 Jan 2020</text>
<rect x="324" y="790" width="1" height="3" fill="#000"/>
<text x="323.5" y="802" font-size="9.8" fill="#000" stroke="#000" stroke-width="0.08" textLength="51.0" lengthAdjust="spacingAndGlyphs">29 Jan 2020</text>
<rect x="388" y="790" width="1" height="3" fill="#000"/>
<text x="387.5" y="802" font-size="9.8" fill="#000" stroke="#000" stroke-width="0.08" textLength="52.1" lengthAdjust="spacingAndGlyphs">17 Feb 2020</text>
<rect x="452" y="790" width="1" height="3" fill="#000"/>
<text x="451.5" y="802" font-size="9.8" fill="#000" stroke="#000" stroke-width="0.08" textLength="46.9" lengthAdjust="spacingAndGlyphs">6 Mar 2020</text>
<rect x="516" y="790" width="1" height="3" fill="#000"/>
<text x="515.5" y="802" font-size="9.8" fill="#000" stroke="#000" stroke-width="0.08" textLength="52.1" lengthAdjust="spacingAndGlyphs">25 Mar 2020</text>
<rect x="580" y="790" width="1" height="3" fill="#000"/>
<text x="579.5" y="802" font-size="9.8" fill="#000" stroke="#000" stroke-width="0.08" textLength="50.0" lengthAdjust="spacingAndGlyphs">13 Apr 2020</text>
<rect x="644" y="790" width="1" height="3" fill="#000"/>
<text x="643.5" y="802" font-size="9.8" fill="#000" stroke="#000" stroke-width="0.08" textLength="48.4" lengthAdjust="spacingAndGlyphs">1 May 2020</text>
<rect x="708" y="790" width="1" height="3" fill="#000"/>
<text x="707.5" y="802" font-size="9.8" fill="#000" stroke="#000" stroke-width="0.08" textLength="53.6" lengthAdjust="spacingAndGlyphs">20 May 2020</text>
<rect x="772" y="790" width="1" height="3" fill="#000"/>
<text x="771.5" y="802" font-size="9.8" fill="#000" stroke="#000" stroke-width="0.08" textLength="45.9" lengthAdjust="spacingAndGlyphs">8 Jun 2020</text>
<rect x="836" y="790" width="1" height="3" fill="#000"/>
<text x="835.5" y="802" font-size="9.8" fill="#000" stroke="#000" stroke-width="0.08" textLength="51.0" lengthAdjust="spacingAndGlyphs">26 Jun 2020</text>
<rect x="900" y="790" width="1" height="3" fill="#000"/>
<text x="899.5" y="802" font-size="9.8" fill="#000" stroke="#000" stroke-width="0.08" textLength="47.9" lengthAdjust="spacingAndGlyphs">15 Jul 2020</text>
<rect x="964" y="790" width="1" height="3" fill="#000"/>
<text x="963.5" y="802" font-size="9.8" fill="#000" stroke="#000" stroke-width="0.08" textLength="46.9" lengthAdjust="spacingAndGlyphs">3 Aug 2020</text>
<rect x="1028" y="790" width="1" height="3" fill="#000"/>
<text x="1027.5" y="802" font-size="9.8" fill="#000" stroke="#000" stroke-width="0.08" textLength="52.1" lengthAdjust="spacingAndGlyphs">21 Aug 2020</text>
<rect x="1092" y="790" width="1" height="3" fill="#000"/>
<text x="1091.5" y="802" font-size="9.8" fill="#000" stroke="#000" stroke-width="0.08" textLength="47.4" lengthAdjust="spacingAndGlyphs">9 Sep 2020</text>
<rect x="1156" y="790" width="1" height="3" fill="#000"/>
<text x="1155.5" y="802" font-size="9.8" fill="#000" stroke="#000" stroke-width="0.08" textLength="52.6" lengthAdjust="spacingAndGlyphs">28 Sep 2020</text>
<rect x="1220" y="790" width="1" height="3" fill="#000"/>
<text x="1219.5" y="802" font-size="9.8" fill="#000" stroke="#000" stroke-width="0.08" textLength="50.5" lengthAdjust="spacingAndGlyphs">16 Oct 2020</text>
</g>
<g id="tabs">
<rect x="0" y="810" width="1639" height="1" fill="#ececec"/>
<rect x="0" y="813" width="1639" height="22" fill="#f0f0f0"/>
<rect x="0" y="832" width="1639" height="1" fill="#ffffff"/>
<rect x="0" y="812" width="1639" height="1" fill="#000"/>
<rect x="0" y="835" width="1639" height="1" fill="#d4d4d4"/>
<rect x="0" y="836" width="1639" height="1" fill="#a0a0a0"/>
<rect x="0" y="837" width="1639" height="3" fill="#ffffff"/>
<rect x="188" y="837" width="1" height="3" fill="#f0f0f0"/>
<rect x="319" y="837" width="1" height="3" fill="#f0f0f0"/>
<rect x="419" y="837" width="1" height="3" fill="#f0f0f0"/>
<rect x="549" y="837" width="1" height="3" fill="#f0f0f0"/>
<rect x="694" y="837" width="1" height="3" fill="#f0f0f0"/>
<rect x="839" y="837" width="1" height="3" fill="#f0f0f0"/>
<rect x="984" y="837" width="1" height="3" fill="#f0f0f0"/>
<rect x="1129" y="837" width="1" height="3" fill="#f0f0f0"/>
<rect x="1274" y="837" width="1" height="3" fill="#f0f0f0"/>
<rect x="1419" y="837" width="1" height="3" fill="#f0f0f0"/>
<rect x="417" y="812" width="104" height="19" fill="#000"/>
<rect x="418" y="812" width="102" height="18" fill="#fff"/>
<text x="16.8" y="826.6" font-size="12" fill="#6a6a6a" textLength="80.5" lengthAdjust="spacingAndGlyphs">EURUSD,Daily</text>
<text x="119.1" y="826.6" font-size="12" fill="#6a6a6a" textLength="78.9" lengthAdjust="spacingAndGlyphs">USDCHF,Daily</text>
<text x="219.8" y="826.6" font-size="12" fill="#6a6a6a" textLength="82.2" lengthAdjust="spacingAndGlyphs">AUDUSD,Daily</text>
<text x="323.8" y="826.6" font-size="12" fill="#6a6a6a" textLength="81.6" lengthAdjust="spacingAndGlyphs">USDCAD,Daily</text>
<text x="532.9" y="826.6" font-size="12" fill="#6a6a6a" textLength="80.2" lengthAdjust="spacingAndGlyphs">EURUSD,Daily</text>
<text x="636.9" y="826.6" font-size="12" fill="#6a6a6a" textLength="67.8" lengthAdjust="spacingAndGlyphs">GBPUSD,H4</text>
<text x="728.2" y="826.6" font-size="12" fill="#6a6a6a" textLength="68.8" lengthAdjust="spacingAndGlyphs">XAUUSD,H1</text>
<text x="820.5" y="826.6" font-size="12" fill="#6a6a6a" textLength="48.6" lengthAdjust="spacingAndGlyphs">HK50,H1</text>
<text x="892" y="826.6" font-size="12" fill="#6a6a6a" textLength="56.7" lengthAdjust="spacingAndGlyphs">UK100,H1</text>
<text x="972" y="826.6" font-size="12" fill="#6a6a6a" textLength="56.5" lengthAdjust="spacingAndGlyphs">UK100,H1</text>
<text x="1052.3" y="826.6" font-size="12" fill="#6a6a6a" textLength="56.5" lengthAdjust="spacingAndGlyphs">GER30,H1</text>
<text x="1131.1" y="826.6" font-size="12" fill="#6a6a6a" textLength="55.0" lengthAdjust="spacingAndGlyphs">FRA40,H1</text>
<text x="1207.6" y="826.6" font-size="12" fill="#6a6a6a" textLength="50.2" lengthAdjust="spacingAndGlyphs">USOil,H4</text>
<text x="1279" y="826.6" font-size="12" fill="#6a6a6a" textLength="62.4" lengthAdjust="spacingAndGlyphs">USDJPY,H1</text>
<text x="1363.3" y="826.6" font-size="12" fill="#6a6a6a" textLength="58.7" lengthAdjust="spacingAndGlyphs">DJ30,Daily</text>
<text x="1443.2" y="826.6" font-size="12" fill="#6a6a6a" textLength="78.1" lengthAdjust="spacingAndGlyphs">CHINA300,H1</text>
<text x="1543.2" y="826.6" font-size="12" fill="#6a6a6a" textLength="50.5" lengthAdjust="spacingAndGlyphs">USOil,H1</text>
<text x="427.4" y="826.6" font-size="12" fill="#000" textLength="82.4" lengthAdjust="spacingAndGlyphs">USDCNH,Daily</text>
<rect x="109" y="815" width="1" height="14" fill="#6a6a6a"/>
<rect x="209" y="815" width="1" height="14" fill="#6a6a6a"/>
<rect x="313" y="815" width="1" height="14" fill="#6a6a6a"/>
<rect x="625" y="815" width="1" height="14" fill="#6a6a6a"/>
<rect x="717" y="815" width="1" height="14" fill="#6a6a6a"/>
<rect x="809" y="815" width="1" height="14" fill="#6a6a6a"/>
<rect x="881" y="815" width="1" height="14" fill="#6a6a6a"/>
<rect x="961" y="815" width="1" height="14" fill="#6a6a6a"/>
<rect x="1041" y="815" width="1" height="14" fill="#6a6a6a"/>
<rect x="1121" y="815" width="1" height="14" fill="#6a6a6a"/>
<rect x="1197" y="815" width="1" height="14" fill="#6a6a6a"/>
<rect x="1269" y="815" width="1" height="14" fill="#6a6a6a"/>
<rect x="1353" y="815" width="1" height="14" fill="#6a6a6a"/>
<rect x="1433" y="815" width="1" height="14" fill="#6a6a6a"/>
<rect x="1533" y="815" width="1" height="14" fill="#6a6a6a"/>
<rect x="1605" y="815" width="1" height="14" fill="#6a6a6a"/>
<rect x="0" y="813" width="1" height="18" fill="#6a6a6a"/>
<path d="M1615.5 818.5 L1615.5 825.5 L1611.8 822 Z" fill="#a0a0a0"/>
<path d="M1630.5 818.5 L1630.5 825.5 L1634.2 822 Z" fill="#000"/>
</g>
</svg>
<div id="tbl"><svg width="300" height="22" viewBox="0 0 300 22"><text x="43.3" y="13.9" font-size="9.8" text-rendering="geometricPrecision" fill="#2c2c2c" stroke="#2c2c2c" stroke-width="0.12" textLength="13.4" lengthAdjust="spacingAndGlyphs">M1</text><text x="71.7" y="13.9" font-size="9.8" text-rendering="geometricPrecision" fill="#2c2c2c" stroke="#2c2c2c" stroke-width="0.12" textLength="12.8" lengthAdjust="spacingAndGlyphs">M5</text><text x="97.89999999999999" y="13.9" font-size="9.8" text-rendering="geometricPrecision" fill="#2c2c2c" stroke="#2c2c2c" stroke-width="0.12" textLength="17.4" lengthAdjust="spacingAndGlyphs">M15</text><text x="125.7" y="13.9" font-size="9.8" text-rendering="geometricPrecision" fill="#2c2c2c" stroke="#2c2c2c" stroke-width="0.12" textLength="17.7" lengthAdjust="spacingAndGlyphs">M30</text><text x="156.8" y="13.9" font-size="9.8" text-rendering="geometricPrecision" fill="#2c2c2c" stroke="#2c2c2c" stroke-width="0.12" textLength="11.5" lengthAdjust="spacingAndGlyphs">H1</text><text x="183.9" y="13.9" font-size="9.8" text-rendering="geometricPrecision" fill="#2c2c2c" stroke="#2c2c2c" stroke-width="0.12" textLength="12.3" lengthAdjust="spacingAndGlyphs">H4</text><text x="212.60000000000002" y="13.9" font-size="9.8" text-rendering="geometricPrecision" fill="#2c2c2c" stroke="#2c2c2c" stroke-width="0.12" textLength="11.9" lengthAdjust="spacingAndGlyphs">D1</text><text x="240.60000000000002" y="13.9" font-size="9.8" text-rendering="geometricPrecision" fill="#2c2c2c" stroke="#2c2c2c" stroke-width="0.12" textLength="13.7" lengthAdjust="spacingAndGlyphs">W1</text><text x="267.0" y="13.9" font-size="9.8" text-rendering="geometricPrecision" fill="#2c2c2c" stroke="#2c2c2c" stroke-width="0.12" textLength="14.3" lengthAdjust="spacingAndGlyphs">MN</text></svg></div>
</body></html>
